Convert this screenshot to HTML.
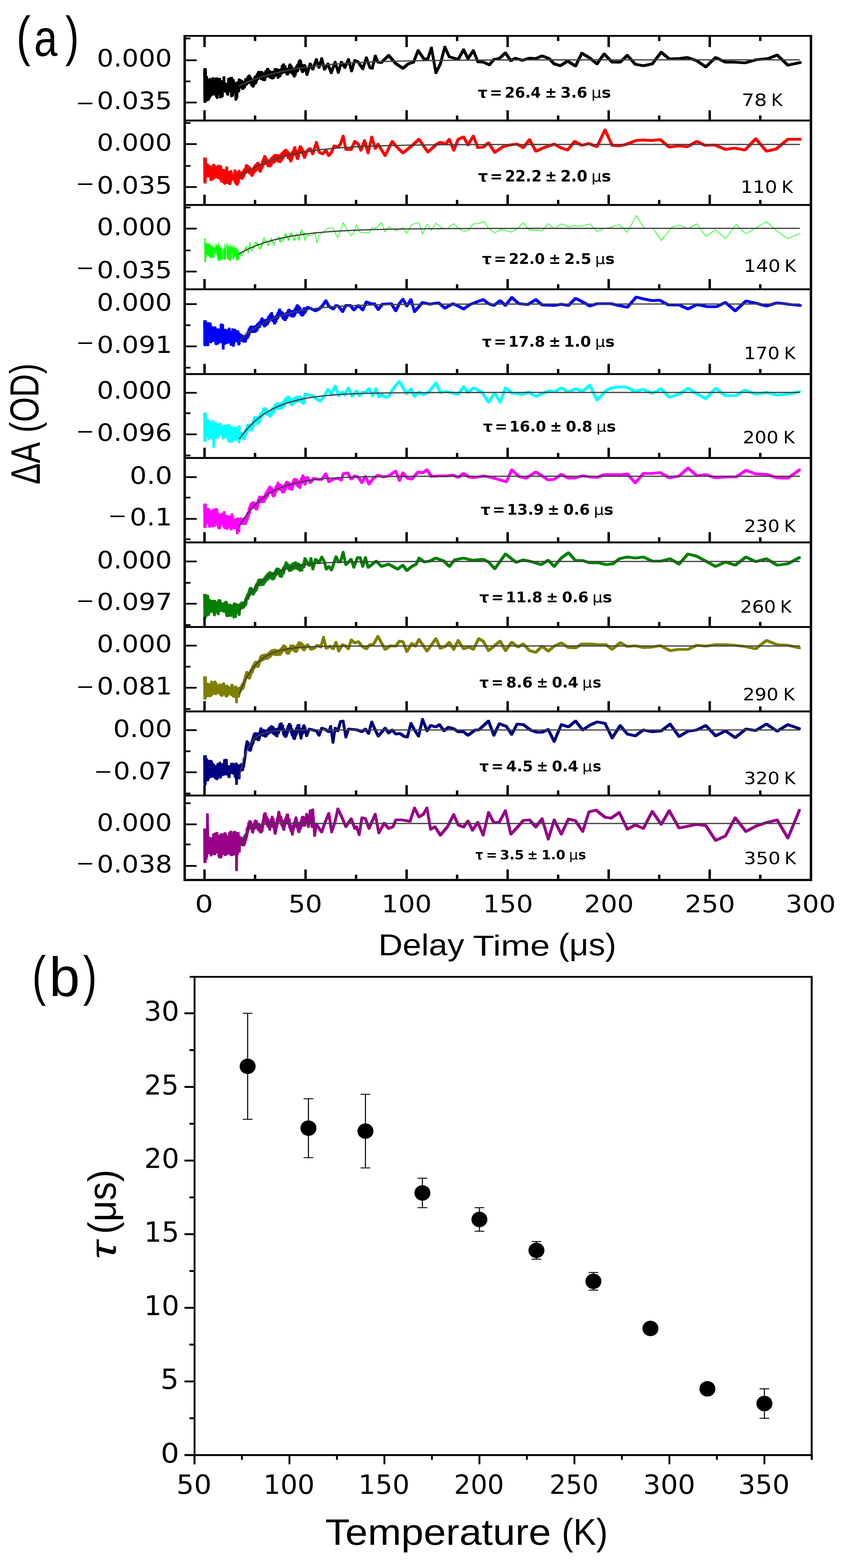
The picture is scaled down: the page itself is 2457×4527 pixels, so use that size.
<!DOCTYPE html><html><head><meta charset="utf-8"><style>html,body{margin:0;padding:0;background:#fff}svg{display:block}</style></head><body>
<svg xmlns="http://www.w3.org/2000/svg" width="2457" height="4527" viewBox="0 0 2457 4527">
<rect width="2457" height="4527" fill="#fff"/>
<g fill="none" stroke="#000000" stroke-width="4.2" stroke-linejoin="round" stroke-linecap="round"><polyline id="tr0" transform="translate(-1.7,-1.7)" points="590.5,200.3 591.2,293.2 591.9,200.4 592.6,293.3 593.3,200.6 594.0,286.0 594.7,278.8 595.4,231.9 596.1,231.8 596.8,223.0 597.5,283.8 598.2,231.9 598.9,288.7 599.6,232.8 600.3,286.0 601.0,234.1 601.7,233.8 602.4,285.7 603.1,232.2 603.8,279.4 604.5,273.3 605.2,280.5 605.9,228.9 606.6,274.2 607.3,234.1 608.0,276.1 608.7,273.4 609.4,232.5 610.1,267.3 610.8,236.2 611.5,272.5 612.2,231.0 612.9,269.1 613.6,269.2 614.3,227.6 615.0,226.5 615.7,267.1 616.4,235.8 617.1,272.3 617.8,234.1 618.5,233.5 619.2,261.2 619.9,264.1 620.6,232.9 621.3,261.2 622.0,230.0 622.7,261.9 623.4,227.1 624.1,276.5 624.8,276.6 625.5,227.1 626.2,280.3 626.9,281.8 627.6,233.8 628.3,271.2 629.0,234.1 629.7,231.5 630.4,233.5 631.1,233.3 631.8,265.4 632.5,228.2 633.2,268.6 633.9,228.6 634.6,263.5 635.3,232.2 636.0,280.4 636.7,237.8 637.4,237.8 638.1,234.9 638.8,274.1 639.5,236.1 640.2,273.3 640.9,240.8 641.6,278.1 642.3,273.6 643.0,241.9 643.7,259.3 644.4,242.5 645.1,259.1 645.8,259.1 646.5,223.8 647.2,257.2 647.9,243.4 648.6,258.9 649.3,242.6 650.0,244.5 650.7,263.9 651.4,242.3 652.1,261.0 652.8,245.9 653.5,261.1 654.2,245.0 654.9,262.2 655.6,243.5 656.3,270.2 657.0,246.0 657.7,272.7 658.4,260.9 659.1,259.5 659.8,228.9 660.5,232.6 661.2,260.0 661.9,260.5 662.6,262.8 663.3,228.1 664.0,261.3 664.7,226.2 665.4,262.5 666.1,261.7 666.8,238.0 667.5,238.6 668.2,277.2 668.9,225.2 669.6,227.8 670.3,272.9 671.0,233.4 671.7,274.9 672.4,231.2 673.1,265.8 673.8,232.4 674.5,263.0 675.2,265.6 675.9,263.1 676.6,239.0 677.3,243.9 678.0,263.8 678.7,243.6 679.4,248.3 680.1,245.3 680.8,287.3 681.5,245.6 682.2,283.9 682.9,246.5 683.6,279.0 684.3,278.6 685.0,240.5 685.7,262.7 686.4,237.5 687.1,264.2 687.8,239.7 688.5,262.8 689.2,245.2 689.9,262.3 690.6,230.1 691.3,234.0 692.0,245.9 692.7,244.1 693.4,232.3 694.1,248.2 694.8,236.6 695.5,245.9 696.2,235.1 696.9,237.8 697.6,233.8 698.3,253.2 699.0,248.0 699.7,239.1 700.4,236.6 701.1,256.1 701.8,255.2 702.5,240.1 703.2,250.9 703.9,241.0 704.6,250.6 705.3,237.1 706.0,251.6 706.7,247.8 707.4,237.8 708.1,244.8 708.8,230.2 709.5,229.8 710.2,241.1 710.9,229.0 711.6,243.1 712.3,228.5 713.0,240.8 713.7,230.7 714.4,239.5 715.1,236.2 715.8,222.4 716.5,234.4 717.2,224.8 717.9,236.4 718.6,237.0 719.3,220.4 720.0,218.8 720.7,234.1 721.4,225.6 722.1,238.6 722.8,224.2 723.5,239.3 724.2,226.7 724.9,239.4 725.6,228.1 726.3,245.8 727.0,243.2 727.7,233.8 728.4,244.8 729.1,237.6 729.8,238.1 730.5,249.5 731.2,248.3 731.9,244.0 732.6,231.1 733.3,243.8 734.0,230.3 734.7,239.9 735.4,223.9 736.1,239.6 736.8,223.5 737.5,240.5 738.2,220.5 738.9,233.7 739.6,237.2 740.3,222.3 741.0,232.1 741.7,219.6 742.4,227.5 743.1,214.4 743.8,227.9 744.5,226.0 745.2,213.4 745.9,210.1 746.6,208.3 747.3,220.4 748.0,211.8 748.7,208.5 749.4,211.1 750.1,225.3 750.8,210.0 751.5,224.8 752.2,210.9 752.9,208.5 753.6,211.3 754.3,227.7 755.0,209.9 755.7,225.7 756.4,208.9 757.1,222.9 757.8,227.5 758.5,216.0 759.2,229.3 759.9,216.4 760.6,227.4 761.3,224.3 762.0,212.2 762.7,231.0 763.4,217.2 764.1,229.0 764.8,229.6 765.5,213.0 766.2,222.7 766.9,207.6 767.6,206.2 768.3,211.0 769.0,220.2 769.7,219.2 770.4,205.9 771.1,219.2 771.8,199.9 772.5,215.6 773.2,199.7 773.9,218.7 774.6,203.7 775.3,213.8 776.0,203.5 776.7,217.9 777.4,208.8 778.1,221.4 778.8,209.8 779.5,222.2 780.2,207.5 780.9,210.8 781.6,224.3 782.3,210.0 783.0,219.1 783.7,212.2 784.4,222.9 785.1,208.1 785.8,225.8 786.5,209.2 787.2,223.5 787.9,225.4 788.6,208.7 789.3,208.4 790.0,223.6 790.7,208.2 791.4,218.0 792.1,206.8 792.8,219.5 793.5,204.0 794.2,199.7 794.9,213.9 795.6,201.3 796.3,213.6 797.0,214.6 797.7,199.8 798.4,216.8 799.1,203.2 799.8,215.5 800.5,202.3 801.2,216.4 801.9,208.1 802.6,223.9 803.3,210.5 804.0,221.1 804.7,219.1 805.4,219.5 806.1,219.6 806.8,202.6 807.5,218.6 808.2,202.9 808.9,219.0 809.6,202.0 810.3,211.5 811.0,203.0 811.7,208.6 812.4,210.4 813.1,199.7 813.8,211.5 814.5,191.5 815.2,207.2 815.9,192.1 816.6,208.1 817.3,189.4 818.0,199.2 818.7,186.6 819.4,202.9 820.1,191.6 820.8,205.0 821.5,191.5 822.2,207.4 822.9,206.3 823.6,192.8 824.3,209.0 825.0,200.8 825.7,208.8 826.4,200.7 827.1,200.1 827.8,204.8 828.5,213.6 829.2,204.5 829.9,214.6 830.6,204.0 831.3,210.8 832.0,211.2 832.7,199.5 833.4,208.5 834.1,198.5 834.8,204.9 835.5,190.3 836.2,208.1 836.9,187.3 837.6,186.8 838.3,190.2 839.0,203.2 839.7,194.1 840.4,207.9 841.2,192.1 841.9,209.9 842.6,196.1 843.3,211.3 844.0,197.8 844.7,211.9 845.4,199.8 846.1,212.5 846.8,200.6 847.5,216.0 848.2,201.6 848.9,205.0 849.6,220.1 850.3,203.4 851.0,215.3 851.7,201.8 852.4,216.3 853.1,197.0 853.8,210.0 854.5,209.1 855.2,206.0 855.9,197.9 856.6,191.5 857.3,191.7 858.0,202.3 858.7,188.9 859.4,204.4 860.1,187.5 860.8,198.8 861.5,196.5 862.2,185.1 862.9,179.9 863.6,190.1 864.3,177.6 865.0,193.8 865.7,174.8 866.4,188.7 867.1,189.0 867.8,177.1 868.5,180.5 869.2,185.3 869.9,200.1 870.6,188.0 871.3,189.7 872.0,204.7 872.7,191.4 873.4,207.4 874.1,202.3 874.8,190.5 875.5,204.6 876.2,193.2 876.9,200.7 877.6,191.5 878.3,188.4 879.0,199.0 879.7,200.9 880.0,189.7 886.2,215.4 895.5,184.5 903.2,200.0 913.5,171.7 921.2,194.8 928.9,169.1 936.7,200.0 947.0,184.5 956.2,210.3 967.6,179.4 976.8,209.3 985.6,179.4 995.9,194.8 1006.2,171.7 1014.9,205.1 1024.2,174.2 1034.5,179.4 1047.4,199.0 1057.7,166.5 1068.0,194.8 1074.7,197.4 1083.4,161.4 1091.2,179.4 1101.5,180.4 1122.1,159.8 1142.7,183.5 1163.3,197.4 1178.7,184.5 1194.2,179.4 1207.0,145.9 1225.1,171.7 1235.4,169.1 1245.7,138.2 1258.5,210.3 1271.4,184.5 1284.3,135.6 1297.2,163.9 1322.9,171.7 1338.4,143.3 1351.2,169.1 1366.7,145.9 1379.6,178.4 1395.0,179.4 1413.0,187.1 1425.9,171.7 1441.4,169.1 1459.4,152.6 1474.8,175.3 1487.7,168.1 1508.3,174.2 1528.9,168.1 1547.0,169.1 1565.0,161.4 1585.6,169.1 1600.0,184.5 1618.0,189.7 1638.6,176.3 1661.8,190.7 1679.8,153.6 1703.0,167.5 1723.6,184.5 1744.2,155.7 1767.4,179.4 1790.6,179.4 1811.2,159.8 1834.3,185.6 1857.5,189.7 1883.3,184.5 1909.0,150.6 1932.2,170.1 1960.5,169.1 1983.7,166.0 2012.0,175.3 2037.8,193.3 2066.1,166.0 2094.4,179.4 2120.2,179.4 2151.1,181.5 2182.0,172.7 2218.0,169.1 2243.8,158.8 2274.7,188.2 2310.7,180.4"/><use href="#tr0" x="3.4" y="0"/><use href="#tr0" x="0" y="3.4"/><use href="#tr0" x="3.4" y="3.4"/></g>
<polyline points="690.3,247.80 693.2,246.39 696.1,245.01 699.0,243.65 701.9,242.32 704.9,241.01 707.8,239.73 710.7,238.48 713.6,237.24 716.5,236.03 719.4,234.84 722.4,233.68 725.3,232.53 728.2,231.41 731.1,230.31 734.0,229.23 736.9,228.17 739.9,227.13 742.8,226.11 745.7,225.10 748.6,224.12 751.5,223.16 754.4,222.21 757.4,221.28 760.3,220.37 763.2,219.47 766.1,218.60 769.0,217.74 772.0,216.89 774.9,216.06 777.8,215.25 780.7,214.45 783.6,213.67 786.5,212.90 789.5,212.14 792.4,211.40 795.3,210.68 798.2,209.97 801.1,209.27 804.0,208.58 807.0,207.91 809.9,207.25 812.8,206.60 815.7,205.96 818.6,205.34 821.5,204.73 824.5,204.13 827.4,203.54 830.3,202.96 833.2,202.39 836.1,201.83 839.0,201.29 842.0,200.75 844.9,200.22 847.8,199.71 850.7,199.20 853.6,198.70 856.6,198.22 859.5,197.74 862.4,197.27 865.3,196.81 868.2,196.35 871.1,195.91 874.1,195.47 877.0,195.05 879.9,194.63 882.8,194.22 885.7,193.81 888.6,193.42 891.6,193.03 894.5,192.65 897.4,192.27 900.3,191.91 903.2,191.54 906.1,191.19 909.1,190.84 912.0,190.50 914.9,190.17 917.8,189.84 920.7,189.52 923.6,189.21 926.6,188.90 929.5,188.59 932.4,188.29 935.3,188.00 938.2,187.71 941.2,187.43 944.1,187.16 947.0,186.88 949.9,186.62 952.8,186.36 955.7,186.10 958.7,185.85 961.6,185.60 964.5,185.36 967.4,185.12 970.3,184.89 973.2,184.66 976.2,184.44 979.1,184.22 982.0,184.00 984.9,183.79 987.8,183.58 990.7,183.38 993.7,183.18 996.6,182.98 999.5,182.79 1002.4,182.60 1005.3,182.41 1008.3,182.23 1011.2,182.05 1014.1,181.88 1017.0,181.70 1019.9,181.53 1022.8,181.37 1025.8,181.21 1028.7,181.05 1031.6,180.89 1034.5,180.74 1037.4,180.59 1040.3,180.44 1043.3,180.29 1046.2,180.15 1049.1,180.01 1052.0,179.87 1054.9,179.74 1057.8,179.61 1081.2,178.64 1104.5,177.80 1127.9,177.08 1151.2,176.47 1174.5,175.94 1197.9,175.48 1221.2,175.09 1244.5,174.76 1267.9,174.47 1291.2,174.22 1314.6,174.00 1337.9,173.82 1361.2,173.66 1384.6,173.53 1407.9,173.41 1431.3,173.31 1454.6,173.23 1477.9,173.15 1501.3,173.09 1524.6,173.03 1547.9,172.99 1571.3,172.95 1594.6,172.91 1618.0,172.88 1641.3,172.86 1664.6,172.83 1688.0,172.82 1711.3,172.80 1734.6,172.79 1758.0,172.77 1781.3,172.76 1804.7,172.75 1828.0,172.75 1851.3,172.74 1874.7,172.73 1898.0,172.73 1921.3,172.73 1944.7,172.72 1968.0,172.72 1991.4,172.72 2014.7,172.71 2038.0,172.71 2061.4,172.71 2084.7,172.71 2108.1,172.71 2131.4,172.71 2154.7,172.71 2178.1,172.70 2201.4,172.70 2224.7,172.70 2248.1,172.70 2271.4,172.70 2294.8,172.70 2309.3,172.70" fill="none" stroke="#404040" stroke-width="3.6"/>
<g fill="none" stroke="#ff0000" stroke-width="4.2" stroke-linejoin="round" stroke-linecap="round"><polyline id="tr1" transform="translate(-1.7,-1.7)" points="590.5,458.2 591.2,526.0 591.9,458.5 592.6,526.3 593.3,458.8 594.0,510.4 594.7,479.1 595.4,505.0 596.1,478.5 596.8,508.3 597.5,507.0 598.2,475.3 598.9,478.9 599.6,479.3 600.3,508.1 601.0,508.9 601.7,482.4 602.4,478.8 603.1,508.0 603.8,508.0 604.5,485.2 605.2,506.8 605.9,482.4 606.6,508.9 607.3,487.4 608.0,485.8 608.7,519.1 609.4,481.7 610.1,482.6 610.8,513.7 611.5,483.0 612.2,514.9 612.9,516.8 613.6,490.3 614.3,514.3 615.0,489.2 615.7,514.5 616.4,476.5 617.1,513.9 617.8,512.0 618.5,478.9 619.2,478.8 619.9,509.0 620.6,483.2 621.3,511.2 622.0,509.5 622.7,491.3 623.4,506.8 624.1,492.4 624.8,492.9 625.5,508.6 626.2,492.9 626.9,509.8 627.6,482.2 628.3,508.8 629.0,487.4 629.7,513.1 630.4,479.6 631.1,513.1 631.8,479.3 632.5,512.2 633.2,486.6 633.9,510.4 634.6,512.8 635.3,516.2 636.0,482.7 636.7,516.8 637.4,480.7 638.1,513.4 638.8,489.6 639.5,523.5 640.2,519.8 640.9,492.9 641.6,520.9 642.3,494.5 643.0,491.9 643.7,522.5 644.4,494.1 645.1,491.8 645.8,525.5 646.5,525.5 647.2,497.7 647.9,528.1 648.6,497.9 649.3,529.8 650.0,515.5 650.7,495.8 651.4,515.4 652.1,497.3 652.8,515.8 653.5,489.2 654.2,515.4 654.9,483.9 655.6,515.2 656.3,496.0 657.0,527.4 657.7,524.1 658.4,499.2 659.1,526.6 659.8,497.1 660.5,524.0 661.2,497.3 661.9,498.3 662.6,530.2 663.3,524.9 664.0,504.1 664.7,530.3 665.4,503.8 666.1,522.5 666.8,494.8 667.5,499.8 668.2,514.1 668.9,500.8 669.6,516.7 670.3,515.7 671.0,507.0 671.7,518.1 672.4,508.2 673.1,507.7 673.8,517.1 674.5,507.0 675.2,516.8 675.9,507.2 676.6,518.8 677.3,517.9 678.0,492.9 678.7,525.3 679.4,494.3 680.1,506.9 680.8,529.1 681.5,505.2 682.2,529.7 682.9,498.4 683.6,530.3 684.3,498.7 685.0,532.8 685.7,501.2 686.4,501.9 687.1,527.4 687.8,501.7 688.5,523.6 689.2,504.9 689.9,506.4 690.6,493.8 691.3,509.1 692.0,509.0 692.7,499.7 693.4,513.7 694.1,514.1 694.8,499.4 695.5,512.3 696.2,503.4 696.9,499.9 697.6,512.9 698.3,504.2 699.0,513.4 699.7,515.3 700.4,501.1 701.1,511.1 701.8,495.7 702.5,499.2 703.2,505.8 703.9,508.0 704.6,504.0 705.3,489.9 706.0,502.9 706.7,490.8 707.4,497.6 708.1,495.7 708.8,498.8 709.5,495.4 710.2,479.5 710.9,481.2 711.6,491.5 712.3,477.5 713.0,493.0 713.7,484.6 714.4,492.1 715.1,480.6 715.8,494.5 716.5,486.4 717.2,494.9 717.9,483.3 718.6,498.6 719.3,485.9 720.0,495.3 720.7,484.3 721.4,490.1 722.1,490.1 722.8,497.8 723.5,499.3 724.2,501.8 724.9,493.7 725.6,491.7 726.3,505.0 727.0,490.5 727.7,506.9 728.4,490.6 729.1,504.1 729.8,492.5 730.5,492.3 731.2,501.5 731.9,489.7 732.6,487.3 733.3,483.5 734.0,497.0 734.7,495.8 735.4,483.0 736.1,491.7 736.8,478.6 737.5,489.0 738.2,492.2 738.9,476.7 739.6,491.6 740.3,476.3 741.0,488.1 741.7,474.0 742.4,482.5 743.1,482.2 743.8,471.9 744.5,481.3 745.2,470.5 745.9,482.8 746.6,475.3 747.3,484.7 748.0,479.6 748.7,490.8 749.4,476.0 750.1,491.9 750.8,483.5 751.5,494.8 752.2,494.3 752.9,492.1 753.6,478.0 754.3,477.4 755.0,485.1 755.7,475.7 756.4,484.7 757.1,471.0 757.8,466.5 758.5,479.3 759.2,468.6 759.9,465.5 760.6,459.4 761.3,473.9 762.0,469.0 762.7,457.3 763.4,467.5 764.1,451.2 764.8,466.0 765.5,465.0 766.2,453.2 766.9,457.6 767.6,472.0 768.3,471.3 769.0,468.4 769.7,461.8 770.4,460.7 771.1,473.2 771.8,461.5 772.5,474.1 773.2,463.8 773.9,479.2 774.6,465.2 775.3,478.3 776.0,465.7 776.7,477.7 777.4,466.7 778.1,478.4 778.8,465.5 779.5,479.8 780.2,466.1 780.9,476.1 781.6,460.4 782.3,464.4 783.0,475.4 783.7,472.3 784.4,457.1 785.1,468.9 785.8,456.9 786.5,460.0 787.2,467.5 787.9,453.9 788.6,458.0 789.3,465.3 790.0,452.4 790.7,468.7 791.4,468.1 792.1,449.7 792.8,466.4 793.5,451.6 794.2,452.0 794.9,448.0 795.6,462.8 796.3,458.7 797.0,448.9 797.7,462.3 798.4,451.3 799.1,463.0 799.8,453.6 800.5,460.2 801.2,449.1 801.9,460.3 802.6,448.9 803.3,465.8 804.0,451.8 804.7,465.1 805.4,449.5 806.1,466.1 806.8,454.1 807.5,463.3 808.2,451.9 808.9,467.3 809.6,463.6 810.3,461.4 811.0,452.5 811.7,462.6 812.4,446.2 813.1,460.9 813.8,460.2 814.5,443.4 815.2,442.6 815.9,442.4 816.6,455.6 817.3,442.3 818.0,454.1 818.7,439.4 819.4,438.3 820.1,448.2 820.8,447.4 821.5,437.0 822.2,443.4 822.9,435.2 823.6,444.1 824.3,445.3 825.0,433.3 825.7,445.2 826.4,437.6 827.1,435.1 827.8,449.4 828.5,446.3 829.2,440.5 829.9,448.8 830.6,439.1 831.3,443.1 832.0,456.0 832.7,445.2 833.4,455.0 834.1,441.6 834.8,457.0 835.5,444.5 836.2,449.4 836.9,457.9 837.6,445.6 838.3,462.7 839.0,447.2 839.7,465.1 840.4,452.4 841.2,451.1 841.9,460.9 842.6,444.2 843.3,456.1 844.0,439.7 844.7,451.2 845.4,450.8 846.1,438.7 846.8,446.0 847.5,436.8 848.2,432.5 848.9,440.1 849.6,427.5 850.3,435.9 851.0,436.5 851.7,426.0 852.4,442.1 853.1,434.9 853.8,444.5 854.5,435.6 855.2,448.9 855.9,449.9 856.6,439.5 857.3,456.6 858.0,456.9 858.7,451.2 859.4,458.1 860.1,444.9 860.8,455.0 861.5,439.4 862.2,451.0 862.9,437.8 863.6,432.9 864.3,438.8 865.0,427.0 865.7,426.8 866.4,431.9 867.1,423.1 867.8,435.6 868.5,438.3 869.2,435.3 869.9,426.7 870.6,440.1 871.3,429.7 872.0,441.0 872.7,431.4 873.4,441.9 874.1,436.9 874.8,445.1 875.5,437.3 876.2,448.5 876.9,437.5 877.6,450.0 878.3,441.3 879.0,455.1 879.7,444.6 880.0,452.0 887.7,434.0 895.5,428.8 903.2,444.3 913.5,410.8 921.2,439.1 931.5,444.3 940.8,434.0 949.5,449.4 957.3,439.1 965.0,421.1 975.3,424.7 983.0,416.0 990.7,392.8 998.5,431.4 1013.9,431.4 1024.2,408.2 1034.5,416.0 1042.2,434.0 1052.5,405.7 1062.8,441.7 1073.1,395.4 1083.4,428.8 1091.2,416.0 1111.8,449.4 1132.4,408.2 1142.7,421.1 1163.3,441.7 1189.0,421.1 1209.6,402.1 1235.4,439.1 1261.1,416.0 1271.4,410.8 1286.9,416.0 1297.2,402.1 1310.0,434.0 1322.9,402.1 1338.4,395.4 1351.2,418.5 1366.7,392.8 1379.6,426.3 1395.0,424.7 1410.5,412.4 1428.5,440.2 1451.7,423.7 1472.3,418.5 1492.9,416.0 1510.9,426.3 1528.9,403.1 1547.0,436.6 1570.1,426.3 1600.0,416.0 1618.0,426.3 1638.6,433.0 1659.2,408.2 1679.8,419.6 1700.4,414.4 1723.6,423.7 1746.8,374.8 1767.4,419.6 1788.0,421.1 1806.0,417.5 1836.9,405.7 1857.5,404.1 1880.7,405.7 1906.4,403.1 1932.2,424.7 1960.5,421.1 1983.7,423.7 2012.0,408.2 2035.2,419.6 2063.5,418.5 2094.4,431.4 2120.2,427.8 2151.1,433.0 2182.0,400.5 2212.9,436.6 2241.2,429.9 2274.7,402.1 2310.7,402.1"/><use href="#tr1" x="3.4" y="0"/><use href="#tr1" x="0" y="3.4"/><use href="#tr1" x="3.4" y="3.4"/></g>
<polyline points="689.7,511.00 692.6,508.91 695.5,506.86 698.4,504.86 701.4,502.90 704.3,500.99 707.2,499.12 710.1,497.29 713.0,495.50 715.9,493.75 718.9,492.04 721.8,490.37 724.7,488.74 727.6,487.14 730.5,485.58 733.4,484.05 736.4,482.56 739.3,481.10 742.2,479.67 745.1,478.27 748.0,476.91 750.9,475.58 753.9,474.27 756.8,473.00 759.7,471.75 762.6,470.53 765.5,469.34 768.5,468.17 771.4,467.03 774.3,465.92 777.2,464.83 780.1,463.76 783.0,462.72 786.0,461.70 788.9,460.71 791.8,459.73 794.7,458.78 797.6,457.85 800.5,456.94 803.5,456.05 806.4,455.18 809.3,454.33 812.2,453.50 815.1,452.69 818.0,451.89 821.0,451.12 823.9,450.36 826.8,449.61 829.7,448.89 832.6,448.18 835.5,447.48 838.5,446.80 841.4,446.14 844.3,445.49 847.2,444.86 850.1,444.24 853.1,443.63 856.0,443.04 858.9,442.46 861.8,441.89 864.7,441.34 867.6,440.79 870.6,440.26 873.5,439.75 876.4,439.24 879.3,438.74 882.2,438.26 885.1,437.79 888.1,437.32 891.0,436.87 893.9,436.43 896.8,436.00 899.7,435.57 902.6,435.16 905.6,434.75 908.5,434.36 911.4,433.97 914.3,433.59 917.2,433.22 920.1,432.86 923.1,432.51 926.0,432.16 928.9,431.83 931.8,431.50 934.7,431.17 937.7,430.86 940.6,430.55 943.5,430.25 946.4,429.95 949.3,429.66 952.2,429.38 955.2,429.11 958.1,428.84 961.0,428.57 963.9,428.32 966.8,428.06 969.7,427.82 972.7,427.58 975.6,427.34 978.5,427.11 981.4,426.89 984.3,426.67 987.2,426.45 990.2,426.24 993.1,426.03 996.0,425.83 998.9,425.64 1001.8,425.44 1004.7,425.26 1007.7,425.07 1010.6,424.89 1013.5,424.72 1016.4,424.54 1019.3,424.38 1022.3,424.21 1025.2,424.05 1028.1,423.89 1031.0,423.74 1033.9,423.59 1036.8,423.44 1039.8,423.30 1042.7,423.16 1045.6,423.02 1048.5,422.89 1051.4,422.76 1054.3,422.63 1057.3,422.50 1080.6,421.60 1103.9,420.84 1127.3,420.21 1150.6,419.68 1174.0,419.24 1197.3,418.87 1220.6,418.56 1244.0,418.30 1267.3,418.09 1290.6,417.91 1314.0,417.76 1337.3,417.63 1360.7,417.53 1384.0,417.44 1407.3,417.37 1430.7,417.31 1454.0,417.26 1477.3,417.21 1500.7,417.18 1524.0,417.15 1547.4,417.13 1570.7,417.10 1594.0,417.09 1617.4,417.07 1640.7,417.06 1664.0,417.05 1687.4,417.04 1710.7,417.04 1734.1,417.03 1757.4,417.02 1780.7,417.02 1804.1,417.02 1827.4,417.01 1850.8,417.01 1874.1,417.01 1897.4,417.01 1920.8,417.01 1944.1,417.01 1967.4,417.00 1990.8,417.00 2014.1,417.00 2037.5,417.00 2060.8,417.00 2084.1,417.00 2107.5,417.00 2130.8,417.00 2154.1,417.00 2177.5,417.00 2200.8,417.00 2224.2,417.00 2247.5,417.00 2270.8,417.00 2294.2,417.00 2309.3,417.00" fill="none" stroke="#404040" stroke-width="3.6"/>
<polyline points="590.5,688.5 591.4,756.2 592.3,688.7 593.1,756.4 594.0,751.5 594.9,701.4 595.8,701.5 596.6,743.3 597.5,702.3 598.4,736.4 599.3,706.3 600.1,737.1 601.0,701.4 601.9,739.3 602.8,705.6 603.6,739.3 604.5,703.9 605.4,743.1 606.3,702.4 607.1,745.3 608.0,709.1 608.9,745.0 609.8,708.5 610.6,740.9 611.5,711.6 612.4,712.6 613.3,745.7 614.1,708.4 615.0,742.1 615.9,714.6 616.8,742.4 617.6,716.9 618.5,715.3 619.4,713.3 620.3,744.7 621.1,713.8 622.0,715.7 622.9,733.2 623.8,709.0 624.6,704.2 625.5,736.5 626.4,708.6 627.3,711.1 628.1,747.8 629.0,708.0 629.9,750.5 630.8,699.0 631.6,752.7 632.5,708.8 633.4,754.6 634.3,709.7 635.1,747.5 636.0,716.5 636.9,751.1 637.8,712.9 638.6,751.3 639.5,714.8 640.4,743.7 641.3,715.9 642.1,746.9 643.0,748.2 643.9,749.6 644.8,718.7 645.6,720.7 646.5,748.0 647.4,717.8 648.3,750.6 649.1,704.7 650.0,748.3 650.9,711.6 651.8,746.7 652.6,711.3 653.5,709.3 654.4,708.6 655.3,702.2 656.1,744.7 657.0,748.1 657.9,707.8 658.8,750.1 659.6,709.5 660.5,714.0 661.4,751.9 662.3,748.8 663.1,708.1 664.0,753.4 664.9,748.2 665.8,704.4 666.6,751.3 667.5,712.3 668.4,744.0 669.3,714.1 670.1,710.4 671.0,717.8 671.9,746.9 672.8,715.9 673.6,749.9 674.5,711.5 675.4,741.9 676.3,709.7 677.1,742.0 678.0,741.7 678.9,715.7 679.8,740.1 680.6,715.7 681.5,739.6 682.4,749.8 683.3,715.8 684.1,753.6 685.0,719.8 685.9,747.0 686.8,720.3 687.6,751.7 688.5,723.3 689.4,748.2 690.3,734.9 692.0,728.3 693.8,735.3 695.5,738.3 697.3,729.5 699.0,740.3 700.8,738.0 702.5,734.1 704.3,724.5 706.0,726.2 707.8,714.5 709.5,719.7 711.3,709.8 713.0,722.3 714.8,719.8 716.5,732.2 718.3,713.2 720.0,719.2 721.8,699.1 723.5,715.5 725.3,719.4 727.0,725.0 728.8,722.4 730.5,712.8 732.3,717.1 734.0,714.5 735.8,702.6 737.5,698.9 739.3,703.9 741.0,706.8 742.8,698.8 744.5,709.9 746.3,703.9 748.0,717.5 749.8,718.9 751.5,712.5 753.3,718.9 755.0,706.4 756.8,711.1 758.5,695.5 760.3,698.8 762.0,684.6 763.8,691.0 765.5,699.7 767.3,701.1 769.0,695.5 770.8,695.4 772.5,706.4 774.3,710.2 776.0,701.3 777.8,704.9 779.5,698.2 781.3,698.4 783.0,686.3 784.8,698.4 786.5,692.0 788.3,702.3 790.0,698.7 791.8,708.7 793.5,702.2 795.3,697.5 797.0,692.0 798.8,689.2 800.5,691.4 802.3,689.3 804.0,682.8 805.8,684.5 807.5,697.8 809.3,685.9 811.0,700.0 812.8,699.9 814.5,691.6 816.3,690.0 818.0,695.1 819.8,690.6 821.5,684.9 823.3,673.1 825.0,682.8 826.8,676.2 828.5,686.4 830.3,684.1 832.0,695.9 833.8,687.5 835.5,692.4 837.3,676.5 839.0,678.0 840.8,670.9 842.6,682.7 844.3,676.7 846.1,688.0 847.8,694.0 849.6,687.2 851.3,694.6 853.1,688.2 854.8,674.3 856.6,681.1 858.3,677.3 860.1,690.3 861.8,683.9 863.6,695.2 865.3,681.1 867.1,669.1 868.8,674.4 870.6,661.7 872.3,666.9 874.1,678.7 875.8,681.0 877.6,670.7 879.3,683.1 880.0,694.3 885.2,680.4 903.2,678.9 908.3,670.1 915.0,701.0 921.2,678.9 931.5,671.1 941.8,661.9 949.5,658.3 959.8,656.7 965.0,667.0 975.3,686.6 990.7,642.8 1003.6,666.0 1013.9,680.4 1021.6,671.1 1029.4,649.5 1039.7,671.1 1050.0,672.2 1065.4,672.2 1073.1,658.3 1086.0,658.3 1101.5,642.8 1111.8,670.1 1122.1,654.7 1132.4,660.8 1142.7,666.0 1153.0,661.9 1163.3,657.2 1173.6,673.7 1189.0,648.0 1209.6,642.8 1219.9,676.3 1232.8,646.4 1245.7,665.0 1258.5,644.4 1276.6,658.3 1292.0,659.8 1310.0,645.4 1325.5,660.8 1338.4,667.0 1351.2,666.0 1366.7,646.4 1382.1,645.4 1397.6,639.2 1410.5,658.3 1428.5,672.2 1446.5,662.4 1477.4,670.1 1495.5,658.3 1510.9,642.8 1526.4,663.4 1549.5,665.0 1565.0,667.0 1583.0,645.4 1600.0,660.8 1620.6,646.4 1641.2,654.7 1656.7,651.6 1679.8,653.1 1703.0,646.4 1723.6,668.6 1741.6,660.8 1762.2,656.7 1788.0,648.0 1811.2,671.1 1836.9,622.2 1860.1,658.3 1885.8,659.8 1909.0,694.3 1939.9,655.7 1960.5,649.5 1986.3,660.8 2012.0,646.4 2037.8,682.5 2066.1,663.4 2094.4,689.2 2125.3,648.0 2153.6,675.3 2182.0,658.3 2212.9,640.2 2243.8,667.0 2274.7,689.2 2308.2,673.7" fill="none" stroke="#00ff00" stroke-width="1.8" stroke-linejoin="round" stroke-linecap="round"/>
<polyline points="689.7,733.00 692.6,731.34 695.5,729.72 698.4,728.14 701.4,726.60 704.3,725.08 707.2,723.61 710.1,722.16 713.0,720.75 715.9,719.37 718.9,718.02 721.8,716.70 724.7,715.41 727.6,714.15 730.5,712.91 733.4,711.71 736.4,710.53 739.3,709.38 742.2,708.26 745.1,707.16 748.0,706.08 750.9,705.03 753.9,704.00 756.8,703.00 759.7,702.01 762.6,701.06 765.5,700.12 768.5,699.20 771.4,698.30 774.3,697.43 777.2,696.57 780.1,695.73 783.0,694.91 786.0,694.11 788.9,693.33 791.8,692.57 794.7,691.82 797.6,691.09 800.5,690.37 803.5,689.68 806.4,688.99 809.3,688.33 812.2,687.67 815.1,687.04 818.0,686.41 821.0,685.80 823.9,685.21 826.8,684.63 829.7,684.06 832.6,683.50 835.5,682.96 838.5,682.42 841.4,681.91 844.3,681.40 847.2,680.90 850.1,680.42 853.1,679.94 856.0,679.48 858.9,679.02 861.8,678.58 864.7,678.15 867.6,677.72 870.6,677.31 873.5,676.91 876.4,676.51 879.3,676.12 882.2,675.74 885.1,675.38 888.1,675.01 891.0,674.66 893.9,674.32 896.8,673.98 899.7,673.65 902.6,673.33 905.6,673.01 908.5,672.70 911.4,672.40 914.3,672.11 917.2,671.82 920.1,671.54 923.1,671.26 926.0,670.99 928.9,670.73 931.8,670.47 934.7,670.22 937.7,669.98 940.6,669.74 943.5,669.50 946.4,669.27 949.3,669.05 952.2,668.83 955.2,668.62 958.1,668.41 961.0,668.20 963.9,668.00 966.8,667.81 969.7,667.62 972.7,667.43 975.6,667.25 978.5,667.07 981.4,666.89 984.3,666.72 987.2,666.56 990.2,666.39 993.1,666.23 996.0,666.08 998.9,665.93 1001.8,665.78 1004.7,665.63 1007.7,665.49 1010.6,665.35 1013.5,665.21 1016.4,665.08 1019.3,664.95 1022.3,664.82 1025.2,664.70 1028.1,664.58 1031.0,664.46 1033.9,664.34 1036.8,664.23 1039.8,664.12 1042.7,664.01 1045.6,663.91 1048.5,663.80 1051.4,663.70 1054.3,663.60 1057.3,663.51 1080.6,662.81 1103.9,662.22 1127.3,661.74 1150.6,661.33 1174.0,660.99 1197.3,660.71 1220.6,660.48 1244.0,660.28 1267.3,660.12 1290.6,659.98 1314.0,659.87 1337.3,659.77 1360.7,659.70 1384.0,659.63 1407.3,659.58 1430.7,659.53 1454.0,659.49 1477.3,659.46 1500.7,659.43 1524.0,659.41 1547.4,659.39 1570.7,659.38 1594.0,659.36 1617.4,659.35 1640.7,659.34 1664.0,659.34 1687.4,659.33 1710.7,659.33 1734.1,659.32 1757.4,659.32 1780.7,659.31 1804.1,659.31 1827.4,659.31 1850.8,659.31 1874.1,659.31 1897.4,659.31 1920.8,659.31 1944.1,659.30 1967.4,659.30 1990.8,659.30 2014.1,659.30 2037.5,659.30 2060.8,659.30 2084.1,659.30 2107.5,659.30 2130.8,659.30 2154.1,659.30 2177.5,659.30 2200.8,659.30 2224.2,659.30 2247.5,659.30 2270.8,659.30 2294.2,659.30 2309.3,659.30" fill="none" stroke="#404040" stroke-width="3.6"/>
<g fill="none" stroke="#0000ff" stroke-width="4.2" stroke-linejoin="round" stroke-linecap="round"><polyline id="tr3" transform="translate(-1.7,-1.7)" points="590.5,928.0 591.2,995.7 591.9,928.2 592.6,995.9 593.3,928.4 594.0,980.7 594.7,950.2 595.4,945.2 596.1,987.6 596.8,944.9 597.5,985.8 598.2,950.8 598.9,993.3 599.6,946.3 600.3,996.1 601.0,933.2 601.7,985.6 602.4,939.2 603.1,987.3 603.8,941.4 604.5,940.3 605.2,982.3 605.9,943.3 606.6,977.9 607.3,934.9 608.0,987.5 608.7,984.2 609.4,944.2 610.1,978.5 610.8,980.0 611.5,949.1 612.2,977.2 612.9,945.5 613.6,951.6 614.3,984.1 615.0,974.8 615.7,952.8 616.4,977.5 617.1,950.6 617.8,953.1 618.5,975.2 619.2,978.1 619.9,976.6 620.6,945.7 621.3,977.3 622.0,948.7 622.7,991.4 623.4,991.3 624.1,958.2 624.8,993.0 625.5,955.6 626.2,987.6 626.9,957.4 627.6,987.3 628.3,954.1 629.0,990.9 629.7,951.5 630.4,984.6 631.1,954.2 631.8,987.9 632.5,959.3 633.2,985.5 633.9,960.1 634.6,985.7 635.3,959.4 636.0,981.5 636.7,987.0 637.4,986.6 638.1,938.3 638.8,980.8 639.5,937.3 640.2,980.8 640.9,977.2 641.6,982.3 642.3,979.8 643.0,939.6 643.7,978.0 644.4,1005.8 645.1,954.2 645.8,984.2 646.5,954.0 647.2,979.4 647.9,953.3 648.6,992.1 649.3,991.7 650.0,952.7 650.7,987.5 651.4,957.0 652.1,989.4 652.8,986.3 653.5,954.6 654.2,989.8 654.9,956.0 655.6,983.7 656.3,958.8 657.0,983.7 657.7,959.1 658.4,983.4 659.1,987.9 659.8,954.0 660.5,982.8 661.2,949.6 661.9,980.6 662.6,951.8 663.3,983.8 664.0,963.8 664.7,982.3 665.4,962.1 666.1,986.8 666.8,994.8 667.5,986.7 668.2,961.6 668.9,987.5 669.6,964.7 670.3,990.5 671.0,989.3 671.7,951.6 672.4,992.8 673.1,958.3 673.8,997.8 674.5,956.5 675.2,992.0 675.9,982.8 676.6,955.8 677.3,984.0 678.0,952.9 678.7,980.3 679.4,982.6 680.1,983.0 680.8,956.8 681.5,982.5 682.2,960.2 682.9,983.0 683.6,959.3 684.3,984.1 685.0,985.1 685.7,958.0 686.4,957.0 687.1,984.4 687.8,960.2 688.5,987.3 689.2,993.6 689.9,967.3 690.6,991.9 691.3,964.8 692.0,981.3 692.7,976.7 693.4,968.7 694.1,979.5 694.8,969.4 695.5,981.7 696.2,967.6 696.9,983.0 697.6,982.9 698.3,982.7 699.0,971.8 699.7,979.3 700.4,974.1 701.1,984.8 701.8,980.2 702.5,973.4 703.2,984.2 703.9,970.7 704.6,984.8 705.3,975.8 706.0,986.0 706.7,975.9 707.4,983.6 708.1,972.7 708.8,985.6 709.5,980.6 710.2,969.1 710.9,970.6 711.6,976.5 712.3,965.5 713.0,974.3 713.7,966.8 714.4,974.9 715.1,972.3 715.8,959.7 716.5,967.3 717.2,970.3 717.9,964.3 718.6,952.3 719.3,965.3 720.0,951.0 720.7,949.7 721.4,958.1 722.1,945.9 722.8,956.8 723.5,954.8 724.2,944.8 724.9,956.5 725.6,943.2 726.3,957.6 727.0,945.8 727.7,955.0 728.4,945.3 729.1,955.0 729.8,953.9 730.5,944.2 731.2,957.8 731.9,945.0 732.6,954.4 733.3,945.1 734.0,956.7 734.7,946.1 735.4,957.8 736.1,955.2 736.8,942.2 737.5,952.6 738.2,946.2 738.9,955.5 739.6,944.0 740.3,954.1 741.0,944.1 741.7,951.3 742.4,938.3 743.1,950.5 743.8,938.2 744.5,935.5 745.2,945.0 745.9,935.4 746.6,942.9 747.3,935.5 748.0,941.4 748.7,932.4 749.4,943.2 750.1,931.4 750.8,938.2 751.5,930.0 752.2,934.9 752.9,928.7 753.6,935.0 754.3,923.9 755.0,922.8 755.7,932.7 756.4,921.5 757.1,920.0 757.8,931.8 758.5,924.1 759.2,933.0 759.9,927.3 760.6,937.5 761.3,927.0 762.0,925.0 762.7,930.3 763.4,938.7 764.1,941.6 764.8,931.4 765.5,939.3 766.2,927.3 766.9,925.7 767.6,937.9 768.3,928.9 769.0,925.1 769.7,933.0 770.4,923.2 771.1,935.6 771.8,935.3 772.5,923.7 773.2,929.9 773.9,931.0 774.6,917.5 775.3,915.9 776.0,924.8 776.7,915.6 777.4,926.4 778.1,914.3 778.8,923.2 779.5,910.7 780.2,921.0 780.9,918.9 781.6,908.2 782.3,919.7 783.0,910.7 783.7,917.7 784.4,904.4 785.1,921.5 785.8,912.2 786.5,911.9 787.2,925.9 787.9,916.0 788.6,926.2 789.3,920.9 790.0,917.2 790.7,923.1 791.4,922.2 792.1,933.3 792.8,920.2 793.5,933.3 794.2,928.5 794.9,919.1 795.6,925.2 796.3,914.3 797.0,927.2 797.7,915.0 798.4,914.1 799.1,920.8 799.8,912.0 800.5,918.0 801.2,907.0 801.9,918.0 802.6,903.3 803.3,914.8 804.0,904.2 804.7,903.0 805.4,911.1 806.1,896.4 806.8,908.9 807.5,894.4 808.2,904.6 808.9,908.1 809.6,911.4 810.3,900.0 811.0,909.0 811.7,901.8 812.4,909.5 813.1,903.7 813.8,910.9 814.5,902.6 815.2,903.2 815.9,917.0 816.6,915.9 817.3,905.5 818.0,919.5 818.7,919.1 819.4,910.8 820.1,921.4 820.8,912.5 821.5,921.7 822.2,909.4 822.9,910.6 823.6,923.4 824.3,918.5 825.0,907.8 825.7,916.2 826.4,907.6 827.1,904.9 827.8,917.3 828.5,912.6 829.2,904.2 829.9,912.9 830.6,901.6 831.3,909.5 832.0,897.4 832.7,899.5 833.4,896.1 834.1,905.8 834.8,895.0 835.5,906.5 836.2,897.9 836.9,907.3 837.6,898.0 838.3,908.0 839.0,900.6 839.7,911.0 840.4,899.7 841.2,912.5 841.9,899.1 842.6,908.7 843.3,902.1 844.0,911.3 844.7,902.4 845.4,913.3 846.1,912.7 846.8,900.7 847.5,912.5 848.2,910.5 848.9,898.9 849.6,910.0 850.3,897.4 851.0,908.8 851.7,893.0 852.4,905.1 853.1,894.4 853.8,902.0 854.5,890.8 855.2,897.9 855.9,886.7 856.6,898.0 857.3,883.6 858.0,895.0 858.7,882.1 859.4,893.8 860.1,884.3 860.8,899.4 861.5,898.1 862.2,885.7 862.9,900.8 863.6,891.1 864.3,902.4 865.0,889.2 865.7,901.9 866.4,889.4 867.1,901.5 867.8,896.1 868.5,895.5 869.2,907.6 869.9,907.3 870.6,909.0 871.3,897.8 872.0,906.0 872.7,910.2 873.4,899.1 874.1,908.3 874.8,909.3 875.5,898.4 876.2,906.6 876.9,891.7 877.6,903.2 878.3,890.3 879.0,901.2 879.7,890.9 880.0,902.5 887.7,887.1 900.6,892.2 910.9,897.4 921.2,892.2 931.5,881.9 940.8,868.0 949.5,884.5 962.4,892.2 970.1,881.9 977.9,884.5 989.2,899.9 998.5,881.9 1011.3,881.9 1021.6,894.8 1034.5,881.9 1047.4,894.8 1057.7,871.6 1070.6,876.8 1080.9,876.8 1092.2,893.8 1104.0,878.3 1129.8,876.8 1142.7,897.4 1153.0,876.8 1163.3,863.9 1174.6,883.5 1186.4,864.9 1196.7,899.9 1219.9,873.2 1240.5,878.3 1266.3,874.2 1284.3,889.6 1307.5,876.8 1322.9,883.5 1338.4,892.2 1356.4,879.3 1395.0,864.9 1410.5,876.8 1425.9,881.9 1443.9,868.0 1459.4,881.9 1477.4,858.7 1498.0,876.8 1523.8,879.3 1547.0,864.9 1565.0,880.4 1600.0,881.9 1620.6,878.3 1641.2,881.9 1661.8,861.3 1682.4,871.6 1703.0,883.5 1723.6,876.8 1764.8,876.8 1785.4,881.9 1811.2,887.1 1836.9,857.7 1857.5,862.9 1883.3,868.0 1903.9,866.5 1929.6,880.4 1960.5,880.4 1986.3,892.2 2012.0,879.3 2042.9,885.5 2068.7,885.5 2094.4,873.2 2122.7,897.4 2153.6,869.0 2182.0,875.2 2212.9,883.5 2243.8,874.2 2274.7,878.3 2310.7,881.9"/><use href="#tr3" x="3.4" y="0"/><use href="#tr3" x="0" y="3.4"/><use href="#tr3" x="3.4" y="3.4"/></g>
<polyline points="691.4,984.00 694.4,981.06 697.3,978.20 700.2,975.42 703.1,972.71 706.0,970.08 708.9,967.53 711.9,965.04 714.8,962.63 717.7,960.28 720.6,957.99 723.5,955.77 726.4,953.61 729.4,951.51 732.3,949.47 735.2,947.48 738.1,945.55 741.0,943.68 743.9,941.85 746.9,940.08 749.8,938.35 752.7,936.68 755.6,935.05 758.5,933.46 761.5,931.92 764.4,930.42 767.3,928.96 770.2,927.54 773.1,926.17 776.0,924.83 779.0,923.52 781.9,922.26 784.8,921.03 787.7,919.83 790.6,918.66 793.5,917.53 796.5,916.43 799.4,915.36 802.3,914.32 805.2,913.31 808.1,912.33 811.0,911.37 814.0,910.44 816.9,909.54 819.8,908.66 822.7,907.80 825.6,906.97 828.5,906.16 831.5,905.38 834.4,904.61 837.3,903.87 840.2,903.15 843.1,902.45 846.1,901.76 849.0,901.10 851.9,900.45 854.8,899.83 857.7,899.22 860.6,898.62 863.6,898.05 866.5,897.49 869.4,896.94 872.3,896.41 875.2,895.90 878.1,895.39 881.1,894.91 884.0,894.43 886.9,893.97 889.8,893.52 892.7,893.09 895.6,892.67 898.6,892.25 901.5,891.85 904.4,891.46 907.3,891.09 910.2,890.72 913.1,890.36 916.1,890.01 919.0,889.67 921.9,889.34 924.8,889.02 927.7,888.71 930.7,888.41 933.6,888.12 936.5,887.83 939.4,887.55 942.3,887.28 945.2,887.02 948.2,886.77 951.1,886.52 954.0,886.28 956.9,886.04 959.8,885.81 962.7,885.59 965.7,885.38 968.6,885.17 971.5,884.96 974.4,884.76 977.3,884.57 980.2,884.38 983.2,884.20 986.1,884.02 989.0,883.85 991.9,883.68 994.8,883.52 997.7,883.36 1000.7,883.21 1003.6,883.06 1006.5,882.91 1009.4,882.77 1012.3,882.63 1015.3,882.50 1018.2,882.37 1021.1,882.24 1024.0,882.12 1026.9,882.00 1029.8,881.88 1032.8,881.77 1035.7,881.66 1038.6,881.55 1041.5,881.45 1044.4,881.35 1047.3,881.25 1050.3,881.15 1053.2,881.06 1056.1,880.97 1059.0,880.88 1082.3,880.26 1105.7,879.77 1129.0,879.37 1152.4,879.05 1175.7,878.80 1199.0,878.60 1222.4,878.44 1245.7,878.31 1269.1,878.21 1292.4,878.13 1315.7,878.06 1339.1,878.01 1362.4,877.97 1385.7,877.93 1409.1,877.91 1432.4,877.88 1455.8,877.87 1479.1,877.85 1502.4,877.84 1525.8,877.83 1549.1,877.83 1572.4,877.82 1595.8,877.82 1619.1,877.81 1642.5,877.81 1665.8,877.81 1689.1,877.81 1712.5,877.81 1735.8,877.80 1759.2,877.80 1782.5,877.80 1805.8,877.80 1829.2,877.80 1852.5,877.80 1875.8,877.80 1899.2,877.80 1922.5,877.80 1945.9,877.80 1969.2,877.80 1992.5,877.80 2015.9,877.80 2039.2,877.80 2062.5,877.80 2085.9,877.80 2109.2,877.80 2132.6,877.80 2155.9,877.80 2179.2,877.80 2202.6,877.80 2225.9,877.80 2249.2,877.80 2272.6,877.80 2295.9,877.80 2309.3,877.80" fill="none" stroke="#404040" stroke-width="3.6"/>
<g fill="none" stroke="#00ffff" stroke-width="4.2" stroke-linejoin="round" stroke-linecap="round"><polyline id="tr4" transform="translate(-1.7,-1.7)" points="590.5,1194.4 591.2,1271.8 591.9,1194.7 592.6,1272.1 593.3,1195.0 594.0,1250.9 594.7,1255.9 595.4,1219.0 596.1,1223.9 596.8,1248.2 597.5,1252.3 598.2,1212.6 598.9,1249.3 599.6,1215.2 600.3,1258.5 601.0,1216.8 601.7,1260.7 602.4,1217.7 603.1,1220.8 603.8,1266.6 604.5,1217.0 605.2,1262.4 605.9,1225.2 606.6,1260.4 607.3,1227.1 608.0,1253.1 608.7,1226.1 609.4,1250.7 610.1,1230.6 610.8,1255.5 611.5,1229.6 612.2,1261.5 612.9,1266.4 613.6,1216.4 614.3,1259.4 615.0,1217.0 615.7,1264.4 616.4,1221.3 617.1,1289.0 617.8,1256.5 618.5,1220.8 619.2,1255.2 619.9,1226.2 620.6,1250.7 621.3,1222.2 622.0,1228.0 622.7,1263.3 623.4,1224.4 624.1,1263.1 624.8,1226.5 625.5,1261.0 626.2,1227.7 626.9,1228.2 627.6,1253.9 628.3,1226.5 629.0,1229.7 629.7,1263.0 630.4,1236.6 631.1,1250.7 631.8,1236.2 632.5,1253.7 633.2,1235.6 633.9,1253.0 634.6,1252.5 635.3,1225.8 636.0,1253.5 636.7,1224.2 637.4,1236.3 638.1,1238.0 638.8,1252.5 639.5,1236.8 640.2,1238.4 640.9,1252.3 641.6,1238.4 642.3,1253.6 643.0,1239.0 643.7,1265.0 644.4,1239.8 645.1,1259.0 645.8,1230.4 646.5,1235.4 647.2,1258.6 647.9,1232.8 648.6,1262.4 649.3,1230.0 650.0,1262.8 650.7,1229.7 651.4,1249.9 652.1,1229.5 652.8,1235.1 653.5,1234.1 654.2,1251.2 654.9,1250.8 655.6,1234.7 656.3,1251.7 657.0,1234.5 657.7,1235.1 658.4,1268.1 659.1,1228.4 659.8,1272.3 660.5,1228.0 661.2,1266.3 661.9,1229.6 662.6,1268.1 663.3,1274.0 664.0,1236.8 664.7,1274.7 665.4,1236.0 666.1,1270.5 666.8,1237.6 667.5,1267.4 668.2,1235.3 668.9,1274.3 669.6,1233.7 670.3,1271.8 671.0,1240.7 671.7,1259.5 672.4,1237.9 673.1,1259.0 673.8,1259.9 674.5,1239.5 675.2,1237.3 675.9,1260.7 676.6,1263.3 677.3,1238.2 678.0,1270.0 678.7,1235.9 679.4,1266.9 680.1,1256.5 680.8,1257.6 681.5,1235.7 682.2,1237.4 682.9,1257.2 683.6,1239.9 684.3,1240.3 685.0,1258.0 685.7,1238.2 686.4,1259.2 687.1,1271.3 687.8,1241.3 688.5,1240.8 689.2,1240.4 689.9,1276.6 690.6,1231.5 691.3,1265.0 692.0,1252.3 692.7,1261.6 693.4,1254.1 694.1,1265.3 694.8,1255.2 695.5,1251.6 696.2,1262.2 696.9,1250.3 697.6,1263.7 698.3,1254.3 699.0,1255.6 699.7,1253.6 700.4,1265.1 701.1,1264.5 701.8,1253.1 702.5,1255.5 703.2,1267.5 703.9,1267.7 704.6,1253.6 705.3,1264.9 706.0,1255.3 706.7,1263.6 707.4,1249.7 708.1,1245.7 708.8,1258.2 709.5,1241.6 710.2,1243.3 710.9,1249.4 711.6,1248.1 712.3,1236.5 713.0,1244.5 713.7,1229.2 714.4,1231.0 715.1,1241.9 715.8,1239.3 716.5,1238.4 717.2,1227.0 717.9,1242.2 718.6,1227.0 719.3,1239.2 720.0,1228.2 720.7,1237.1 721.4,1231.6 722.1,1238.3 722.8,1230.1 723.5,1238.2 724.2,1238.9 724.9,1231.0 725.6,1238.0 726.3,1226.7 727.0,1242.2 727.7,1228.9 728.4,1239.4 729.1,1227.4 729.8,1233.0 730.5,1221.1 731.2,1231.3 731.9,1214.5 732.6,1226.3 733.3,1213.3 734.0,1220.3 734.7,1207.2 735.4,1217.5 736.1,1205.1 736.8,1216.4 737.5,1208.1 738.2,1216.3 738.9,1207.8 739.6,1218.8 740.3,1205.7 741.0,1217.4 741.7,1210.4 742.4,1222.3 743.1,1209.9 743.8,1223.3 744.5,1209.1 745.2,1222.7 745.9,1208.2 746.6,1216.2 747.3,1204.1 748.0,1218.5 748.7,1203.1 749.4,1203.1 750.1,1214.4 750.8,1212.5 751.5,1196.8 752.2,1206.1 752.9,1207.3 753.6,1193.9 754.3,1204.4 755.0,1201.9 755.7,1194.5 756.4,1198.8 757.1,1199.2 757.8,1189.4 758.5,1188.7 759.2,1194.5 759.9,1182.1 760.6,1183.7 761.3,1192.8 762.0,1193.3 762.7,1187.7 763.4,1179.1 764.1,1191.8 764.8,1183.1 765.5,1190.7 766.2,1194.1 766.9,1180.3 767.6,1193.3 768.3,1181.0 769.0,1195.5 769.7,1183.9 770.4,1194.5 771.1,1195.0 771.8,1197.1 772.5,1187.5 773.2,1195.5 773.9,1188.6 774.6,1195.8 775.3,1197.3 776.0,1188.4 776.7,1198.2 777.4,1190.4 778.1,1197.6 778.8,1192.1 779.5,1202.5 780.2,1191.7 780.9,1197.5 781.6,1186.7 782.3,1198.7 783.0,1193.6 783.7,1184.0 784.4,1192.8 785.1,1195.9 785.8,1181.8 786.5,1180.8 787.2,1191.0 787.9,1177.7 788.6,1191.0 789.3,1179.8 790.0,1189.1 790.7,1177.5 791.4,1176.0 792.1,1184.5 792.8,1181.1 793.5,1169.8 794.2,1180.5 794.9,1171.5 795.6,1180.9 796.3,1170.5 797.0,1178.5 797.7,1166.5 798.4,1171.7 799.1,1166.2 799.8,1168.7 800.5,1179.6 801.2,1168.8 801.9,1177.8 802.6,1165.6 803.3,1169.9 804.0,1176.3 804.7,1165.6 805.4,1175.9 806.1,1177.8 806.8,1166.3 807.5,1180.3 808.2,1164.7 808.9,1169.4 809.6,1167.5 810.3,1176.5 811.0,1165.4 811.7,1167.9 812.4,1174.8 813.1,1165.1 813.8,1178.0 814.5,1167.3 815.2,1173.0 815.9,1165.1 816.6,1171.2 817.3,1161.5 818.0,1170.4 818.7,1161.4 819.4,1172.5 820.1,1159.8 820.8,1169.9 821.5,1154.7 822.2,1166.1 822.9,1153.5 823.6,1162.7 824.3,1153.7 825.0,1162.4 825.7,1155.0 826.4,1160.5 827.1,1149.9 827.8,1158.7 828.5,1149.8 829.2,1156.9 829.9,1148.3 830.6,1146.3 831.3,1154.8 832.0,1146.9 832.7,1158.3 833.4,1145.3 834.1,1150.5 834.8,1159.1 835.5,1159.3 836.2,1151.1 836.9,1162.4 837.6,1151.9 838.3,1160.8 839.0,1155.8 839.7,1164.3 840.4,1163.3 841.2,1153.2 841.9,1168.7 842.6,1156.7 843.3,1168.3 844.0,1157.9 844.7,1166.5 845.4,1165.8 846.1,1155.3 846.8,1155.3 847.5,1161.9 848.2,1151.1 848.9,1151.6 849.6,1161.2 850.3,1150.1 851.0,1151.3 851.7,1152.7 852.4,1159.8 853.1,1150.5 853.8,1160.4 854.5,1149.7 855.2,1157.8 855.9,1157.3 856.6,1146.4 857.3,1147.1 858.0,1154.3 858.7,1153.9 859.4,1146.0 860.1,1155.7 860.8,1145.6 861.5,1153.0 862.2,1158.1 862.9,1147.3 863.6,1155.8 864.3,1148.9 865.0,1155.6 865.7,1145.3 866.4,1156.8 867.1,1150.5 867.8,1157.8 868.5,1148.2 869.2,1157.7 869.9,1150.7 870.6,1159.0 871.3,1160.1 872.0,1150.1 872.7,1153.8 873.4,1162.2 874.1,1160.7 874.8,1152.3 875.5,1152.6 876.2,1165.3 876.9,1151.8 877.6,1152.0 878.3,1159.5 879.0,1162.5 879.7,1147.9 880.0,1137.1 890.3,1140.7 903.2,1142.3 910.9,1150.0 923.8,1157.7 936.7,1143.8 947.0,1124.2 957.3,1137.1 967.6,1115.0 977.9,1142.3 988.2,1132.0 995.9,1139.7 1006.2,1120.1 1016.5,1143.8 1029.4,1128.4 1037.1,1142.3 1047.4,1132.0 1055.1,1134.5 1065.4,1121.7 1075.7,1142.3 1086.0,1121.7 1093.7,1145.9 1101.5,1139.7 1114.3,1147.4 1124.6,1142.3 1132.4,1125.3 1153.0,1101.1 1173.6,1137.1 1186.4,1123.2 1196.7,1144.8 1209.6,1132.0 1222.5,1139.7 1237.9,1132.0 1258.5,1106.2 1271.4,1133.5 1286.9,1130.4 1307.5,1134.5 1322.9,1138.7 1338.4,1116.5 1351.2,1133.5 1366.7,1120.1 1389.9,1130.4 1410.5,1161.3 1428.5,1134.5 1443.9,1161.3 1459.4,1120.1 1477.4,1134.5 1508.3,1138.7 1526.4,1132.0 1547.0,1144.8 1570.1,1134.5 1585.6,1128.4 1600.0,1131.5 1620.6,1120.1 1641.2,1131.5 1661.8,1122.7 1682.4,1129.4 1703.0,1112.4 1723.6,1155.1 1749.4,1127.8 1764.8,1120.1 1785.4,1117.5 1808.6,1117.5 1831.8,1129.4 1857.5,1124.2 1883.3,1135.6 1909.0,1122.7 1932.2,1146.9 1960.5,1138.2 1986.3,1121.2 2012.0,1136.6 2037.8,1151.0 2066.1,1121.2 2094.4,1141.8 2125.3,1141.8 2151.1,1126.3 2182.0,1138.2 2212.9,1133.0 2243.8,1140.7 2274.7,1138.2 2308.2,1130.4"/><use href="#tr4" x="3.4" y="0"/><use href="#tr4" x="0" y="3.4"/><use href="#tr4" x="3.4" y="3.4"/></g>
<polyline points="690.9,1267.50 693.8,1263.36 696.7,1259.35 699.6,1255.46 702.5,1251.70 705.4,1248.04 708.4,1244.50 711.3,1241.07 714.2,1237.75 717.1,1234.53 720.0,1231.40 722.9,1228.37 725.9,1225.44 728.8,1222.60 731.7,1219.84 734.6,1217.17 737.5,1214.58 740.4,1212.07 743.4,1209.64 746.3,1207.28 749.2,1204.99 752.1,1202.78 755.0,1200.63 758.0,1198.55 760.9,1196.53 763.8,1194.58 766.7,1192.68 769.6,1190.85 772.5,1189.07 775.5,1187.34 778.4,1185.67 781.3,1184.05 784.2,1182.48 787.1,1180.96 790.0,1179.48 793.0,1178.05 795.9,1176.67 798.8,1175.32 801.7,1174.02 804.6,1172.76 807.5,1171.53 810.5,1170.35 813.4,1169.20 816.3,1168.09 819.2,1167.01 822.1,1165.96 825.0,1164.95 828.0,1163.96 830.9,1163.01 833.8,1162.09 836.7,1161.19 839.6,1160.33 842.6,1159.48 845.5,1158.67 848.4,1157.88 851.3,1157.11 854.2,1156.37 857.1,1155.65 860.1,1154.96 863.0,1154.28 865.9,1153.63 868.8,1152.99 871.7,1152.38 874.6,1151.78 877.6,1151.20 880.5,1150.64 883.4,1150.10 886.3,1149.57 889.2,1149.06 892.1,1148.57 895.1,1148.09 898.0,1147.63 900.9,1147.18 903.8,1146.74 906.7,1146.32 909.6,1145.91 912.6,1145.51 915.5,1145.13 918.4,1144.75 921.3,1144.39 924.2,1144.04 927.2,1143.70 930.1,1143.37 933.0,1143.05 935.9,1142.74 938.8,1142.44 941.7,1142.15 944.7,1141.87 947.6,1141.60 950.5,1141.33 953.4,1141.08 956.3,1140.83 959.2,1140.59 962.2,1140.35 965.1,1140.13 968.0,1139.91 970.9,1139.70 973.8,1139.49 976.7,1139.29 979.7,1139.10 982.6,1138.91 985.5,1138.73 988.4,1138.55 991.3,1138.38 994.2,1138.22 997.2,1138.05 1000.1,1137.90 1003.0,1137.75 1005.9,1137.60 1008.8,1137.46 1011.8,1137.32 1014.7,1137.19 1017.6,1137.06 1020.5,1136.94 1023.4,1136.82 1026.3,1136.70 1029.3,1136.58 1032.2,1136.47 1035.1,1136.37 1038.0,1136.26 1040.9,1136.16 1043.8,1136.07 1046.8,1135.97 1049.7,1135.88 1052.6,1135.79 1055.5,1135.71 1058.4,1135.62 1081.8,1135.04 1105.1,1134.59 1128.4,1134.24 1151.8,1133.96 1175.1,1133.75 1198.5,1133.59 1221.8,1133.46 1245.1,1133.35 1268.5,1133.28 1291.8,1133.22 1315.1,1133.17 1338.5,1133.13 1361.8,1133.10 1385.2,1133.08 1408.5,1133.06 1431.8,1133.05 1455.2,1133.04 1478.5,1133.03 1501.8,1133.02 1525.2,1133.02 1548.5,1133.01 1571.9,1133.01 1595.2,1133.01 1618.5,1133.01 1641.9,1133.01 1665.2,1133.00 1688.6,1133.00 1711.9,1133.00 1735.2,1133.00 1758.6,1133.00 1781.9,1133.00 1805.2,1133.00 1828.6,1133.00 1851.9,1133.00 1875.3,1133.00 1898.6,1133.00 1921.9,1133.00 1945.3,1133.00 1968.6,1133.00 1991.9,1133.00 2015.3,1133.00 2038.6,1133.00 2062.0,1133.00 2085.3,1133.00 2108.6,1133.00 2132.0,1133.00 2155.3,1133.00 2178.7,1133.00 2202.0,1133.00 2225.3,1133.00 2248.7,1133.00 2272.0,1133.00 2295.3,1133.00 2309.3,1133.00" fill="none" stroke="#404040" stroke-width="3.6"/>
<g fill="none" stroke="#ff00ff" stroke-width="4.2" stroke-linejoin="round" stroke-linecap="round"><polyline id="tr5" transform="translate(-1.7,-1.7)" points="590.5,1457.2 591.2,1521.0 591.9,1457.6 592.6,1521.3 593.3,1457.9 594.0,1507.4 594.7,1470.3 595.4,1508.5 596.1,1473.5 596.8,1502.8 597.5,1474.0 598.2,1507.1 598.9,1469.9 599.6,1475.1 600.3,1506.7 601.0,1476.4 601.7,1506.8 602.4,1476.7 603.1,1515.4 603.8,1471.4 604.5,1517.7 605.2,1520.0 605.9,1478.5 606.6,1514.7 607.3,1512.5 608.0,1480.1 608.7,1514.9 609.4,1480.8 610.1,1509.4 610.8,1481.6 611.5,1515.1 612.2,1475.7 612.9,1480.3 613.6,1480.7 614.3,1519.3 615.0,1483.5 615.7,1478.0 616.4,1512.5 617.1,1471.8 617.8,1478.8 618.5,1513.3 619.2,1474.3 619.9,1517.1 620.6,1477.4 621.3,1505.5 622.0,1477.3 622.7,1503.3 623.4,1473.9 624.1,1505.6 624.8,1470.3 625.5,1505.7 626.2,1472.0 626.9,1505.3 627.6,1481.8 628.3,1515.6 629.0,1491.3 629.7,1515.0 630.4,1493.3 631.1,1523.2 631.8,1490.8 632.5,1491.1 633.2,1524.8 633.9,1487.5 634.6,1524.0 635.3,1486.4 636.0,1508.3 636.7,1489.1 637.4,1510.7 638.1,1488.3 638.8,1507.7 639.5,1490.0 640.2,1490.6 640.9,1510.3 641.6,1484.8 642.3,1508.3 643.0,1486.1 643.7,1511.4 644.4,1511.1 645.1,1484.5 645.8,1519.6 646.5,1482.3 647.2,1479.1 647.9,1519.9 648.6,1486.9 649.3,1524.5 650.0,1490.1 650.7,1520.2 651.4,1519.4 652.1,1522.0 652.8,1490.9 653.5,1524.1 654.2,1490.7 654.9,1524.8 655.6,1524.9 656.3,1525.9 657.0,1498.3 657.7,1520.6 658.4,1500.2 659.1,1518.0 659.8,1496.5 660.5,1496.9 661.2,1491.4 661.9,1517.6 662.6,1495.1 663.3,1518.2 664.0,1500.2 664.7,1518.9 665.4,1498.4 666.1,1525.3 666.8,1499.4 667.5,1528.0 668.2,1492.8 668.9,1524.0 669.6,1485.9 670.3,1523.3 671.0,1492.5 671.7,1521.8 672.4,1499.2 673.1,1520.5 673.8,1501.4 674.5,1523.1 675.2,1501.2 675.9,1521.4 676.6,1501.8 677.3,1523.9 678.0,1500.8 678.7,1500.8 679.4,1521.5 680.1,1521.0 680.8,1500.7 681.5,1501.5 682.2,1502.0 682.9,1526.2 683.6,1501.4 684.3,1498.9 685.0,1539.0 685.7,1501.7 686.4,1523.9 687.1,1497.7 687.8,1522.9 688.5,1501.8 689.2,1523.7 689.9,1532.8 690.6,1502.9 691.3,1512.0 692.0,1500.5 692.7,1510.5 693.4,1509.8 694.1,1501.9 694.8,1510.9 695.5,1497.6 696.2,1510.2 696.9,1499.1 697.6,1512.2 698.3,1501.6 699.0,1509.6 699.7,1511.2 700.4,1499.5 701.1,1498.7 701.8,1511.4 702.5,1500.1 703.2,1507.9 703.9,1501.6 704.6,1499.2 705.3,1509.5 706.0,1497.2 706.7,1496.9 707.4,1509.7 708.1,1512.4 708.8,1501.5 709.5,1509.2 710.2,1493.2 710.9,1505.7 711.6,1493.9 712.3,1502.9 713.0,1487.8 713.7,1497.4 714.4,1496.9 715.1,1481.7 715.8,1493.7 716.5,1481.5 717.2,1485.1 717.9,1488.0 718.6,1474.7 719.3,1469.6 720.0,1480.9 720.7,1466.9 721.4,1478.7 722.1,1462.1 722.8,1470.4 723.5,1459.0 724.2,1468.7 724.9,1454.9 725.6,1468.5 726.3,1464.0 727.0,1460.9 727.7,1462.3 728.4,1451.8 729.1,1461.3 729.8,1454.3 730.5,1464.8 731.2,1462.3 731.9,1454.5 732.6,1451.1 733.3,1461.8 734.0,1453.2 734.7,1464.3 735.4,1453.3 736.1,1465.3 736.8,1457.7 737.5,1466.0 738.2,1454.3 738.9,1469.2 739.6,1465.4 740.3,1455.9 741.0,1470.1 741.7,1457.1 742.4,1467.7 743.1,1464.0 743.8,1450.9 744.5,1460.6 745.2,1445.6 745.9,1454.0 746.6,1442.4 747.3,1450.3 748.0,1439.8 748.7,1448.2 749.4,1434.6 750.1,1435.5 750.8,1444.8 751.5,1438.5 752.2,1445.7 752.9,1438.7 753.6,1436.4 754.3,1449.3 755.0,1434.8 755.7,1446.9 756.4,1437.4 757.1,1446.6 757.8,1437.5 758.5,1448.0 759.2,1437.1 759.9,1435.6 760.6,1448.3 761.3,1439.9 762.0,1438.7 762.7,1447.2 763.4,1444.9 764.1,1435.0 764.8,1433.9 765.5,1430.9 766.2,1439.8 766.9,1429.8 767.6,1424.4 768.3,1437.9 769.0,1423.3 769.7,1436.3 770.4,1432.8 771.1,1419.3 771.8,1430.2 772.5,1417.5 773.2,1430.0 773.9,1424.3 774.6,1414.6 775.3,1422.8 776.0,1412.2 776.7,1420.5 777.4,1408.1 778.1,1420.9 778.8,1421.5 779.5,1405.7 780.2,1408.4 780.9,1420.2 781.6,1420.5 782.3,1409.0 783.0,1418.7 783.7,1423.0 784.4,1410.5 785.1,1422.0 785.8,1422.9 786.5,1414.4 787.2,1428.8 787.9,1418.9 788.6,1431.1 789.3,1432.1 790.0,1423.4 790.7,1431.4 791.4,1422.6 792.1,1429.1 792.8,1419.7 793.5,1427.8 794.2,1414.5 794.9,1422.0 795.6,1410.7 796.3,1409.0 797.0,1417.3 797.7,1404.6 798.4,1417.8 799.1,1405.3 799.8,1410.7 800.5,1400.9 801.2,1412.0 801.9,1407.6 802.6,1394.0 803.3,1403.9 804.0,1408.3 804.7,1399.0 805.4,1409.6 806.1,1406.7 806.8,1407.0 807.5,1400.1 808.2,1412.6 808.9,1400.4 809.6,1413.4 810.3,1412.3 811.0,1412.7 811.7,1403.3 812.4,1403.5 813.1,1415.8 813.8,1409.3 814.5,1416.8 815.2,1420.2 815.9,1420.8 816.6,1413.7 817.3,1421.1 818.0,1409.5 818.7,1410.9 819.4,1419.7 820.1,1408.4 820.8,1415.6 821.5,1401.4 822.2,1414.8 822.9,1403.3 823.6,1411.6 824.3,1397.9 825.0,1408.6 825.7,1397.8 826.4,1403.5 827.1,1391.9 827.8,1404.8 828.5,1392.1 829.2,1404.7 829.9,1401.2 830.6,1395.8 831.3,1402.2 832.0,1394.0 832.7,1404.0 833.4,1394.3 834.1,1396.0 834.8,1397.0 835.5,1410.8 836.2,1410.5 836.9,1410.4 837.6,1398.0 838.3,1411.7 839.0,1403.0 839.7,1403.8 840.4,1410.1 841.2,1404.3 841.9,1411.0 842.6,1405.0 843.3,1413.2 844.0,1399.2 844.7,1405.8 845.4,1393.7 846.1,1402.7 846.8,1390.1 847.5,1398.6 848.2,1386.8 848.9,1386.0 849.6,1384.1 850.3,1391.6 851.0,1393.2 851.7,1395.2 852.4,1393.1 853.1,1383.6 853.8,1395.1 854.5,1385.6 855.2,1388.4 855.9,1385.1 856.6,1387.9 857.3,1400.1 858.0,1389.8 858.7,1397.6 859.4,1401.5 860.1,1389.6 860.8,1404.3 861.5,1392.5 862.2,1394.1 862.9,1401.5 863.6,1403.0 864.3,1393.5 865.0,1406.4 865.7,1407.9 866.4,1392.5 867.1,1402.1 867.8,1391.0 868.5,1395.7 869.2,1385.5 869.9,1395.4 870.6,1382.5 871.3,1392.4 872.0,1379.5 872.7,1387.3 873.4,1382.4 874.1,1373.3 874.8,1387.6 875.5,1376.6 876.2,1390.0 876.9,1378.3 877.6,1387.9 878.3,1378.9 879.0,1395.1 879.7,1381.7 880.0,1398.7 887.7,1378.1 895.5,1393.5 905.8,1380.7 918.6,1384.3 928.9,1384.3 940.8,1367.8 949.5,1391.0 962.4,1383.2 975.3,1380.7 985.6,1385.8 990.7,1367.8 1003.6,1365.2 1013.9,1383.2 1024.2,1374.0 1034.5,1378.1 1044.8,1393.5 1055.1,1375.5 1065.4,1397.7 1078.3,1380.7 1091.2,1371.9 1106.6,1377.1 1122.1,1374.0 1142.7,1360.1 1153.0,1387.4 1163.3,1365.2 1176.1,1380.7 1189.0,1383.2 1207.0,1362.6 1219.9,1365.2 1232.8,1356.5 1245.7,1375.5 1271.4,1374.0 1292.0,1374.0 1307.5,1371.9 1322.9,1378.1 1338.4,1366.8 1353.8,1377.1 1369.3,1379.1 1397.6,1374.0 1415.6,1378.1 1436.2,1383.2 1462.0,1391.0 1477.4,1356.5 1498.0,1375.5 1518.6,1380.7 1547.0,1362.6 1565.0,1374.0 1583.0,1385.8 1600.0,1383.8 1620.6,1369.3 1641.2,1380.7 1661.8,1379.6 1682.4,1373.5 1703.0,1377.1 1723.6,1378.6 1744.2,1370.4 1770.0,1370.4 1790.6,1370.4 1811.2,1368.3 1834.3,1394.1 1857.5,1366.8 1883.3,1366.8 1906.4,1364.2 1932.2,1379.6 1960.5,1374.5 1986.3,1351.3 2012.0,1373.5 2037.8,1370.4 2066.1,1379.6 2094.4,1377.1 2125.3,1377.1 2153.6,1358.0 2182.0,1368.3 2212.9,1369.3 2243.8,1379.6 2274.7,1380.7 2308.2,1356.5"/><use href="#tr5" x="3.4" y="0"/><use href="#tr5" x="0" y="3.4"/><use href="#tr5" x="3.4" y="3.4"/></g>
<polyline points="690.9,1519.60 693.8,1514.49 696.7,1509.56 699.6,1504.81 702.5,1500.22 705.4,1495.80 708.4,1491.53 711.3,1487.41 714.2,1483.44 717.1,1479.61 720.0,1475.91 722.9,1472.35 725.9,1468.91 728.8,1465.59 731.7,1462.39 734.6,1459.30 737.5,1456.32 740.4,1453.45 743.4,1450.68 746.3,1448.00 749.2,1445.42 752.1,1442.94 755.0,1440.54 758.0,1438.22 760.9,1435.99 763.8,1433.83 766.7,1431.75 769.6,1429.75 772.5,1427.81 775.5,1425.95 778.4,1424.15 781.3,1422.41 784.2,1420.74 787.1,1419.12 790.0,1417.56 793.0,1416.06 795.9,1414.61 798.8,1413.21 801.7,1411.86 804.6,1410.56 807.5,1409.30 810.5,1408.09 813.4,1406.92 816.3,1405.79 819.2,1404.70 822.1,1403.65 825.0,1402.64 828.0,1401.66 830.9,1400.72 833.8,1399.81 836.7,1398.94 839.6,1398.09 842.6,1397.28 845.5,1396.49 848.4,1395.73 851.3,1395.00 854.2,1394.29 857.1,1393.61 860.1,1392.95 863.0,1392.32 865.9,1391.70 868.8,1391.11 871.7,1390.55 874.6,1390.00 877.6,1389.47 880.5,1388.96 883.4,1388.46 886.3,1387.99 889.2,1387.53 892.1,1387.08 895.1,1386.66 898.0,1386.25 900.9,1385.85 903.8,1385.47 906.7,1385.10 909.6,1384.74 912.6,1384.39 915.5,1384.06 918.4,1383.74 921.3,1383.43 924.2,1383.14 927.2,1382.85 930.1,1382.57 933.0,1382.30 935.9,1382.05 938.8,1381.80 941.7,1381.56 944.7,1381.32 947.6,1381.10 950.5,1380.89 953.4,1380.68 956.3,1380.48 959.2,1380.28 962.2,1380.10 965.1,1379.92 968.0,1379.74 970.9,1379.58 973.8,1379.41 976.7,1379.26 979.7,1379.11 982.6,1378.96 985.5,1378.82 988.4,1378.69 991.3,1378.56 994.2,1378.43 997.2,1378.31 1000.1,1378.19 1003.0,1378.08 1005.9,1377.97 1008.8,1377.87 1011.8,1377.77 1014.7,1377.67 1017.6,1377.57 1020.5,1377.48 1023.4,1377.39 1026.3,1377.31 1029.3,1377.23 1032.2,1377.15 1035.1,1377.07 1038.0,1377.00 1040.9,1376.93 1043.8,1376.86 1046.8,1376.80 1049.7,1376.73 1052.6,1376.67 1055.5,1376.61 1058.4,1376.56 1081.8,1376.17 1105.1,1375.87 1128.4,1375.66 1151.8,1375.49 1175.1,1375.37 1198.5,1375.28 1221.8,1375.21 1245.1,1375.16 1268.5,1375.12 1291.8,1375.09 1315.1,1375.07 1338.5,1375.05 1361.8,1375.04 1385.2,1375.03 1408.5,1375.02 1431.8,1375.02 1455.2,1375.01 1478.5,1375.01 1501.8,1375.01 1525.2,1375.00 1548.5,1375.00 1571.9,1375.00 1595.2,1375.00 1618.5,1375.00 1641.9,1375.00 1665.2,1375.00 1688.6,1375.00 1711.9,1375.00 1735.2,1375.00 1758.6,1375.00 1781.9,1375.00 1805.2,1375.00 1828.6,1375.00 1851.9,1375.00 1875.3,1375.00 1898.6,1375.00 1921.9,1375.00 1945.3,1375.00 1968.6,1375.00 1991.9,1375.00 2015.3,1375.00 2038.6,1375.00 2062.0,1375.00 2085.3,1375.00 2108.6,1375.00 2132.0,1375.00 2155.3,1375.00 2178.7,1375.00 2202.0,1375.00 2225.3,1375.00 2248.7,1375.00 2272.0,1375.00 2295.3,1375.00 2309.3,1375.00" fill="none" stroke="#404040" stroke-width="3.6"/>
<g fill="none" stroke="#008000" stroke-width="4.2" stroke-linejoin="round" stroke-linecap="round"><polyline id="tr6" transform="translate(-1.7,-1.7)" points="590.5,1718.2 591.2,1781.9 591.9,1718.4 592.6,1782.0 593.3,1718.5 594.0,1777.8 594.7,1722.4 595.4,1724.8 596.1,1766.4 596.8,1727.3 597.5,1776.3 598.2,1724.9 598.9,1773.9 599.6,1774.7 600.3,1721.0 601.0,1773.4 601.7,1732.4 602.4,1774.0 603.1,1731.8 603.8,1768.6 604.5,1735.1 605.2,1765.0 605.9,1761.4 606.6,1734.8 607.3,1765.5 608.0,1738.0 608.7,1761.9 609.4,1735.2 610.1,1765.2 610.8,1763.1 611.5,1760.6 612.2,1735.9 612.9,1761.2 613.6,1737.9 614.3,1762.2 615.0,1740.9 615.7,1742.6 616.4,1759.6 617.1,1741.2 617.8,1770.5 618.5,1737.2 619.2,1775.4 619.9,1735.3 620.6,1738.5 621.3,1768.4 622.0,1737.9 622.7,1762.6 623.4,1759.5 624.1,1744.8 624.8,1764.1 625.5,1743.9 626.2,1764.9 626.9,1742.3 627.6,1762.3 628.3,1741.1 629.0,1765.9 629.7,1771.9 630.4,1772.2 631.1,1735.5 631.8,1733.5 632.5,1760.1 633.2,1734.3 633.9,1761.3 634.6,1739.7 635.3,1734.5 636.0,1763.1 636.7,1762.2 637.4,1748.1 638.1,1749.5 638.8,1763.0 639.5,1761.9 640.2,1742.8 640.9,1761.9 641.6,1743.2 642.3,1761.3 643.0,1746.1 643.7,1761.3 644.4,1746.7 645.1,1763.2 645.8,1744.4 646.5,1765.3 647.2,1742.8 647.9,1763.6 648.6,1741.7 649.3,1764.7 650.0,1764.1 650.7,1740.0 651.4,1765.6 652.1,1743.4 652.8,1738.3 653.5,1773.3 654.2,1741.5 654.9,1776.9 655.6,1752.8 656.3,1778.2 657.0,1753.0 657.7,1768.0 658.4,1754.0 659.1,1770.8 659.8,1749.8 660.5,1771.0 661.2,1746.8 661.9,1747.7 662.6,1776.7 663.3,1748.0 664.0,1771.3 664.7,1749.0 665.4,1747.4 666.1,1770.8 666.8,1777.4 667.5,1750.0 668.2,1750.8 668.9,1772.3 669.6,1748.8 670.3,1773.8 671.0,1750.9 671.7,1771.0 672.4,1752.2 673.1,1753.6 673.8,1771.8 674.5,1753.7 675.2,1781.7 675.9,1743.0 676.6,1777.0 677.3,1745.7 678.0,1743.8 678.7,1779.7 679.4,1746.9 680.1,1780.6 680.8,1745.3 681.5,1745.0 682.2,1769.2 682.9,1748.8 683.6,1767.5 684.3,1748.3 685.0,1766.2 685.7,1749.4 686.4,1767.3 687.1,1746.6 687.8,1750.2 688.5,1766.6 689.2,1751.3 689.9,1774.6 690.6,1751.6 691.3,1773.1 692.0,1747.7 692.7,1758.3 693.4,1747.9 694.1,1745.2 694.8,1756.9 695.5,1746.8 696.2,1752.5 696.9,1742.8 697.6,1751.3 698.3,1740.2 699.0,1754.6 699.7,1742.1 700.4,1754.6 701.1,1742.9 701.8,1750.3 702.5,1740.1 703.2,1743.6 703.9,1752.9 704.6,1741.3 705.3,1748.2 706.0,1740.8 706.7,1739.9 707.4,1746.5 708.1,1735.1 708.8,1746.4 709.5,1729.8 710.2,1742.9 710.9,1738.3 711.6,1725.5 712.3,1725.1 713.0,1723.3 713.7,1720.8 714.4,1728.8 715.1,1716.4 715.8,1728.3 716.5,1715.8 717.2,1724.9 717.9,1719.8 718.6,1709.1 719.3,1715.8 720.0,1719.1 720.7,1702.1 721.4,1713.4 722.1,1703.9 722.8,1698.3 723.5,1709.7 724.2,1702.6 724.9,1713.3 725.6,1699.0 726.3,1711.2 727.0,1702.7 727.7,1713.8 728.4,1707.1 729.1,1713.8 729.8,1706.7 730.5,1715.6 731.2,1706.2 731.9,1715.0 732.6,1704.1 733.3,1710.5 734.0,1702.9 734.7,1709.7 735.4,1700.9 736.1,1706.3 736.8,1697.9 737.5,1695.0 738.2,1693.9 738.9,1704.4 739.6,1689.3 740.3,1701.9 741.0,1687.3 741.7,1698.8 742.4,1686.9 743.1,1684.3 743.8,1690.7 744.5,1689.6 745.2,1678.7 745.9,1688.8 746.6,1674.8 747.3,1689.2 748.0,1674.1 748.7,1678.1 749.4,1688.0 750.1,1674.7 750.8,1687.3 751.5,1674.7 752.2,1686.7 752.9,1676.0 753.6,1688.6 754.3,1673.9 755.0,1686.6 755.7,1675.7 756.4,1686.1 757.1,1685.3 757.8,1673.9 758.5,1684.3 759.2,1688.0 759.9,1675.4 760.6,1687.2 761.3,1677.0 762.0,1682.0 762.7,1671.1 763.4,1680.8 764.1,1672.2 764.8,1672.5 765.5,1680.7 766.2,1677.4 766.9,1665.3 767.6,1675.6 768.3,1674.3 769.0,1673.6 769.7,1662.6 770.4,1664.1 771.1,1673.8 771.8,1660.2 772.5,1672.8 773.2,1657.9 773.9,1668.0 774.6,1667.8 775.3,1656.9 776.0,1668.3 776.7,1656.0 777.4,1668.7 778.1,1667.6 778.8,1652.8 779.5,1663.3 780.2,1666.8 780.9,1655.7 781.6,1665.1 782.3,1658.8 783.0,1668.3 783.7,1654.7 784.4,1656.2 785.1,1670.0 785.8,1657.9 786.5,1671.5 787.2,1668.6 787.9,1662.6 788.6,1672.0 789.3,1668.0 790.0,1661.7 790.7,1666.3 791.4,1669.1 792.1,1655.6 792.8,1656.3 793.5,1664.6 794.2,1650.7 794.9,1660.1 795.6,1650.4 796.3,1658.6 797.0,1645.9 797.7,1658.6 798.4,1645.6 799.1,1655.6 799.8,1642.1 800.5,1651.0 801.2,1646.1 801.9,1646.4 802.6,1655.0 803.3,1642.8 804.0,1656.4 804.7,1648.3 805.4,1655.0 806.1,1648.0 806.8,1645.6 807.5,1661.3 808.2,1652.2 808.9,1663.1 809.6,1652.3 810.3,1652.2 811.0,1660.9 811.7,1650.9 812.4,1664.7 813.1,1654.7 813.8,1662.3 814.5,1648.9 815.2,1657.0 815.9,1645.4 816.6,1654.9 817.3,1642.3 818.0,1655.2 818.7,1653.0 819.4,1638.3 820.1,1649.6 820.8,1644.1 821.5,1637.3 822.2,1642.8 822.9,1632.7 823.6,1640.0 824.3,1629.7 825.0,1639.2 825.7,1627.4 826.4,1624.0 827.1,1639.2 827.8,1629.4 828.5,1639.9 829.2,1630.3 829.9,1629.5 830.6,1638.3 831.3,1632.4 832.0,1641.5 832.7,1642.1 833.4,1632.0 834.1,1644.7 834.8,1637.1 835.5,1647.6 836.2,1644.2 836.9,1643.6 837.6,1633.1 838.3,1646.8 839.0,1634.4 839.7,1646.7 840.4,1634.7 841.2,1645.0 841.9,1643.5 842.6,1630.1 843.3,1643.7 844.0,1632.0 844.7,1639.9 845.4,1633.0 846.1,1640.3 846.8,1627.6 847.5,1639.8 848.2,1626.9 848.9,1641.3 849.6,1626.4 850.3,1639.7 851.0,1627.5 851.7,1627.5 852.4,1634.2 853.1,1624.2 853.8,1625.7 854.5,1640.4 855.2,1635.8 855.9,1638.0 856.6,1637.6 857.3,1629.6 858.0,1638.5 858.7,1627.2 859.4,1638.5 860.1,1628.4 860.8,1642.9 861.5,1632.0 862.2,1639.2 862.9,1629.3 863.6,1632.0 864.3,1634.4 865.0,1641.1 865.7,1646.5 866.4,1645.2 867.1,1632.1 867.8,1646.7 868.5,1643.1 869.2,1635.6 869.9,1643.3 870.6,1632.7 871.3,1633.4 872.0,1646.0 872.7,1632.8 873.4,1631.3 874.1,1638.0 874.8,1630.5 875.5,1637.9 876.2,1628.9 876.9,1633.9 877.6,1636.4 878.3,1620.6 879.0,1622.8 879.7,1630.8 880.0,1612.2 887.7,1625.1 892.9,1632.8 898.0,1612.2 903.2,1643.1 910.9,1614.8 921.2,1625.1 928.9,1608.1 936.7,1622.5 941.8,1643.1 949.5,1635.4 957.3,1645.7 965.0,1622.5 970.1,1607.1 977.9,1622.5 983.0,1622.5 990.7,1594.2 998.5,1630.3 1006.2,1622.5 1013.9,1614.8 1021.6,1638.0 1031.9,1609.7 1039.7,1609.7 1047.4,1635.4 1055.1,1609.7 1062.8,1638.0 1073.1,1630.3 1086.0,1620.0 1101.5,1635.4 1122.1,1628.7 1147.8,1643.1 1163.3,1631.8 1174.6,1647.3 1189.0,1635.4 1201.9,1628.7 1209.6,1611.2 1225.1,1622.5 1240.5,1620.0 1258.5,1611.2 1281.7,1620.0 1297.2,1635.4 1312.6,1616.4 1338.4,1611.2 1364.1,1617.4 1395.0,1614.8 1410.5,1622.5 1428.5,1642.1 1459.4,1599.4 1490.3,1623.6 1510.9,1616.4 1534.1,1621.5 1562.4,1630.3 1583.0,1617.4 1600.0,1635.4 1620.6,1611.2 1641.2,1595.8 1661.8,1618.4 1682.4,1618.4 1703.0,1625.1 1728.8,1625.1 1749.4,1630.3 1770.0,1627.7 1788.0,1613.3 1811.2,1608.1 1834.3,1611.2 1857.5,1608.1 1883.3,1620.0 1909.0,1620.0 1934.8,1613.3 1960.5,1628.7 1986.3,1599.4 2012.0,1606.1 2037.8,1620.0 2066.1,1635.4 2094.4,1622.5 2122.7,1631.8 2153.6,1608.1 2182.0,1621.5 2212.9,1613.3 2243.8,1631.8 2274.7,1627.7 2308.2,1609.7"/><use href="#tr6" x="3.4" y="0"/><use href="#tr6" x="0" y="3.4"/><use href="#tr6" x="3.4" y="3.4"/></g>
<polyline points="691.4,1766.00 694.4,1759.98 697.3,1754.22 700.2,1748.69 703.1,1743.39 706.0,1738.32 708.9,1733.45 711.9,1728.78 714.8,1724.31 717.7,1720.03 720.6,1715.92 723.5,1711.98 726.4,1708.20 729.4,1704.59 732.3,1701.12 735.2,1697.80 738.1,1694.61 741.0,1691.56 743.9,1688.63 746.9,1685.82 749.8,1683.13 752.7,1680.56 755.6,1678.08 758.5,1675.72 761.5,1673.45 764.4,1671.27 767.3,1669.18 770.2,1667.19 773.1,1665.27 776.0,1663.43 779.0,1661.67 781.9,1659.98 784.8,1658.37 787.7,1656.82 790.6,1655.33 793.5,1653.91 796.5,1652.54 799.4,1651.23 802.3,1649.98 805.2,1648.78 808.1,1647.62 811.0,1646.52 814.0,1645.46 816.9,1644.45 819.8,1643.47 822.7,1642.54 825.6,1641.65 828.5,1640.79 831.5,1639.97 834.4,1639.18 837.3,1638.43 840.2,1637.71 843.1,1637.01 846.1,1636.35 849.0,1635.71 851.9,1635.10 854.8,1634.52 857.7,1633.95 860.6,1633.42 863.6,1632.90 866.5,1632.41 869.4,1631.94 872.3,1631.48 875.2,1631.05 878.1,1630.63 881.1,1630.23 884.0,1629.85 886.9,1629.48 889.8,1629.13 892.7,1628.79 895.6,1628.47 898.6,1628.16 901.5,1627.86 904.4,1627.58 907.3,1627.30 910.2,1627.04 913.1,1626.79 916.1,1626.55 919.0,1626.32 921.9,1626.10 924.8,1625.89 927.7,1625.69 930.7,1625.49 933.6,1625.31 936.5,1625.13 939.4,1624.96 942.3,1624.79 945.2,1624.63 948.2,1624.48 951.1,1624.34 954.0,1624.20 956.9,1624.07 959.8,1623.94 962.7,1623.82 965.7,1623.70 968.6,1623.59 971.5,1623.48 974.4,1623.38 977.3,1623.28 980.2,1623.19 983.2,1623.09 986.1,1623.01 989.0,1622.92 991.9,1622.84 994.8,1622.77 997.7,1622.69 1000.7,1622.62 1003.6,1622.56 1006.5,1622.49 1009.4,1622.43 1012.3,1622.37 1015.3,1622.31 1018.2,1622.26 1021.1,1622.21 1024.0,1622.16 1026.9,1622.11 1029.8,1622.06 1032.8,1622.02 1035.7,1621.98 1038.6,1621.94 1041.5,1621.90 1044.4,1621.86 1047.3,1621.82 1050.3,1621.79 1053.2,1621.76 1056.1,1621.73 1059.0,1621.70 1082.3,1621.50 1105.7,1621.35 1129.0,1621.25 1152.4,1621.18 1175.7,1621.13 1199.0,1621.09 1222.4,1621.06 1245.7,1621.05 1269.1,1621.03 1292.4,1621.02 1315.7,1621.02 1339.1,1621.01 1362.4,1621.01 1385.7,1621.01 1409.1,1621.00 1432.4,1621.00 1455.8,1621.00 1479.1,1621.00 1502.4,1621.00 1525.8,1621.00 1549.1,1621.00 1572.4,1621.00 1595.8,1621.00 1619.1,1621.00 1642.5,1621.00 1665.8,1621.00 1689.1,1621.00 1712.5,1621.00 1735.8,1621.00 1759.2,1621.00 1782.5,1621.00 1805.8,1621.00 1829.2,1621.00 1852.5,1621.00 1875.8,1621.00 1899.2,1621.00 1922.5,1621.00 1945.9,1621.00 1969.2,1621.00 1992.5,1621.00 2015.9,1621.00 2039.2,1621.00 2062.5,1621.00 2085.9,1621.00 2109.2,1621.00 2132.6,1621.00 2155.9,1621.00 2179.2,1621.00 2202.6,1621.00 2225.9,1621.00 2249.2,1621.00 2272.6,1621.00 2295.9,1621.00 2309.3,1621.00" fill="none" stroke="#404040" stroke-width="3.6"/>
<g fill="none" stroke="#808000" stroke-width="4.2" stroke-linejoin="round" stroke-linecap="round"><polyline id="tr7" transform="translate(-1.7,-1.7)" points="590.5,1956.0 591.2,2016.1 591.9,1956.2 592.6,2016.3 593.3,1956.3 594.0,2001.3 594.7,1976.3 595.4,2004.2 596.1,1977.3 596.8,2002.5 597.5,2005.2 598.2,1977.9 598.9,2009.4 599.6,1974.0 600.3,2003.2 601.0,1979.0 601.7,2005.2 602.4,1977.8 603.1,1978.9 603.8,2003.5 604.5,2005.7 605.2,1979.6 605.9,1976.5 606.6,2009.4 607.3,2005.0 608.0,1978.9 608.7,2000.5 609.4,1978.5 610.1,2001.7 610.8,1968.8 611.5,2006.5 612.2,1970.6 612.9,1998.9 613.6,1974.6 614.3,1998.7 615.0,1980.8 615.7,1981.4 616.4,1999.8 617.1,1980.6 617.8,2000.3 618.5,1971.8 619.2,2001.6 619.9,1999.8 620.6,1968.5 621.3,2001.2 622.0,1975.3 622.7,2001.3 623.4,2003.6 624.1,1973.3 624.8,1996.4 625.5,1995.4 626.2,1982.8 626.9,1996.0 627.6,1984.2 628.3,1998.3 629.0,1998.8 629.7,1980.9 630.4,1998.2 631.1,1980.9 631.8,2000.0 632.5,1980.4 633.2,1978.7 633.9,1997.9 634.6,1979.4 635.3,1976.9 636.0,2002.9 636.7,1980.6 637.4,2005.4 638.1,1979.9 638.8,2005.9 639.5,1981.8 640.2,2008.2 640.9,2006.8 641.6,1980.5 642.3,1978.6 643.0,1980.0 643.7,2003.1 644.4,1977.0 645.1,2004.5 645.8,1973.8 646.5,1978.7 647.2,1998.8 647.9,1988.2 648.6,1987.1 649.3,2000.6 650.0,1985.0 650.7,2000.7 651.4,1984.0 652.1,2008.8 652.8,1980.9 653.5,2009.9 654.2,2008.3 654.9,1980.4 655.6,2004.5 656.3,2004.5 657.0,2007.3 657.7,1982.5 658.4,2000.3 659.1,1987.1 659.8,1999.4 660.5,1985.9 661.2,2002.0 661.9,1986.4 662.6,2000.4 663.3,2002.0 664.0,1985.5 664.7,2002.8 665.4,2000.4 666.1,1986.1 666.8,2002.7 667.5,1987.1 668.2,2006.0 668.9,1978.6 669.6,2005.8 670.3,1978.2 671.0,1978.9 671.7,2006.5 672.4,1990.1 673.1,2008.7 673.8,1990.6 674.5,2010.4 675.2,1991.0 675.9,1991.4 676.6,1992.4 677.3,2009.7 678.0,2010.5 678.7,1985.1 679.4,2009.8 680.1,1983.6 680.8,1982.9 681.5,1991.1 682.2,2011.8 682.9,2027.0 683.6,1990.7 684.3,1991.3 685.0,2008.7 685.7,2006.5 686.4,1989.0 687.1,2006.9 687.8,1987.8 688.5,2010.5 689.2,1987.5 689.9,2008.3 690.6,1990.9 691.3,1991.5 692.0,1999.3 692.7,1987.6 693.4,1994.6 694.1,1985.3 694.8,1994.4 695.5,1986.3 696.2,1992.4 696.9,1983.1 697.6,1987.8 698.3,1979.0 699.0,1978.3 699.7,1988.5 700.4,1974.4 701.1,1974.7 701.8,1986.2 702.5,1975.3 703.2,1983.3 703.9,1968.9 704.6,1979.2 705.3,1963.3 706.0,1971.8 706.7,1961.9 707.4,1967.5 708.1,1953.6 708.8,1952.7 709.5,1960.1 710.2,1947.9 710.9,1955.8 711.6,1942.1 712.3,1952.7 713.0,1941.0 713.7,1950.5 714.4,1942.5 715.1,1952.8 715.8,1943.0 716.5,1952.0 717.2,1945.3 717.9,1956.7 718.6,1956.3 719.3,1946.8 720.0,1958.3 720.7,1945.3 721.4,1955.6 722.1,1951.9 722.8,1940.6 723.5,1948.4 724.2,1935.9 724.9,1944.4 725.6,1934.5 726.3,1936.1 727.0,1941.1 727.7,1940.7 728.4,1927.5 729.1,1938.8 729.8,1924.7 730.5,1935.2 731.2,1922.5 731.9,1930.7 732.6,1919.9 733.3,1920.1 734.0,1919.9 734.7,1926.4 735.4,1915.2 736.1,1926.4 736.8,1913.5 737.5,1912.2 738.2,1921.7 738.9,1912.8 739.6,1914.4 740.3,1921.1 741.0,1911.3 741.7,1921.7 742.4,1913.0 743.1,1923.0 743.8,1924.0 744.5,1914.9 745.2,1924.5 745.9,1912.5 746.6,1921.8 747.3,1917.0 748.0,1910.2 748.7,1915.5 749.4,1907.1 750.1,1909.9 750.8,1902.8 751.5,1909.0 752.2,1897.4 752.9,1897.9 753.6,1906.3 754.3,1895.3 755.0,1897.0 755.7,1903.2 756.4,1892.6 757.1,1905.7 757.8,1901.3 758.5,1892.2 759.2,1904.0 759.9,1895.4 760.6,1902.2 761.3,1894.4 762.0,1901.3 762.7,1902.1 763.4,1890.7 764.1,1902.2 764.8,1892.1 765.5,1900.3 766.2,1893.9 766.9,1899.5 767.6,1892.5 768.3,1898.9 769.0,1890.7 769.7,1898.3 770.4,1899.3 771.1,1891.5 771.8,1901.3 772.5,1892.4 773.2,1889.3 773.9,1896.0 774.6,1899.1 775.3,1887.2 776.0,1889.7 776.7,1896.4 777.4,1893.5 778.1,1885.3 778.8,1887.0 779.5,1896.2 780.2,1882.2 780.9,1891.9 781.6,1882.5 782.3,1892.4 783.0,1881.4 783.7,1889.8 784.4,1883.2 785.1,1878.6 785.8,1888.3 786.5,1880.8 787.2,1887.3 787.9,1886.3 788.6,1877.6 789.3,1887.6 790.0,1888.1 790.7,1878.2 791.4,1889.0 792.1,1889.2 792.8,1877.0 793.5,1876.7 794.2,1879.3 794.9,1881.6 795.6,1886.1 796.3,1879.3 797.0,1890.3 797.7,1889.6 798.4,1890.8 799.1,1887.6 799.8,1878.5 800.5,1888.7 801.2,1887.2 801.9,1880.9 802.6,1880.1 803.3,1889.8 804.0,1878.3 804.7,1887.2 805.4,1882.9 806.1,1879.7 806.8,1889.3 807.5,1879.2 808.2,1889.9 808.9,1878.4 809.6,1888.2 810.3,1875.1 811.0,1884.1 811.7,1884.2 812.4,1873.0 813.1,1883.8 813.8,1872.6 814.5,1881.4 815.2,1880.0 815.9,1870.1 816.6,1869.5 817.3,1875.2 818.0,1864.9 818.7,1875.4 819.4,1864.3 820.1,1873.2 820.8,1877.0 821.5,1865.6 822.2,1876.2 822.9,1874.9 823.6,1870.0 824.3,1878.1 825.0,1868.5 825.7,1878.8 826.4,1872.9 827.1,1882.6 827.8,1884.3 828.5,1873.8 829.2,1883.1 829.9,1886.0 830.6,1875.5 831.3,1886.3 832.0,1877.6 832.7,1886.4 833.4,1886.6 834.1,1873.3 834.8,1881.6 835.5,1881.6 836.2,1872.2 836.9,1878.8 837.6,1870.6 838.3,1875.5 839.0,1864.6 839.7,1873.2 840.4,1866.8 841.2,1866.1 841.9,1866.5 842.6,1875.2 843.3,1867.1 844.0,1873.9 844.7,1874.7 845.4,1864.2 846.1,1876.8 846.8,1865.0 847.5,1876.5 848.2,1867.5 848.9,1877.0 849.6,1869.6 850.3,1877.3 851.0,1867.1 851.7,1866.9 852.4,1880.3 853.1,1868.7 853.8,1880.9 854.5,1880.9 855.2,1878.5 855.9,1880.7 856.6,1872.3 857.3,1879.0 858.0,1864.6 858.7,1873.2 859.4,1863.3 860.1,1870.2 860.8,1859.7 861.5,1866.3 862.2,1857.1 862.9,1864.2 863.6,1855.2 864.3,1864.6 865.0,1857.1 865.7,1858.7 866.4,1866.7 867.1,1856.9 867.8,1869.4 868.5,1858.6 869.2,1868.3 869.9,1858.2 870.6,1869.0 871.3,1859.8 872.0,1869.5 872.7,1860.7 873.4,1870.6 874.1,1865.8 874.8,1873.9 875.5,1863.6 876.2,1874.7 876.9,1866.8 877.6,1876.8 878.3,1866.8 879.0,1865.6 879.7,1872.9 880.0,1873.2 887.7,1861.4 898.0,1874.8 908.3,1870.7 916.1,1862.9 926.4,1868.1 934.1,1839.8 941.8,1871.7 952.1,1865.5 962.4,1873.2 970.1,1854.2 977.9,1879.9 988.2,1861.4 998.5,1865.5 1006.2,1873.2 1013.9,1847.5 1024.2,1856.2 1034.5,1852.6 1044.8,1865.5 1057.7,1873.2 1068.0,1861.4 1078.3,1860.4 1091.2,1837.2 1111.8,1874.8 1127.2,1864.5 1142.7,1865.5 1153.0,1851.1 1163.3,1852.6 1174.6,1881.0 1189.0,1857.8 1199.3,1865.5 1209.6,1845.9 1232.8,1879.9 1258.5,1843.9 1271.4,1871.7 1286.9,1865.5 1297.2,1854.2 1310.0,1874.8 1322.9,1849.0 1338.4,1873.2 1353.8,1868.1 1366.7,1874.8 1382.1,1843.9 1395.0,1851.1 1410.5,1878.4 1443.9,1851.1 1459.4,1878.4 1477.4,1854.2 1495.5,1868.1 1510.9,1859.3 1528.9,1878.4 1547.0,1883.5 1565.0,1865.5 1583.0,1879.9 1600.0,1865.5 1620.6,1856.2 1641.2,1869.6 1661.8,1870.7 1679.8,1859.3 1708.2,1859.3 1728.8,1861.4 1749.4,1861.4 1767.4,1874.8 1790.6,1855.2 1811.2,1866.5 1834.3,1864.5 1857.5,1869.6 1883.3,1868.1 1906.4,1864.0 1934.8,1878.4 1960.5,1874.8 1986.3,1874.8 2012.0,1862.9 2037.8,1865.5 2063.5,1861.4 2094.4,1861.4 2120.2,1862.9 2151.1,1866.5 2182.0,1873.2 2212.9,1849.0 2243.8,1861.4 2274.7,1862.9 2308.2,1870.7"/><use href="#tr7" x="3.4" y="0"/><use href="#tr7" x="0" y="3.4"/><use href="#tr7" x="3.4" y="3.4"/></g>
<polyline points="690.9,2003.40 693.8,1995.58 696.7,1988.21 699.6,1981.25 702.5,1974.68 705.4,1968.49 708.4,1962.64 711.3,1957.13 714.2,1951.92 717.1,1947.01 720.0,1942.38 722.9,1938.01 725.9,1933.89 728.8,1930.00 731.7,1926.33 734.6,1922.86 737.5,1919.59 740.4,1916.51 743.4,1913.60 746.3,1910.86 749.2,1908.27 752.1,1905.82 755.0,1903.52 758.0,1901.34 760.9,1899.29 763.8,1897.35 766.7,1895.52 769.6,1893.80 772.5,1892.17 775.5,1890.64 778.4,1889.19 781.3,1887.82 784.2,1886.54 787.1,1885.32 790.0,1884.17 793.0,1883.09 795.9,1882.07 798.8,1881.10 801.7,1880.19 804.6,1879.34 807.5,1878.53 810.5,1877.76 813.4,1877.04 816.3,1876.36 819.2,1875.72 822.1,1875.11 825.0,1874.54 828.0,1874.00 830.9,1873.49 833.8,1873.01 836.7,1872.56 839.6,1872.14 842.6,1871.73 845.5,1871.35 848.4,1870.99 851.3,1870.65 854.2,1870.34 857.1,1870.03 860.1,1869.75 863.0,1869.48 865.9,1869.23 868.8,1868.99 871.7,1868.76 874.6,1868.55 877.6,1868.35 880.5,1868.16 883.4,1867.98 886.3,1867.81 889.2,1867.66 892.1,1867.51 895.1,1867.36 898.0,1867.23 900.9,1867.10 903.8,1866.99 906.7,1866.87 909.6,1866.77 912.6,1866.67 915.5,1866.57 918.4,1866.48 921.3,1866.40 924.2,1866.32 927.2,1866.25 930.1,1866.18 933.0,1866.11 935.9,1866.05 938.8,1865.99 941.7,1865.93 944.7,1865.88 947.6,1865.83 950.5,1865.78 953.4,1865.74 956.3,1865.70 959.2,1865.66 962.2,1865.62 965.1,1865.59 968.0,1865.55 970.9,1865.52 973.8,1865.49 976.7,1865.46 979.7,1865.44 982.6,1865.41 985.5,1865.39 988.4,1865.37 991.3,1865.35 994.2,1865.33 997.2,1865.31 1000.1,1865.29 1003.0,1865.28 1005.9,1865.26 1008.8,1865.24 1011.8,1865.23 1014.7,1865.22 1017.6,1865.21 1020.5,1865.19 1023.4,1865.18 1026.3,1865.17 1029.3,1865.16 1032.2,1865.15 1035.1,1865.15 1038.0,1865.14 1040.9,1865.13 1043.8,1865.12 1046.8,1865.11 1049.7,1865.11 1052.6,1865.10 1055.5,1865.10 1058.4,1865.09 1081.8,1865.06 1105.1,1865.04 1128.4,1865.02 1151.8,1865.01 1175.1,1865.01 1198.5,1865.01 1221.8,1865.00 1245.1,1865.00 1268.5,1865.00 1291.8,1865.00 1315.1,1865.00 1338.5,1865.00 1361.8,1865.00 1385.2,1865.00 1408.5,1865.00 1431.8,1865.00 1455.2,1865.00 1478.5,1865.00 1501.8,1865.00 1525.2,1865.00 1548.5,1865.00 1571.9,1865.00 1595.2,1865.00 1618.5,1865.00 1641.9,1865.00 1665.2,1865.00 1688.6,1865.00 1711.9,1865.00 1735.2,1865.00 1758.6,1865.00 1781.9,1865.00 1805.2,1865.00 1828.6,1865.00 1851.9,1865.00 1875.3,1865.00 1898.6,1865.00 1921.9,1865.00 1945.3,1865.00 1968.6,1865.00 1991.9,1865.00 2015.3,1865.00 2038.6,1865.00 2062.0,1865.00 2085.3,1865.00 2108.6,1865.00 2132.0,1865.00 2155.3,1865.00 2178.7,1865.00 2202.0,1865.00 2225.3,1865.00 2248.7,1865.00 2272.0,1865.00 2295.3,1865.00 2309.3,1865.00" fill="none" stroke="#404040" stroke-width="3.6"/>
<g fill="none" stroke="#000080" stroke-width="4.2" stroke-linejoin="round" stroke-linecap="round"><polyline id="tr8" transform="translate(-1.7,-1.7)" points="590.5,2183.9 591.2,2263.1 591.9,2264.5 592.6,2263.1 593.3,2183.9 594.0,2195.7 594.7,2240.2 595.4,2195.4 596.1,2236.9 596.8,2193.0 597.5,2246.8 598.2,2250.9 598.9,2199.8 599.6,2252.3 600.3,2200.7 601.0,2204.5 601.7,2248.3 602.4,2204.8 603.1,2234.9 603.8,2236.7 604.5,2197.3 605.2,2236.5 605.9,2205.6 606.6,2205.8 607.3,2205.7 608.0,2242.7 608.7,2197.6 609.4,2240.7 610.1,2207.1 610.8,2239.6 611.5,2200.4 612.2,2235.9 612.9,2206.2 613.6,2237.3 614.3,2211.5 615.0,2236.1 615.7,2207.5 616.4,2242.1 617.1,2209.7 617.8,2241.0 618.5,2213.2 619.2,2237.4 619.9,2214.1 620.6,2235.8 621.3,2215.2 622.0,2246.3 622.7,2212.1 623.4,2246.1 624.1,2247.2 624.8,2216.0 625.5,2247.5 626.2,2216.4 626.9,2248.8 627.6,2214.6 628.3,2238.0 629.0,2206.4 629.7,2235.9 630.4,2209.9 631.1,2236.7 631.8,2207.9 632.5,2243.1 633.2,2236.7 633.9,2208.7 634.6,2238.3 635.3,2202.9 636.0,2244.2 636.7,2208.1 637.4,2242.0 638.1,2207.7 638.8,2238.0 639.5,2207.7 640.2,2234.9 640.9,2208.5 641.6,2236.8 642.3,2208.1 643.0,2234.4 643.7,2236.0 644.4,2234.4 645.1,2206.6 645.8,2206.4 646.5,2235.4 647.2,2235.4 647.9,2198.2 648.6,2194.9 649.3,2233.1 650.0,2197.3 650.7,2233.1 651.4,2197.9 652.1,2235.1 652.8,2234.4 653.5,2194.4 654.2,2215.0 654.9,2234.5 655.6,2213.2 656.3,2231.3 657.0,2215.1 657.7,2235.3 658.4,2213.1 659.1,2234.7 659.8,2213.9 660.5,2241.9 661.2,2213.9 661.9,2242.8 662.6,2213.0 663.3,2214.1 664.0,2230.3 664.7,2232.3 665.4,2216.0 666.1,2228.9 666.8,2212.6 667.5,2229.8 668.2,2206.1 668.9,2228.5 669.6,2207.5 670.3,2229.8 671.0,2207.1 671.7,2230.1 672.4,2205.7 673.1,2231.4 673.8,2211.4 674.5,2233.3 675.2,2211.2 675.9,2233.2 676.6,2213.0 677.3,2230.8 678.0,2211.5 678.7,2241.2 679.4,2239.2 680.1,2210.6 680.8,2205.8 681.5,2246.2 682.2,2205.3 682.9,2262.5 683.6,2211.3 684.3,2232.0 685.0,2208.8 685.7,2230.9 686.4,2214.4 687.1,2211.7 687.8,2241.9 688.5,2213.7 689.2,2246.2 689.9,2243.5 690.6,2246.3 691.3,2212.0 692.0,2227.4 692.7,2224.6 693.4,2210.4 694.1,2224.5 694.8,2213.3 695.5,2208.1 696.2,2209.5 696.9,2223.9 697.6,2207.0 698.3,2220.4 699.0,2208.3 699.7,2208.3 700.4,2220.5 701.1,2222.2 701.8,2207.7 702.5,2210.1 703.2,2212.3 703.9,2209.4 704.6,2190.9 705.3,2202.2 706.0,2193.2 706.7,2192.3 707.4,2185.0 708.1,2180.9 708.8,2162.9 709.5,2173.7 710.2,2154.8 710.9,2161.3 711.6,2146.5 712.3,2155.0 713.0,2141.1 713.7,2154.7 714.4,2155.2 715.1,2159.3 715.8,2146.5 716.5,2144.3 717.2,2159.6 717.9,2157.8 718.6,2152.8 719.3,2164.2 720.0,2153.8 720.7,2152.8 721.4,2166.8 722.1,2153.7 722.8,2163.0 723.5,2165.3 724.2,2149.8 724.9,2161.1 725.6,2145.4 726.3,2154.6 727.0,2142.0 727.7,2140.9 728.4,2149.3 729.1,2135.7 729.8,2146.3 730.5,2130.7 731.2,2144.2 731.9,2126.3 732.6,2137.3 733.3,2122.3 734.0,2124.5 734.7,2119.2 735.4,2134.1 736.1,2119.1 736.8,2118.8 737.5,2125.9 738.2,2117.5 738.9,2132.5 739.6,2127.6 740.3,2118.0 741.0,2122.5 741.7,2131.5 742.4,2130.2 743.1,2124.4 743.8,2133.5 744.5,2124.7 745.2,2135.9 745.9,2123.9 746.6,2123.2 747.3,2135.8 748.0,2118.3 748.7,2127.9 749.4,2130.0 750.1,2117.0 750.8,2113.2 751.5,2122.1 752.2,2106.7 752.9,2121.1 753.6,2103.5 754.3,2121.5 755.0,2109.7 755.7,2109.9 756.4,2116.3 757.1,2109.1 757.8,2119.5 758.5,2122.7 759.2,2107.7 759.9,2121.8 760.6,2109.5 761.3,2123.6 762.0,2112.0 762.7,2120.9 763.4,2109.4 764.1,2111.3 764.8,2123.9 765.5,2122.7 766.2,2126.1 766.9,2111.4 767.6,2122.7 768.3,2114.0 769.0,2123.8 769.7,2113.7 770.4,2120.1 771.1,2110.3 771.8,2110.8 772.5,2118.5 773.2,2107.6 773.9,2109.4 774.6,2117.7 775.3,2108.3 776.0,2115.3 776.7,2103.6 777.4,2104.8 778.1,2102.4 778.8,2113.7 779.5,2105.9 780.2,2112.4 780.9,2101.3 781.6,2101.2 782.3,2114.1 783.0,2100.0 783.7,2097.0 784.4,2110.8 785.1,2099.6 785.8,2108.5 786.5,2100.2 787.2,2111.6 787.9,2112.2 788.6,2100.4 789.3,2102.6 790.0,2117.6 790.7,2105.6 791.4,2113.6 792.1,2119.2 792.8,2107.9 793.5,2117.2 794.2,2105.5 794.9,2119.3 795.6,2107.2 796.3,2122.8 797.0,2112.2 797.7,2120.3 798.4,2122.5 799.1,2110.5 799.8,2125.1 800.5,2108.1 801.2,2105.3 801.9,2116.3 802.6,2115.8 803.3,2112.9 804.0,2103.8 804.7,2115.2 805.4,2101.2 806.1,2108.9 806.8,2095.7 807.5,2107.9 808.2,2091.1 808.9,2105.1 809.6,2092.0 810.3,2101.4 811.0,2091.1 811.7,2090.2 812.4,2089.1 813.1,2105.0 813.8,2095.6 814.5,2097.9 815.2,2106.8 815.9,2095.6 816.6,2108.9 817.3,2103.2 818.0,2115.5 818.7,2119.0 819.4,2106.2 820.1,2120.5 820.8,2108.5 821.5,2123.7 822.2,2114.9 822.9,2116.3 823.6,2125.8 824.3,2126.9 825.0,2115.2 825.7,2122.3 826.4,2110.2 827.1,2123.8 827.8,2110.0 828.5,2118.2 829.2,2106.4 829.9,2115.9 830.6,2102.3 831.3,2110.0 832.0,2097.0 832.7,2107.2 833.4,2096.1 834.1,2103.3 834.8,2091.2 835.5,2099.4 836.2,2091.0 836.9,2103.1 837.6,2092.5 838.3,2106.3 839.0,2107.6 839.7,2096.9 840.4,2113.3 841.2,2105.0 841.9,2114.6 842.6,2107.0 843.3,2121.9 844.0,2106.7 844.7,2119.4 845.4,2121.4 846.1,2111.7 846.8,2128.6 847.5,2114.3 848.2,2129.6 848.9,2118.9 849.6,2132.9 850.3,2120.6 851.0,2131.6 851.7,2127.8 852.4,2115.8 853.1,2124.1 853.8,2110.8 854.5,2119.8 855.2,2104.4 855.9,2119.6 856.6,2102.9 857.3,2110.0 858.0,2101.4 858.7,2107.8 859.4,2095.8 860.1,2106.8 860.8,2094.2 861.5,2100.9 862.2,2093.8 862.9,2105.0 863.6,2094.4 864.3,2113.4 865.0,2104.2 865.7,2116.6 866.4,2110.1 867.1,2123.9 867.8,2111.7 868.5,2127.0 869.2,2131.6 869.9,2115.7 870.6,2124.6 871.3,2111.6 872.0,2106.4 872.7,2118.7 873.4,2103.2 874.1,2103.6 874.8,2108.9 875.5,2106.4 876.2,2096.8 876.9,2106.8 877.6,2094.9 878.3,2114.1 879.0,2101.7 879.7,2114.7 880.0,2099.8 885.2,2124.5 892.9,2104.9 903.2,2107.5 913.5,2110.1 921.2,2123.0 928.9,2102.3 939.2,2106.0 949.5,2112.7 954.7,2097.2 961.4,2143.6 967.6,2102.3 975.3,2110.1 983.0,2083.3 990.7,2081.7 998.5,2128.1 1006.2,2104.9 1019.1,2106.0 1031.9,2107.5 1044.8,2112.7 1055.1,2104.9 1064.4,2117.8 1073.1,2084.3 1083.4,2107.5 1092.2,2125.5 1101.5,2114.2 1111.8,2102.3 1122.1,2116.3 1132.4,2107.5 1142.7,2119.3 1155.5,2117.8 1165.8,2125.5 1176.1,2128.1 1186.4,2088.4 1196.7,2107.5 1208.6,2125.5 1219.9,2076.6 1232.8,2110.1 1243.1,2094.6 1258.5,2098.7 1268.8,2092.0 1281.7,2110.1 1294.6,2099.8 1310.0,2103.9 1322.9,2112.7 1338.4,2112.7 1351.2,2123.0 1371.8,2107.5 1382.1,2107.5 1410.5,2081.7 1425.9,2123.0 1441.4,2089.5 1462.0,2097.2 1477.4,2120.4 1492.9,2090.5 1510.9,2092.0 1531.5,2107.5 1549.5,2114.2 1565.0,2114.2 1583.0,2106.0 1600.0,2141.0 1620.6,2092.0 1641.2,2098.7 1661.8,2081.7 1682.4,2107.5 1703.0,2093.6 1723.6,2084.3 1746.8,2088.4 1767.4,2130.7 1790.6,2094.6 1811.2,2119.3 1834.3,2124.5 1857.5,2107.5 1883.3,2112.7 1909.0,2110.1 1934.8,2090.5 1960.5,2126.6 1986.3,2111.1 2012.0,2107.5 2037.8,2094.6 2066.1,2124.5 2094.4,2110.1 2122.7,2129.6 2153.6,2104.9 2182.0,2109.0 2212.9,2090.5 2243.8,2111.1 2274.7,2092.0 2308.2,2103.9"/><use href="#tr8" x="3.4" y="0"/><use href="#tr8" x="0" y="3.4"/><use href="#tr8" x="3.4" y="3.4"/></g>
<polyline points="691.4,2242.00 694.4,2227.86 697.3,2215.20 700.2,2203.87 703.1,2193.74 706.0,2184.67 708.9,2176.55 711.9,2169.29 714.8,2162.79 717.7,2156.98 720.6,2151.78 723.5,2147.12 726.4,2142.95 729.4,2139.23 732.3,2135.89 735.2,2132.90 738.1,2130.23 741.0,2127.84 743.9,2125.70 746.9,2123.79 749.8,2122.08 752.7,2120.54 755.6,2119.17 758.5,2117.94 761.5,2116.85 764.4,2115.86 767.3,2114.98 770.2,2114.20 773.1,2113.49 776.0,2112.86 779.0,2112.30 781.9,2111.79 784.8,2111.34 787.7,2110.94 790.6,2110.58 793.5,2110.25 796.5,2109.96 799.4,2109.70 802.3,2109.47 805.2,2109.27 808.1,2109.08 811.0,2108.91 814.0,2108.76 816.9,2108.63 819.8,2108.51 822.7,2108.41 825.6,2108.31 828.5,2108.23 831.5,2108.15 834.4,2108.08 837.3,2108.02 840.2,2107.97 843.1,2107.92 846.1,2107.87 849.0,2107.83 851.9,2107.80 854.8,2107.77 857.7,2107.74 860.6,2107.71 863.6,2107.69 866.5,2107.67 869.4,2107.65 872.3,2107.64 875.2,2107.62 878.1,2107.61 881.1,2107.60 884.0,2107.59 886.9,2107.58 889.8,2107.57 892.7,2107.56 895.6,2107.56 898.6,2107.55 901.5,2107.55 904.4,2107.54 907.3,2107.54 910.2,2107.53 913.1,2107.53 916.1,2107.53 919.0,2107.52 921.9,2107.52 924.8,2107.52 927.7,2107.52 930.7,2107.51 933.6,2107.51 936.5,2107.51 939.4,2107.51 942.3,2107.51 945.2,2107.51 948.2,2107.51 951.1,2107.51 954.0,2107.51 956.9,2107.51 959.8,2107.50 962.7,2107.50 965.7,2107.50 968.6,2107.50 971.5,2107.50 974.4,2107.50 977.3,2107.50 980.2,2107.50 983.2,2107.50 986.1,2107.50 989.0,2107.50 991.9,2107.50 994.8,2107.50 997.7,2107.50 1000.7,2107.50 1003.6,2107.50 1006.5,2107.50 1009.4,2107.50 1012.3,2107.50 1015.3,2107.50 1018.2,2107.50 1021.1,2107.50 1024.0,2107.50 1026.9,2107.50 1029.8,2107.50 1032.8,2107.50 1035.7,2107.50 1038.6,2107.50 1041.5,2107.50 1044.4,2107.50 1047.3,2107.50 1050.3,2107.50 1053.2,2107.50 1056.1,2107.50 1059.0,2107.50 1082.3,2107.50 1105.7,2107.50 1129.0,2107.50 1152.4,2107.50 1175.7,2107.50 1199.0,2107.50 1222.4,2107.50 1245.7,2107.50 1269.1,2107.50 1292.4,2107.50 1315.7,2107.50 1339.1,2107.50 1362.4,2107.50 1385.7,2107.50 1409.1,2107.50 1432.4,2107.50 1455.8,2107.50 1479.1,2107.50 1502.4,2107.50 1525.8,2107.50 1549.1,2107.50 1572.4,2107.50 1595.8,2107.50 1619.1,2107.50 1642.5,2107.50 1665.8,2107.50 1689.1,2107.50 1712.5,2107.50 1735.8,2107.50 1759.2,2107.50 1782.5,2107.50 1805.8,2107.50 1829.2,2107.50 1852.5,2107.50 1875.8,2107.50 1899.2,2107.50 1922.5,2107.50 1945.9,2107.50 1969.2,2107.50 1992.5,2107.50 2015.9,2107.50 2039.2,2107.50 2062.5,2107.50 2085.9,2107.50 2109.2,2107.50 2132.6,2107.50 2155.9,2107.50 2179.2,2107.50 2202.6,2107.50 2225.9,2107.50 2249.2,2107.50 2272.6,2107.50 2295.9,2107.50 2309.3,2107.50" fill="none" stroke="#404040" stroke-width="3.6"/>
<g fill="none" stroke="#970087" stroke-width="4.2" stroke-linejoin="round" stroke-linecap="round"><polyline id="tr9" transform="translate(-1.7,-1.7)" points="590.5,2395.6 591.2,2488.4 591.9,2395.5 592.6,2488.3 593.3,2395.4 594.0,2419.6 594.7,2466.2 595.4,2478.4 596.1,2411.2 596.8,2473.2 597.5,2411.4 598.2,2465.7 598.9,2351.5 599.6,2404.5 600.3,2462.0 601.0,2418.3 601.7,2462.8 602.4,2418.3 603.1,2457.3 603.8,2421.3 604.5,2461.0 605.2,2420.3 605.9,2425.6 606.6,2461.0 607.3,2421.0 608.0,2458.8 608.7,2420.7 609.4,2469.1 610.1,2426.0 610.8,2466.0 611.5,2421.5 612.2,2462.2 612.9,2422.9 613.6,2462.5 614.3,2420.7 615.0,2464.1 615.7,2460.0 616.4,2409.8 617.1,2465.3 617.8,2458.9 618.5,2465.1 619.2,2419.6 619.9,2409.8 620.6,2465.5 621.3,2407.7 622.0,2456.2 622.7,2459.0 623.4,2414.0 624.1,2411.1 624.8,2460.6 625.5,2405.2 626.2,2454.4 626.9,2406.9 627.6,2456.2 628.3,2454.2 629.0,2417.1 629.7,2413.8 630.4,2452.1 631.1,2416.8 631.8,2471.1 632.5,2465.9 633.2,2415.9 633.9,2474.9 634.6,2413.7 635.3,2468.3 636.0,2416.1 636.7,2469.2 637.4,2411.9 638.1,2474.8 638.8,2409.4 639.5,2469.7 640.2,2452.6 640.9,2410.1 641.6,2449.0 642.3,2416.1 643.0,2453.2 643.7,2418.0 644.4,2456.2 645.1,2420.6 645.8,2413.8 646.5,2463.8 647.2,2414.1 647.9,2456.3 648.6,2406.6 649.3,2467.6 650.0,2406.6 650.7,2467.7 651.4,2413.6 652.1,2409.8 652.8,2423.0 653.5,2463.5 654.2,2425.8 654.9,2465.6 655.6,2422.8 656.3,2461.6 657.0,2426.2 657.7,2427.5 658.4,2463.9 659.1,2415.0 659.8,2455.0 660.5,2461.0 661.2,2460.8 661.9,2462.0 662.6,2406.5 663.3,2451.8 664.0,2414.2 664.7,2455.0 665.4,2403.6 666.1,2401.8 666.8,2468.2 667.5,2463.1 668.2,2414.7 668.9,2456.5 669.6,2413.1 670.3,2467.9 671.0,2416.8 671.7,2461.6 672.4,2418.9 673.1,2418.4 673.8,2460.2 674.5,2403.3 675.2,2465.0 675.9,2457.1 676.6,2403.5 677.3,2466.3 678.0,2402.3 678.7,2460.8 679.4,2405.6 680.1,2448.8 680.8,2410.3 681.5,2448.1 682.2,2406.0 682.9,2511.5 683.6,2454.1 684.3,2405.8 685.0,2455.0 685.7,2465.0 686.4,2411.5 687.1,2448.1 687.8,2405.3 688.5,2449.5 689.2,2418.0 689.9,2449.0 690.6,2415.6 691.3,2457.9 692.0,2424.2 692.7,2432.2 693.4,2424.4 694.1,2437.3 694.8,2418.6 695.5,2434.7 696.2,2425.4 696.9,2438.4 697.6,2420.7 698.3,2433.6 699.0,2423.6 699.7,2435.7 700.4,2420.9 701.1,2440.0 701.8,2426.9 702.5,2428.4 703.2,2424.2 703.9,2439.6 704.6,2427.4 705.3,2437.3 706.0,2421.2 706.7,2434.1 707.4,2430.0 708.1,2416.6 708.8,2413.9 709.5,2424.7 710.2,2423.0 710.9,2413.9 711.6,2414.2 712.3,2415.1 713.0,2393.9 713.7,2407.7 714.4,2393.8 715.1,2390.1 715.8,2400.6 716.5,2386.7 717.2,2391.4 717.9,2377.9 718.6,2387.8 719.3,2377.7 720.0,2385.6 720.7,2371.6 721.4,2384.7 722.1,2373.0 722.8,2375.3 723.5,2384.0 724.2,2373.3 724.9,2390.8 725.6,2381.2 726.3,2391.7 727.0,2380.9 727.7,2398.1 728.4,2383.9 729.1,2397.1 729.8,2402.9 730.5,2392.4 731.2,2397.4 731.9,2388.5 732.6,2381.1 733.3,2380.4 734.0,2379.0 734.7,2391.5 735.4,2374.2 736.1,2390.3 736.8,2369.8 737.5,2386.0 738.2,2372.8 738.9,2388.2 739.6,2388.8 740.3,2387.4 741.0,2372.0 741.7,2389.5 742.4,2379.3 743.1,2388.6 743.8,2390.3 744.5,2381.8 745.2,2395.3 745.9,2379.8 746.6,2395.0 747.3,2392.9 748.0,2379.2 748.7,2396.2 749.4,2384.7 750.1,2400.1 750.8,2385.5 751.5,2397.6 752.2,2385.0 752.9,2402.5 753.6,2391.3 754.3,2391.4 755.0,2400.5 755.7,2391.1 756.4,2396.4 757.1,2398.2 757.8,2378.4 758.5,2388.0 759.2,2372.3 759.9,2380.3 760.6,2367.8 761.3,2374.6 762.0,2358.6 762.7,2353.0 763.4,2366.1 764.1,2349.6 764.8,2361.2 765.5,2348.9 766.2,2369.2 766.9,2352.6 767.6,2369.0 768.3,2367.4 769.0,2362.0 769.7,2377.1 770.4,2360.5 771.1,2380.1 771.8,2364.9 772.5,2377.3 773.2,2384.4 773.9,2366.8 774.6,2382.4 775.3,2374.5 776.0,2387.5 776.7,2377.2 777.4,2388.2 778.1,2377.7 778.8,2394.9 779.5,2381.6 780.2,2377.0 780.9,2388.0 781.6,2373.0 782.3,2382.8 783.0,2366.4 783.7,2379.7 784.4,2365.6 785.1,2371.9 785.8,2358.9 786.5,2371.1 787.2,2375.8 787.9,2377.8 788.6,2364.8 789.3,2386.6 790.0,2370.4 790.7,2389.2 791.4,2377.1 792.1,2393.4 792.8,2388.1 793.5,2404.9 794.2,2389.7 794.9,2406.2 795.6,2387.0 796.3,2398.1 797.0,2395.8 797.7,2378.0 798.4,2388.7 799.1,2383.0 799.8,2366.9 800.5,2379.7 801.2,2363.4 801.9,2373.8 802.6,2357.8 803.3,2362.2 804.0,2346.9 804.7,2361.2 805.4,2344.8 806.1,2364.4 806.8,2351.2 807.5,2366.3 808.2,2366.1 808.9,2359.4 809.6,2370.9 810.3,2361.8 811.0,2359.0 811.7,2362.7 812.4,2365.1 813.1,2381.0 813.8,2380.7 814.5,2373.8 815.2,2384.3 815.9,2370.8 816.6,2385.7 817.3,2375.3 818.0,2393.2 818.7,2384.4 819.4,2382.5 820.1,2394.9 820.8,2376.7 821.5,2377.7 822.2,2383.8 822.9,2368.8 823.6,2372.5 824.3,2377.7 825.0,2363.6 825.7,2373.5 826.4,2360.7 827.1,2371.7 827.8,2356.6 828.5,2352.9 829.2,2354.4 829.9,2363.2 830.6,2352.4 831.3,2358.7 832.0,2372.6 832.7,2362.9 833.4,2378.5 834.1,2379.6 834.8,2365.9 835.5,2368.9 836.2,2388.3 836.9,2377.5 837.6,2389.4 838.3,2381.2 839.0,2393.8 839.7,2388.7 840.4,2399.4 841.2,2390.5 841.9,2394.9 842.6,2393.8 843.3,2397.9 844.0,2409.0 844.7,2406.0 845.4,2398.7 846.1,2385.5 846.8,2396.6 847.5,2384.3 848.2,2390.5 848.9,2376.2 849.6,2385.3 850.3,2375.4 851.0,2381.2 851.7,2372.1 852.4,2381.8 853.1,2366.4 853.8,2375.7 854.5,2360.9 855.2,2375.9 855.9,2365.0 856.6,2385.8 857.3,2382.2 858.0,2378.2 858.7,2389.5 859.4,2376.0 860.1,2393.7 860.8,2383.4 861.5,2398.8 862.2,2389.3 862.9,2399.7 863.6,2401.6 864.3,2387.1 865.0,2394.1 865.7,2382.6 866.4,2392.5 867.1,2375.4 867.8,2390.9 868.5,2374.9 869.2,2374.9 869.9,2386.0 870.6,2368.3 871.3,2381.8 872.0,2360.8 872.7,2376.0 873.4,2371.9 874.1,2360.4 874.8,2358.8 875.5,2372.1 876.2,2361.4 876.9,2377.4 877.6,2364.0 878.3,2383.5 879.0,2372.5 879.7,2382.6 880.0,2381.6 885.2,2350.7 890.3,2386.8 895.5,2340.4 900.6,2386.8 903.2,2337.8 908.3,2412.5 913.5,2379.0 921.2,2391.9 928.9,2402.2 936.7,2379.0 941.8,2366.2 949.5,2348.1 957.3,2402.2 967.6,2371.3 975.3,2335.3 985.6,2355.9 998.5,2386.8 1013.9,2363.6 1024.2,2391.9 1029.4,2386.8 1037.1,2409.9 1044.8,2361.0 1055.1,2363.6 1065.4,2391.9 1083.4,2350.7 1093.7,2404.8 1109.2,2376.5 1122.1,2391.9 1134.9,2386.8 1142.7,2367.2 1160.7,2367.2 1183.9,2371.3 1196.7,2332.7 1209.6,2358.4 1222.5,2350.7 1232.8,2332.7 1243.1,2394.5 1256.0,2386.8 1271.4,2411.5 1292.0,2386.8 1310.0,2351.7 1322.9,2381.6 1338.4,2387.8 1351.2,2370.3 1364.1,2397.1 1379.6,2373.9 1395.0,2411.5 1410.5,2345.6 1425.9,2375.4 1441.4,2373.9 1459.4,2340.4 1474.8,2408.4 1492.9,2389.3 1510.9,2368.7 1528.9,2367.2 1547.0,2387.8 1565.0,2363.6 1583.0,2422.8 1600.0,2367.2 1620.6,2408.4 1641.2,2364.6 1661.8,2369.8 1682.4,2400.7 1700.4,2344.0 1721.0,2338.9 1746.8,2359.5 1764.8,2362.0 1788.0,2345.6 1811.2,2394.0 1834.3,2381.6 1857.5,2391.9 1883.3,2342.5 1909.0,2380.1 1932.2,2340.4 1960.5,2390.4 1986.3,2385.2 2012.0,2380.1 2037.8,2383.7 2066.1,2426.4 2094.4,2413.6 2122.7,2361.0 2153.6,2400.7 2182.0,2385.2 2212.9,2374.9 2243.8,2367.2 2274.7,2419.7 2308.2,2338.9"/><use href="#tr9" x="3.4" y="0"/><use href="#tr9" x="0" y="3.4"/><use href="#tr9" x="3.4" y="3.4"/></g>
<polyline points="691.4,2446.50 694.4,2437.31 697.3,2429.35 700.2,2422.45 703.1,2416.47 706.0,2411.28 708.9,2406.78 711.9,2402.88 714.8,2399.50 717.7,2396.58 720.6,2394.04 723.5,2391.83 726.4,2389.93 729.4,2388.27 732.3,2386.84 735.2,2385.60 738.1,2384.52 741.0,2383.58 743.9,2382.77 746.9,2382.07 749.8,2381.46 752.7,2380.94 755.6,2380.48 758.5,2380.08 761.5,2379.74 764.4,2379.44 767.3,2379.18 770.2,2378.96 773.1,2378.76 776.0,2378.60 779.0,2378.45 781.9,2378.32 784.8,2378.21 787.7,2378.12 790.6,2378.04 793.5,2377.96 796.5,2377.90 799.4,2377.85 802.3,2377.80 805.2,2377.76 808.1,2377.73 811.0,2377.70 814.0,2377.67 816.9,2377.65 819.8,2377.63 822.7,2377.61 825.6,2377.60 828.5,2377.58 831.5,2377.57 834.4,2377.56 837.3,2377.55 840.2,2377.55 843.1,2377.54 846.1,2377.54 849.0,2377.53 851.9,2377.53 854.8,2377.52 857.7,2377.52 860.6,2377.52 863.6,2377.52 866.5,2377.51 869.4,2377.51 872.3,2377.51 875.2,2377.51 878.1,2377.51 881.1,2377.51 884.0,2377.51 886.9,2377.50 889.8,2377.50 892.7,2377.50 895.6,2377.50 898.6,2377.50 901.5,2377.50 904.4,2377.50 907.3,2377.50 910.2,2377.50 913.1,2377.50 916.1,2377.50 919.0,2377.50 921.9,2377.50 924.8,2377.50 927.7,2377.50 930.7,2377.50 933.6,2377.50 936.5,2377.50 939.4,2377.50 942.3,2377.50 945.2,2377.50 948.2,2377.50 951.1,2377.50 954.0,2377.50 956.9,2377.50 959.8,2377.50 962.7,2377.50 965.7,2377.50 968.6,2377.50 971.5,2377.50 974.4,2377.50 977.3,2377.50 980.2,2377.50 983.2,2377.50 986.1,2377.50 989.0,2377.50 991.9,2377.50 994.8,2377.50 997.7,2377.50 1000.7,2377.50 1003.6,2377.50 1006.5,2377.50 1009.4,2377.50 1012.3,2377.50 1015.3,2377.50 1018.2,2377.50 1021.1,2377.50 1024.0,2377.50 1026.9,2377.50 1029.8,2377.50 1032.8,2377.50 1035.7,2377.50 1038.6,2377.50 1041.5,2377.50 1044.4,2377.50 1047.3,2377.50 1050.3,2377.50 1053.2,2377.50 1056.1,2377.50 1059.0,2377.50 1082.3,2377.50 1105.7,2377.50 1129.0,2377.50 1152.4,2377.50 1175.7,2377.50 1199.0,2377.50 1222.4,2377.50 1245.7,2377.50 1269.1,2377.50 1292.4,2377.50 1315.7,2377.50 1339.1,2377.50 1362.4,2377.50 1385.7,2377.50 1409.1,2377.50 1432.4,2377.50 1455.8,2377.50 1479.1,2377.50 1502.4,2377.50 1525.8,2377.50 1549.1,2377.50 1572.4,2377.50 1595.8,2377.50 1619.1,2377.50 1642.5,2377.50 1665.8,2377.50 1689.1,2377.50 1712.5,2377.50 1735.8,2377.50 1759.2,2377.50 1782.5,2377.50 1805.8,2377.50 1829.2,2377.50 1852.5,2377.50 1875.8,2377.50 1899.2,2377.50 1922.5,2377.50 1945.9,2377.50 1969.2,2377.50 1992.5,2377.50 2015.9,2377.50 2039.2,2377.50 2062.5,2377.50 2085.9,2377.50 2109.2,2377.50 2132.6,2377.50 2155.9,2377.50 2179.2,2377.50 2202.6,2377.50 2225.9,2377.50 2249.2,2377.50 2272.6,2377.50 2295.9,2377.50 2309.3,2377.50" fill="none" stroke="#404040" stroke-width="3.6"/>
<g><line x1="530" y1="103.6" x2="2345" y2="103.6" stroke="#000" stroke-width="5.2"/><line x1="530" y1="2540.7" x2="2345" y2="2540.7" stroke="#000" stroke-width="6.2"/><line x1="533.3" y1="101" x2="533.3" y2="2543.8" stroke="#000" stroke-width="7"/><line x1="2341.4" y1="101" x2="2341.4" y2="2543.8" stroke="#000" stroke-width="7"/><line x1="533" y1="348" x2="2342" y2="348" stroke="#000" stroke-width="5.5"/><line x1="533" y1="591.8" x2="2342" y2="591.8" stroke="#000" stroke-width="5.5"/><line x1="533" y1="835.3" x2="2342" y2="835.3" stroke="#000" stroke-width="5.5"/><line x1="533" y1="1080" x2="2342" y2="1080" stroke="#000" stroke-width="5.5"/><line x1="533" y1="1322.3" x2="2342" y2="1322.3" stroke="#000" stroke-width="5.5"/><line x1="533" y1="1566" x2="2342" y2="1566" stroke="#000" stroke-width="5.5"/><line x1="533" y1="1810.3" x2="2342" y2="1810.3" stroke="#000" stroke-width="5.5"/><line x1="533" y1="2054" x2="2342" y2="2054" stroke="#000" stroke-width="5.5"/><line x1="533" y1="2296.8" x2="2342" y2="2296.8" stroke="#000" stroke-width="5.5"/><line x1="536" y1="174" x2="568" y2="174" stroke="#000" stroke-width="5"/><line x1="536" y1="296" x2="568" y2="296" stroke="#000" stroke-width="5"/><line x1="536" y1="111" x2="550" y2="111" stroke="#000" stroke-width="5"/><line x1="536" y1="235" x2="550" y2="235" stroke="#000" stroke-width="5"/><line x1="536" y1="416" x2="568" y2="416" stroke="#000" stroke-width="5"/><line x1="536" y1="540" x2="568" y2="540" stroke="#000" stroke-width="5"/><line x1="536" y1="355" x2="550" y2="355" stroke="#000" stroke-width="5"/><line x1="536" y1="479" x2="550" y2="479" stroke="#000" stroke-width="5"/><line x1="536" y1="660" x2="568" y2="660" stroke="#000" stroke-width="5"/><line x1="536" y1="784" x2="568" y2="784" stroke="#000" stroke-width="5"/><line x1="536" y1="599" x2="550" y2="599" stroke="#000" stroke-width="5"/><line x1="536" y1="723" x2="550" y2="723" stroke="#000" stroke-width="5"/><line x1="536" y1="878" x2="568" y2="878" stroke="#000" stroke-width="5"/><line x1="536" y1="1000" x2="568" y2="1000" stroke="#000" stroke-width="5"/><line x1="536" y1="939" x2="550" y2="939" stroke="#000" stroke-width="5"/><line x1="536" y1="1061.5" x2="550" y2="1061.5" stroke="#000" stroke-width="5"/><line x1="536" y1="1134" x2="568" y2="1134" stroke="#000" stroke-width="5"/><line x1="536" y1="1254" x2="568" y2="1254" stroke="#000" stroke-width="5"/><line x1="536" y1="1193" x2="550" y2="1193" stroke="#000" stroke-width="5"/><line x1="536" y1="1315" x2="550" y2="1315" stroke="#000" stroke-width="5"/><line x1="536" y1="1377.6" x2="568" y2="1377.6" stroke="#000" stroke-width="5"/><line x1="536" y1="1498" x2="568" y2="1498" stroke="#000" stroke-width="5"/><line x1="536" y1="1436.6" x2="550" y2="1436.6" stroke="#000" stroke-width="5"/><line x1="536" y1="1557" x2="550" y2="1557" stroke="#000" stroke-width="5"/><line x1="536" y1="1621" x2="568" y2="1621" stroke="#000" stroke-width="5"/><line x1="536" y1="1743" x2="568" y2="1743" stroke="#000" stroke-width="5"/><line x1="536" y1="1682.6" x2="550" y2="1682.6" stroke="#000" stroke-width="5"/><line x1="536" y1="1804.6" x2="550" y2="1804.6" stroke="#000" stroke-width="5"/><line x1="536" y1="1864" x2="568" y2="1864" stroke="#000" stroke-width="5"/><line x1="536" y1="1985.6" x2="568" y2="1985.6" stroke="#000" stroke-width="5"/><line x1="536" y1="1924.7" x2="550" y2="1924.7" stroke="#000" stroke-width="5"/><line x1="536" y1="2047" x2="550" y2="2047" stroke="#000" stroke-width="5"/><line x1="536" y1="2108" x2="568" y2="2108" stroke="#000" stroke-width="5"/><line x1="536" y1="2229.7" x2="568" y2="2229.7" stroke="#000" stroke-width="5"/><line x1="536" y1="2169" x2="550" y2="2169" stroke="#000" stroke-width="5"/><line x1="536" y1="2291" x2="550" y2="2291" stroke="#000" stroke-width="5"/><line x1="536" y1="2380" x2="568" y2="2380" stroke="#000" stroke-width="5"/><line x1="536" y1="2500" x2="568" y2="2500" stroke="#000" stroke-width="5"/><line x1="536" y1="2319" x2="550" y2="2319" stroke="#000" stroke-width="5"/><line x1="536" y1="2438" x2="550" y2="2438" stroke="#000" stroke-width="5"/><line x1="590.5" y1="345.3" x2="590.5" y2="318.3" stroke="#000" stroke-width="7"/><line x1="736.4" y1="345.3" x2="736.4" y2="333.3" stroke="#000" stroke-width="7"/><line x1="882.2" y1="345.3" x2="882.2" y2="318.3" stroke="#000" stroke-width="7"/><line x1="1028.1" y1="345.3" x2="1028.1" y2="333.3" stroke="#000" stroke-width="7"/><line x1="1174.0" y1="345.3" x2="1174.0" y2="318.3" stroke="#000" stroke-width="7"/><line x1="1319.8" y1="345.3" x2="1319.8" y2="333.3" stroke="#000" stroke-width="7"/><line x1="1465.7" y1="345.3" x2="1465.7" y2="318.3" stroke="#000" stroke-width="7"/><line x1="1611.5" y1="345.3" x2="1611.5" y2="333.3" stroke="#000" stroke-width="7"/><line x1="1757.4" y1="345.3" x2="1757.4" y2="318.3" stroke="#000" stroke-width="7"/><line x1="1903.3" y1="345.3" x2="1903.3" y2="333.3" stroke="#000" stroke-width="7"/><line x1="2049.1" y1="345.3" x2="2049.1" y2="318.3" stroke="#000" stroke-width="7"/><line x1="2195.0" y1="345.3" x2="2195.0" y2="333.3" stroke="#000" stroke-width="7"/><line x1="590.5" y1="589.0999999999999" x2="590.5" y2="562.0999999999999" stroke="#000" stroke-width="7"/><line x1="736.4" y1="589.0999999999999" x2="736.4" y2="577.0999999999999" stroke="#000" stroke-width="7"/><line x1="882.2" y1="589.0999999999999" x2="882.2" y2="562.0999999999999" stroke="#000" stroke-width="7"/><line x1="1028.1" y1="589.0999999999999" x2="1028.1" y2="577.0999999999999" stroke="#000" stroke-width="7"/><line x1="1174.0" y1="589.0999999999999" x2="1174.0" y2="562.0999999999999" stroke="#000" stroke-width="7"/><line x1="1319.8" y1="589.0999999999999" x2="1319.8" y2="577.0999999999999" stroke="#000" stroke-width="7"/><line x1="1465.7" y1="589.0999999999999" x2="1465.7" y2="562.0999999999999" stroke="#000" stroke-width="7"/><line x1="1611.5" y1="589.0999999999999" x2="1611.5" y2="577.0999999999999" stroke="#000" stroke-width="7"/><line x1="1757.4" y1="589.0999999999999" x2="1757.4" y2="562.0999999999999" stroke="#000" stroke-width="7"/><line x1="1903.3" y1="589.0999999999999" x2="1903.3" y2="577.0999999999999" stroke="#000" stroke-width="7"/><line x1="2049.1" y1="589.0999999999999" x2="2049.1" y2="562.0999999999999" stroke="#000" stroke-width="7"/><line x1="2195.0" y1="589.0999999999999" x2="2195.0" y2="577.0999999999999" stroke="#000" stroke-width="7"/><line x1="590.5" y1="832.5999999999999" x2="590.5" y2="805.5999999999999" stroke="#000" stroke-width="7"/><line x1="736.4" y1="832.5999999999999" x2="736.4" y2="820.5999999999999" stroke="#000" stroke-width="7"/><line x1="882.2" y1="832.5999999999999" x2="882.2" y2="805.5999999999999" stroke="#000" stroke-width="7"/><line x1="1028.1" y1="832.5999999999999" x2="1028.1" y2="820.5999999999999" stroke="#000" stroke-width="7"/><line x1="1174.0" y1="832.5999999999999" x2="1174.0" y2="805.5999999999999" stroke="#000" stroke-width="7"/><line x1="1319.8" y1="832.5999999999999" x2="1319.8" y2="820.5999999999999" stroke="#000" stroke-width="7"/><line x1="1465.7" y1="832.5999999999999" x2="1465.7" y2="805.5999999999999" stroke="#000" stroke-width="7"/><line x1="1611.5" y1="832.5999999999999" x2="1611.5" y2="820.5999999999999" stroke="#000" stroke-width="7"/><line x1="1757.4" y1="832.5999999999999" x2="1757.4" y2="805.5999999999999" stroke="#000" stroke-width="7"/><line x1="1903.3" y1="832.5999999999999" x2="1903.3" y2="820.5999999999999" stroke="#000" stroke-width="7"/><line x1="2049.1" y1="832.5999999999999" x2="2049.1" y2="805.5999999999999" stroke="#000" stroke-width="7"/><line x1="2195.0" y1="832.5999999999999" x2="2195.0" y2="820.5999999999999" stroke="#000" stroke-width="7"/><line x1="590.5" y1="1077.3" x2="590.5" y2="1050.3" stroke="#000" stroke-width="7"/><line x1="736.4" y1="1077.3" x2="736.4" y2="1065.3" stroke="#000" stroke-width="7"/><line x1="882.2" y1="1077.3" x2="882.2" y2="1050.3" stroke="#000" stroke-width="7"/><line x1="1028.1" y1="1077.3" x2="1028.1" y2="1065.3" stroke="#000" stroke-width="7"/><line x1="1174.0" y1="1077.3" x2="1174.0" y2="1050.3" stroke="#000" stroke-width="7"/><line x1="1319.8" y1="1077.3" x2="1319.8" y2="1065.3" stroke="#000" stroke-width="7"/><line x1="1465.7" y1="1077.3" x2="1465.7" y2="1050.3" stroke="#000" stroke-width="7"/><line x1="1611.5" y1="1077.3" x2="1611.5" y2="1065.3" stroke="#000" stroke-width="7"/><line x1="1757.4" y1="1077.3" x2="1757.4" y2="1050.3" stroke="#000" stroke-width="7"/><line x1="1903.3" y1="1077.3" x2="1903.3" y2="1065.3" stroke="#000" stroke-width="7"/><line x1="2049.1" y1="1077.3" x2="2049.1" y2="1050.3" stroke="#000" stroke-width="7"/><line x1="2195.0" y1="1077.3" x2="2195.0" y2="1065.3" stroke="#000" stroke-width="7"/><line x1="590.5" y1="1319.6" x2="590.5" y2="1292.6" stroke="#000" stroke-width="7"/><line x1="736.4" y1="1319.6" x2="736.4" y2="1307.6" stroke="#000" stroke-width="7"/><line x1="882.2" y1="1319.6" x2="882.2" y2="1292.6" stroke="#000" stroke-width="7"/><line x1="1028.1" y1="1319.6" x2="1028.1" y2="1307.6" stroke="#000" stroke-width="7"/><line x1="1174.0" y1="1319.6" x2="1174.0" y2="1292.6" stroke="#000" stroke-width="7"/><line x1="1319.8" y1="1319.6" x2="1319.8" y2="1307.6" stroke="#000" stroke-width="7"/><line x1="1465.7" y1="1319.6" x2="1465.7" y2="1292.6" stroke="#000" stroke-width="7"/><line x1="1611.5" y1="1319.6" x2="1611.5" y2="1307.6" stroke="#000" stroke-width="7"/><line x1="1757.4" y1="1319.6" x2="1757.4" y2="1292.6" stroke="#000" stroke-width="7"/><line x1="1903.3" y1="1319.6" x2="1903.3" y2="1307.6" stroke="#000" stroke-width="7"/><line x1="2049.1" y1="1319.6" x2="2049.1" y2="1292.6" stroke="#000" stroke-width="7"/><line x1="2195.0" y1="1319.6" x2="2195.0" y2="1307.6" stroke="#000" stroke-width="7"/><line x1="590.5" y1="1563.3" x2="590.5" y2="1536.3" stroke="#000" stroke-width="7"/><line x1="736.4" y1="1563.3" x2="736.4" y2="1551.3" stroke="#000" stroke-width="7"/><line x1="882.2" y1="1563.3" x2="882.2" y2="1536.3" stroke="#000" stroke-width="7"/><line x1="1028.1" y1="1563.3" x2="1028.1" y2="1551.3" stroke="#000" stroke-width="7"/><line x1="1174.0" y1="1563.3" x2="1174.0" y2="1536.3" stroke="#000" stroke-width="7"/><line x1="1319.8" y1="1563.3" x2="1319.8" y2="1551.3" stroke="#000" stroke-width="7"/><line x1="1465.7" y1="1563.3" x2="1465.7" y2="1536.3" stroke="#000" stroke-width="7"/><line x1="1611.5" y1="1563.3" x2="1611.5" y2="1551.3" stroke="#000" stroke-width="7"/><line x1="1757.4" y1="1563.3" x2="1757.4" y2="1536.3" stroke="#000" stroke-width="7"/><line x1="1903.3" y1="1563.3" x2="1903.3" y2="1551.3" stroke="#000" stroke-width="7"/><line x1="2049.1" y1="1563.3" x2="2049.1" y2="1536.3" stroke="#000" stroke-width="7"/><line x1="2195.0" y1="1563.3" x2="2195.0" y2="1551.3" stroke="#000" stroke-width="7"/><line x1="590.5" y1="1807.6" x2="590.5" y2="1780.6" stroke="#000" stroke-width="7"/><line x1="736.4" y1="1807.6" x2="736.4" y2="1795.6" stroke="#000" stroke-width="7"/><line x1="882.2" y1="1807.6" x2="882.2" y2="1780.6" stroke="#000" stroke-width="7"/><line x1="1028.1" y1="1807.6" x2="1028.1" y2="1795.6" stroke="#000" stroke-width="7"/><line x1="1174.0" y1="1807.6" x2="1174.0" y2="1780.6" stroke="#000" stroke-width="7"/><line x1="1319.8" y1="1807.6" x2="1319.8" y2="1795.6" stroke="#000" stroke-width="7"/><line x1="1465.7" y1="1807.6" x2="1465.7" y2="1780.6" stroke="#000" stroke-width="7"/><line x1="1611.5" y1="1807.6" x2="1611.5" y2="1795.6" stroke="#000" stroke-width="7"/><line x1="1757.4" y1="1807.6" x2="1757.4" y2="1780.6" stroke="#000" stroke-width="7"/><line x1="1903.3" y1="1807.6" x2="1903.3" y2="1795.6" stroke="#000" stroke-width="7"/><line x1="2049.1" y1="1807.6" x2="2049.1" y2="1780.6" stroke="#000" stroke-width="7"/><line x1="2195.0" y1="1807.6" x2="2195.0" y2="1795.6" stroke="#000" stroke-width="7"/><line x1="590.5" y1="2051.3" x2="590.5" y2="2024.3000000000002" stroke="#000" stroke-width="7"/><line x1="736.4" y1="2051.3" x2="736.4" y2="2039.3000000000002" stroke="#000" stroke-width="7"/><line x1="882.2" y1="2051.3" x2="882.2" y2="2024.3000000000002" stroke="#000" stroke-width="7"/><line x1="1028.1" y1="2051.3" x2="1028.1" y2="2039.3000000000002" stroke="#000" stroke-width="7"/><line x1="1174.0" y1="2051.3" x2="1174.0" y2="2024.3000000000002" stroke="#000" stroke-width="7"/><line x1="1319.8" y1="2051.3" x2="1319.8" y2="2039.3000000000002" stroke="#000" stroke-width="7"/><line x1="1465.7" y1="2051.3" x2="1465.7" y2="2024.3000000000002" stroke="#000" stroke-width="7"/><line x1="1611.5" y1="2051.3" x2="1611.5" y2="2039.3000000000002" stroke="#000" stroke-width="7"/><line x1="1757.4" y1="2051.3" x2="1757.4" y2="2024.3000000000002" stroke="#000" stroke-width="7"/><line x1="1903.3" y1="2051.3" x2="1903.3" y2="2039.3000000000002" stroke="#000" stroke-width="7"/><line x1="2049.1" y1="2051.3" x2="2049.1" y2="2024.3000000000002" stroke="#000" stroke-width="7"/><line x1="2195.0" y1="2051.3" x2="2195.0" y2="2039.3000000000002" stroke="#000" stroke-width="7"/><line x1="590.5" y1="2294.1000000000004" x2="590.5" y2="2267.1000000000004" stroke="#000" stroke-width="7"/><line x1="736.4" y1="2294.1000000000004" x2="736.4" y2="2282.1000000000004" stroke="#000" stroke-width="7"/><line x1="882.2" y1="2294.1000000000004" x2="882.2" y2="2267.1000000000004" stroke="#000" stroke-width="7"/><line x1="1028.1" y1="2294.1000000000004" x2="1028.1" y2="2282.1000000000004" stroke="#000" stroke-width="7"/><line x1="1174.0" y1="2294.1000000000004" x2="1174.0" y2="2267.1000000000004" stroke="#000" stroke-width="7"/><line x1="1319.8" y1="2294.1000000000004" x2="1319.8" y2="2282.1000000000004" stroke="#000" stroke-width="7"/><line x1="1465.7" y1="2294.1000000000004" x2="1465.7" y2="2267.1000000000004" stroke="#000" stroke-width="7"/><line x1="1611.5" y1="2294.1000000000004" x2="1611.5" y2="2282.1000000000004" stroke="#000" stroke-width="7"/><line x1="1757.4" y1="2294.1000000000004" x2="1757.4" y2="2267.1000000000004" stroke="#000" stroke-width="7"/><line x1="1903.3" y1="2294.1000000000004" x2="1903.3" y2="2282.1000000000004" stroke="#000" stroke-width="7"/><line x1="2049.1" y1="2294.1000000000004" x2="2049.1" y2="2267.1000000000004" stroke="#000" stroke-width="7"/><line x1="2195.0" y1="2294.1000000000004" x2="2195.0" y2="2282.1000000000004" stroke="#000" stroke-width="7"/><line x1="590.5" y1="2537.3" x2="590.5" y2="2510.3" stroke="#000" stroke-width="7"/><line x1="736.4" y1="2537.3" x2="736.4" y2="2525.3" stroke="#000" stroke-width="7"/><line x1="882.2" y1="2537.3" x2="882.2" y2="2510.3" stroke="#000" stroke-width="7"/><line x1="1028.1" y1="2537.3" x2="1028.1" y2="2525.3" stroke="#000" stroke-width="7"/><line x1="1174.0" y1="2537.3" x2="1174.0" y2="2510.3" stroke="#000" stroke-width="7"/><line x1="1319.8" y1="2537.3" x2="1319.8" y2="2525.3" stroke="#000" stroke-width="7"/><line x1="1465.7" y1="2537.3" x2="1465.7" y2="2510.3" stroke="#000" stroke-width="7"/><line x1="1611.5" y1="2537.3" x2="1611.5" y2="2525.3" stroke="#000" stroke-width="7"/><line x1="1757.4" y1="2537.3" x2="1757.4" y2="2510.3" stroke="#000" stroke-width="7"/><line x1="1903.3" y1="2537.3" x2="1903.3" y2="2525.3" stroke="#000" stroke-width="7"/><line x1="2049.1" y1="2537.3" x2="2049.1" y2="2510.3" stroke="#000" stroke-width="7"/><line x1="2195.0" y1="2537.3" x2="2195.0" y2="2525.3" stroke="#000" stroke-width="7"/><line x1="590.5" y1="106" x2="590.5" y2="136" stroke="#000" stroke-width="7"/><line x1="736.4" y1="106" x2="736.4" y2="118.5" stroke="#000" stroke-width="7"/><line x1="882.2" y1="106" x2="882.2" y2="136" stroke="#000" stroke-width="7"/><line x1="1028.1" y1="106" x2="1028.1" y2="118.5" stroke="#000" stroke-width="7"/><line x1="1174.0" y1="106" x2="1174.0" y2="136" stroke="#000" stroke-width="7"/><line x1="1319.8" y1="106" x2="1319.8" y2="118.5" stroke="#000" stroke-width="7"/><line x1="1465.7" y1="106" x2="1465.7" y2="136" stroke="#000" stroke-width="7"/><line x1="1611.5" y1="106" x2="1611.5" y2="118.5" stroke="#000" stroke-width="7"/><line x1="1757.4" y1="106" x2="1757.4" y2="136" stroke="#000" stroke-width="7"/><line x1="1903.3" y1="106" x2="1903.3" y2="118.5" stroke="#000" stroke-width="7"/><line x1="2049.1" y1="106" x2="2049.1" y2="136" stroke="#000" stroke-width="7"/><line x1="2195.0" y1="106" x2="2195.0" y2="118.5" stroke="#000" stroke-width="7"/></g>
<g><line x1="547.6" y1="2820.2" x2="2346" y2="2820.2" stroke="#000" stroke-width="5"/><line x1="533" y1="4201" x2="2346" y2="4201" stroke="#000" stroke-width="5.5"/><line x1="561.7" y1="2817.6" x2="561.7" y2="4227.5" stroke="#000" stroke-width="5.4"/><line x1="2343.5" y1="2817.6" x2="2343.5" y2="4214.5" stroke="#000" stroke-width="5.6"/><line x1="532.5" y1="4201.0" x2="562" y2="4201.0" stroke="#000" stroke-width="5.5"/><line x1="532.5" y1="3988.4" x2="562" y2="3988.4" stroke="#000" stroke-width="5.5"/><line x1="532.5" y1="3775.8" x2="562" y2="3775.8" stroke="#000" stroke-width="5.5"/><line x1="532.5" y1="3563.2" x2="562" y2="3563.2" stroke="#000" stroke-width="5.5"/><line x1="532.5" y1="3350.7" x2="562" y2="3350.7" stroke="#000" stroke-width="5.5"/><line x1="532.5" y1="3138.1" x2="562" y2="3138.1" stroke="#000" stroke-width="5.5"/><line x1="532.5" y1="2925.5" x2="562" y2="2925.5" stroke="#000" stroke-width="5.5"/><line x1="547" y1="4094.7" x2="562" y2="4094.7" stroke="#000" stroke-width="5.5"/><line x1="547" y1="3882.1" x2="562" y2="3882.1" stroke="#000" stroke-width="5.5"/><line x1="547" y1="3669.5" x2="562" y2="3669.5" stroke="#000" stroke-width="5.5"/><line x1="547" y1="3457.0" x2="562" y2="3457.0" stroke="#000" stroke-width="5.5"/><line x1="547" y1="3244.4" x2="562" y2="3244.4" stroke="#000" stroke-width="5.5"/><line x1="547" y1="3031.8" x2="562" y2="3031.8" stroke="#000" stroke-width="5.5"/><line x1="561.4" y1="4200" x2="561.4" y2="4227.6" stroke="#000" stroke-width="5.4"/><line x1="698.5" y1="4200" x2="698.5" y2="4214.5" stroke="#000" stroke-width="5.4"/><line x1="835.7" y1="4200" x2="835.7" y2="4227.6" stroke="#000" stroke-width="5.4"/><line x1="972.8" y1="4200" x2="972.8" y2="4214.5" stroke="#000" stroke-width="5.4"/><line x1="1109.9" y1="4200" x2="1109.9" y2="4227.6" stroke="#000" stroke-width="5.4"/><line x1="1247.1" y1="4200" x2="1247.1" y2="4214.5" stroke="#000" stroke-width="5.4"/><line x1="1384.2" y1="4200" x2="1384.2" y2="4227.6" stroke="#000" stroke-width="5.4"/><line x1="1521.3" y1="4200" x2="1521.3" y2="4214.5" stroke="#000" stroke-width="5.4"/><line x1="1658.5" y1="4200" x2="1658.5" y2="4227.6" stroke="#000" stroke-width="5.4"/><line x1="1795.6" y1="4200" x2="1795.6" y2="4214.5" stroke="#000" stroke-width="5.4"/><line x1="1932.7" y1="4200" x2="1932.7" y2="4227.6" stroke="#000" stroke-width="5.4"/><line x1="2069.9" y1="4200" x2="2069.9" y2="4214.5" stroke="#000" stroke-width="5.4"/><line x1="2207.0" y1="4200" x2="2207.0" y2="4227.6" stroke="#000" stroke-width="5.4"/><line x1="2344.1" y1="4200" x2="2344.1" y2="4214.5" stroke="#000" stroke-width="5.4"/><line x1="715.0" y1="2925.5" x2="715.0" y2="3231.6" stroke="#000" stroke-width="3"/><line x1="701.0" y1="2925.5" x2="729.0" y2="2925.5" stroke="#000" stroke-width="2.6"/><line x1="701.0" y1="3231.6" x2="729.0" y2="3231.6" stroke="#000" stroke-width="2.6"/><ellipse cx="715.0" cy="3078.6" rx="23.1" ry="22.4" fill="#000"/><line x1="890.5" y1="3172.1" x2="890.5" y2="3342.2" stroke="#000" stroke-width="3"/><line x1="876.5" y1="3172.1" x2="904.5" y2="3172.1" stroke="#000" stroke-width="2.6"/><line x1="876.5" y1="3342.2" x2="904.5" y2="3342.2" stroke="#000" stroke-width="2.6"/><ellipse cx="890.5" cy="3257.1" rx="23.1" ry="22.4" fill="#000"/><line x1="1055.1" y1="3159.3" x2="1055.1" y2="3371.9" stroke="#000" stroke-width="3"/><line x1="1041.1" y1="3159.3" x2="1069.1" y2="3159.3" stroke="#000" stroke-width="2.6"/><line x1="1041.1" y1="3371.9" x2="1069.1" y2="3371.9" stroke="#000" stroke-width="2.6"/><ellipse cx="1055.1" cy="3265.6" rx="23.1" ry="22.4" fill="#000"/><line x1="1219.6" y1="3401.7" x2="1219.6" y2="3486.7" stroke="#000" stroke-width="3"/><line x1="1205.6" y1="3401.7" x2="1233.6" y2="3401.7" stroke="#000" stroke-width="2.6"/><line x1="1205.6" y1="3486.7" x2="1233.6" y2="3486.7" stroke="#000" stroke-width="2.6"/><ellipse cx="1219.6" cy="3444.2" rx="23.1" ry="22.4" fill="#000"/><line x1="1384.2" y1="3486.7" x2="1384.2" y2="3554.7" stroke="#000" stroke-width="3"/><line x1="1370.2" y1="3486.7" x2="1398.2" y2="3486.7" stroke="#000" stroke-width="2.6"/><line x1="1370.2" y1="3554.7" x2="1398.2" y2="3554.7" stroke="#000" stroke-width="2.6"/><ellipse cx="1384.2" cy="3520.7" rx="23.1" ry="22.4" fill="#000"/><line x1="1548.8" y1="3584.5" x2="1548.8" y2="3635.5" stroke="#000" stroke-width="3"/><line x1="1534.8" y1="3584.5" x2="1562.8" y2="3584.5" stroke="#000" stroke-width="2.6"/><line x1="1534.8" y1="3635.5" x2="1562.8" y2="3635.5" stroke="#000" stroke-width="2.6"/><ellipse cx="1548.8" cy="3610.0" rx="23.1" ry="22.4" fill="#000"/><line x1="1713.3" y1="3673.8" x2="1713.3" y2="3724.8" stroke="#000" stroke-width="3"/><line x1="1699.3" y1="3673.8" x2="1727.3" y2="3673.8" stroke="#000" stroke-width="2.6"/><line x1="1699.3" y1="3724.8" x2="1727.3" y2="3724.8" stroke="#000" stroke-width="2.6"/><ellipse cx="1713.3" cy="3699.3" rx="23.1" ry="22.4" fill="#000"/><line x1="1877.9" y1="3818.3" x2="1877.9" y2="3852.4" stroke="#000" stroke-width="3"/><line x1="1863.9" y1="3818.3" x2="1891.9" y2="3818.3" stroke="#000" stroke-width="2.6"/><line x1="1863.9" y1="3852.4" x2="1891.9" y2="3852.4" stroke="#000" stroke-width="2.6"/><ellipse cx="1877.9" cy="3835.4" rx="23.1" ry="22.4" fill="#000"/><line x1="2042.4" y1="3992.7" x2="2042.4" y2="4026.7" stroke="#000" stroke-width="3"/><line x1="2028.4" y1="3992.7" x2="2056.4" y2="3992.7" stroke="#000" stroke-width="2.6"/><line x1="2028.4" y1="4026.7" x2="2056.4" y2="4026.7" stroke="#000" stroke-width="2.6"/><ellipse cx="2042.4" cy="4009.7" rx="23.1" ry="22.4" fill="#000"/><line x1="2207.0" y1="4009.7" x2="2207.0" y2="4094.7" stroke="#000" stroke-width="3"/><line x1="2193.0" y1="4009.7" x2="2221.0" y2="4009.7" stroke="#000" stroke-width="2.6"/><line x1="2193.0" y1="4094.7" x2="2221.0" y2="4094.7" stroke="#000" stroke-width="2.6"/><ellipse cx="2207.0" cy="4052.2" rx="23.1" ry="22.4" fill="#000"/></g>
<g fill="#000"><text transform="translate(279.70,191.80) scale(0.7575,0.6974)" font-family="'DejaVu Sans', 'Liberation Sans', sans-serif" font-weight="400" font-style="normal" font-size="100">0.000</text><text transform="translate(279.69,314.81) scale(0.7583,0.6868)" font-family="'DejaVu Sans', 'Liberation Sans', sans-serif" font-weight="400" font-style="normal" font-size="100">0.035</text><text transform="translate(1379.52,281.70) scale(0.4407,0.4293)" font-family="'DejaVu Sans', 'Liberation Sans', sans-serif" font-weight="700" font-style="normal" font-size="100">τ</text><text transform="translate(1413.81,281.70) scale(0.4355,0.4293)" font-family="'DejaVu Sans', 'Liberation Sans', sans-serif" font-weight="700" font-style="normal" font-size="100">=</text><text transform="translate(1457.21,281.70) scale(0.4239,0.4293)" font-family="'DejaVu Sans', 'Liberation Sans', sans-serif" font-weight="700" font-style="normal" font-size="100">26.4</text><text transform="translate(1573.28,281.70) scale(0.4113,0.4293)" font-family="'DejaVu Sans', 'Liberation Sans', sans-serif" font-weight="700" font-style="normal" font-size="100">±</text><text transform="translate(1618.34,281.70) scale(0.4370,0.4293)" font-family="'DejaVu Sans', 'Liberation Sans', sans-serif" font-weight="700" font-style="normal" font-size="100">3.6</text><text transform="translate(1707.35,281.70) scale(0.4615,0.4293)" font-family="'DejaVu Sans', 'Liberation Sans', sans-serif" font-weight="400" font-style="normal" font-size="100">μ</text><text transform="translate(1736.70,281.70) scale(0.4600,0.4293)" font-family="'DejaVu Sans', 'Liberation Sans', sans-serif" font-weight="700" font-style="normal" font-size="100">s</text><text transform="translate(2141.21,305.80) scale(0.5741,0.4960)" font-family="'DejaVu Sans', 'Liberation Sans', sans-serif" font-weight="400" font-style="normal" font-size="100">78</text><text transform="translate(2226.58,305.80) scale(0.5018,0.4960)" font-family="'DejaVu Sans', 'Liberation Sans', sans-serif" font-weight="400" font-style="normal" font-size="100">K</text><text transform="translate(279.70,435.32) scale(0.7575,0.6842)" font-family="'DejaVu Sans', 'Liberation Sans', sans-serif" font-weight="400" font-style="normal" font-size="100">0.000</text><text transform="translate(279.69,559.01) scale(0.7583,0.6908)" font-family="'DejaVu Sans', 'Liberation Sans', sans-serif" font-weight="400" font-style="normal" font-size="100">0.035</text><text transform="translate(1380.52,523.60) scale(0.4395,0.4413)" font-family="'DejaVu Sans', 'Liberation Sans', sans-serif" font-weight="700" font-style="normal" font-size="100">τ</text><text transform="translate(1414.72,523.60) scale(0.4343,0.4413)" font-family="'DejaVu Sans', 'Liberation Sans', sans-serif" font-weight="700" font-style="normal" font-size="100">=</text><text transform="translate(1457.95,523.60) scale(0.4302,0.4413)" font-family="'DejaVu Sans', 'Liberation Sans', sans-serif" font-weight="700" font-style="normal" font-size="100">22.2</text><text transform="translate(1573.77,523.60) scale(0.4102,0.4413)" font-family="'DejaVu Sans', 'Liberation Sans', sans-serif" font-weight="700" font-style="normal" font-size="100">±</text><text transform="translate(1618.26,523.60) scale(0.4385,0.4413)" font-family="'DejaVu Sans', 'Liberation Sans', sans-serif" font-weight="700" font-style="normal" font-size="100">2.0</text><text transform="translate(1707.49,523.60) scale(0.4603,0.4413)" font-family="'DejaVu Sans', 'Liberation Sans', sans-serif" font-weight="400" font-style="normal" font-size="100">μ</text><text transform="translate(1736.77,523.60) scale(0.4588,0.4413)" font-family="'DejaVu Sans', 'Liberation Sans', sans-serif" font-weight="700" font-style="normal" font-size="100">s</text><text transform="translate(2138.20,557.20) scale(0.5543,0.5053)" font-family="'DejaVu Sans', 'Liberation Sans', sans-serif" font-weight="400" font-style="normal" font-size="100">110</text><text transform="translate(2256.58,557.20) scale(0.5018,0.5053)" font-family="'DejaVu Sans', 'Liberation Sans', sans-serif" font-weight="400" font-style="normal" font-size="100">K</text><text transform="translate(279.70,679.01) scale(0.7575,0.6882)" font-family="'DejaVu Sans', 'Liberation Sans', sans-serif" font-weight="400" font-style="normal" font-size="100">0.000</text><text transform="translate(279.69,802.62) scale(0.7583,0.6816)" font-family="'DejaVu Sans', 'Liberation Sans', sans-serif" font-weight="400" font-style="normal" font-size="100">0.035</text><text transform="translate(1391.62,762.10) scale(0.4389,0.4213)" font-family="'DejaVu Sans', 'Liberation Sans', sans-serif" font-weight="700" font-style="normal" font-size="100">τ</text><text transform="translate(1425.78,762.10) scale(0.4338,0.4213)" font-family="'DejaVu Sans', 'Liberation Sans', sans-serif" font-weight="700" font-style="normal" font-size="100">=</text><text transform="translate(1469.01,762.10) scale(0.4223,0.4213)" font-family="'DejaVu Sans', 'Liberation Sans', sans-serif" font-weight="700" font-style="normal" font-size="100">22.0</text><text transform="translate(1584.62,762.10) scale(0.4097,0.4213)" font-family="'DejaVu Sans', 'Liberation Sans', sans-serif" font-weight="700" font-style="normal" font-size="100">±</text><text transform="translate(1629.01,762.10) scale(0.4433,0.4213)" font-family="'DejaVu Sans', 'Liberation Sans', sans-serif" font-weight="700" font-style="normal" font-size="100">2.5</text><text transform="translate(1718.16,762.10) scale(0.4597,0.4213)" font-family="'DejaVu Sans', 'Liberation Sans', sans-serif" font-weight="400" font-style="normal" font-size="100">μ</text><text transform="translate(1747.40,762.10) scale(0.4582,0.4213)" font-family="'DejaVu Sans', 'Liberation Sans', sans-serif" font-weight="700" font-style="normal" font-size="100">s</text><text transform="translate(2147.50,784.60) scale(0.5543,0.4987)" font-family="'DejaVu Sans', 'Liberation Sans', sans-serif" font-weight="400" font-style="normal" font-size="100">140</text><text transform="translate(2265.18,784.60) scale(0.5018,0.4987)" font-family="'DejaVu Sans', 'Liberation Sans', sans-serif" font-weight="400" font-style="normal" font-size="100">K</text><text transform="translate(279.70,897.30) scale(0.7575,0.6974)" font-family="'DejaVu Sans', 'Liberation Sans', sans-serif" font-weight="400" font-style="normal" font-size="100">0.000</text><text transform="translate(279.69,1019.02) scale(0.7593,0.6803)" font-family="'DejaVu Sans', 'Liberation Sans', sans-serif" font-weight="400" font-style="normal" font-size="100">0.091</text><text transform="translate(1391.62,1001.20) scale(0.4389,0.4293)" font-family="'DejaVu Sans', 'Liberation Sans', sans-serif" font-weight="700" font-style="normal" font-size="100">τ</text><text transform="translate(1425.78,1001.20) scale(0.4338,0.4293)" font-family="'DejaVu Sans', 'Liberation Sans', sans-serif" font-weight="700" font-style="normal" font-size="100">=</text><text transform="translate(1467.66,1001.20) scale(0.4296,0.4293)" font-family="'DejaVu Sans', 'Liberation Sans', sans-serif" font-weight="700" font-style="normal" font-size="100">17.8</text><text transform="translate(1584.62,1001.20) scale(0.4097,0.4293)" font-family="'DejaVu Sans', 'Liberation Sans', sans-serif" font-weight="700" font-style="normal" font-size="100">±</text><text transform="translate(1627.65,1001.20) scale(0.4461,0.4293)" font-family="'DejaVu Sans', 'Liberation Sans', sans-serif" font-weight="700" font-style="normal" font-size="100">1.0</text><text transform="translate(1718.16,1001.20) scale(0.4597,0.4293)" font-family="'DejaVu Sans', 'Liberation Sans', sans-serif" font-weight="400" font-style="normal" font-size="100">μ</text><text transform="translate(1747.40,1001.20) scale(0.4582,0.4293)" font-family="'DejaVu Sans', 'Liberation Sans', sans-serif" font-weight="700" font-style="normal" font-size="100">s</text><text transform="translate(2147.64,1036.50) scale(0.5416,0.5013)" font-family="'DejaVu Sans', 'Liberation Sans', sans-serif" font-weight="400" font-style="normal" font-size="100">170</text><text transform="translate(2263.78,1036.50) scale(0.5018,0.5013)" font-family="'DejaVu Sans', 'Liberation Sans', sans-serif" font-weight="400" font-style="normal" font-size="100">K</text><text transform="translate(279.70,1151.31) scale(0.7575,0.6882)" font-family="'DejaVu Sans', 'Liberation Sans', sans-serif" font-weight="400" font-style="normal" font-size="100">0.000</text><text transform="translate(279.70,1272.91) scale(0.7575,0.6921)" font-family="'DejaVu Sans', 'Liberation Sans', sans-serif" font-weight="400" font-style="normal" font-size="100">0.096</text><text transform="translate(1394.62,1245.60) scale(0.4396,0.4293)" font-family="'DejaVu Sans', 'Liberation Sans', sans-serif" font-weight="700" font-style="normal" font-size="100">τ</text><text transform="translate(1428.83,1245.60) scale(0.4345,0.4293)" font-family="'DejaVu Sans', 'Liberation Sans', sans-serif" font-weight="700" font-style="normal" font-size="100">=</text><text transform="translate(1470.80,1245.60) scale(0.4284,0.4293)" font-family="'DejaVu Sans', 'Liberation Sans', sans-serif" font-weight="700" font-style="normal" font-size="100">16.0</text><text transform="translate(1587.92,1245.60) scale(0.4103,0.4293)" font-family="'DejaVu Sans', 'Liberation Sans', sans-serif" font-weight="700" font-style="normal" font-size="100">±</text><text transform="translate(1633.77,1245.60) scale(0.4333,0.4293)" font-family="'DejaVu Sans', 'Liberation Sans', sans-serif" font-weight="700" font-style="normal" font-size="100">0.8</text><text transform="translate(1721.68,1245.60) scale(0.4604,0.4293)" font-family="'DejaVu Sans', 'Liberation Sans', sans-serif" font-weight="400" font-style="normal" font-size="100">μ</text><text transform="translate(1750.96,1245.60) scale(0.4589,0.4293)" font-family="'DejaVu Sans', 'Liberation Sans', sans-serif" font-weight="700" font-style="normal" font-size="100">s</text><text transform="translate(2144.84,1280.30) scale(0.5373,0.4987)" font-family="'DejaVu Sans', 'Liberation Sans', sans-serif" font-weight="400" font-style="normal" font-size="100">200</text><text transform="translate(2261.56,1280.30) scale(0.5035,0.4987)" font-family="'DejaVu Sans', 'Liberation Sans', sans-serif" font-weight="400" font-style="normal" font-size="100">K</text><text transform="translate(374.59,1397.01) scale(0.7724,0.6882)" font-family="'DejaVu Sans', 'Liberation Sans', sans-serif" font-weight="400" font-style="normal" font-size="100">0.0</text><text transform="translate(374.62,1517.31) scale(0.7692,0.6868)" font-family="'DejaVu Sans', 'Liberation Sans', sans-serif" font-weight="400" font-style="normal" font-size="100">0.1</text><text transform="translate(1387.72,1485.60) scale(0.4393,0.4293)" font-family="'DejaVu Sans', 'Liberation Sans', sans-serif" font-weight="700" font-style="normal" font-size="100">τ</text><text transform="translate(1421.90,1485.60) scale(0.4341,0.4293)" font-family="'DejaVu Sans', 'Liberation Sans', sans-serif" font-weight="700" font-style="normal" font-size="100">=</text><text transform="translate(1463.80,1485.60) scale(0.4318,0.4293)" font-family="'DejaVu Sans', 'Liberation Sans', sans-serif" font-weight="700" font-style="normal" font-size="100">13.9</text><text transform="translate(1580.87,1485.60) scale(0.4100,0.4293)" font-family="'DejaVu Sans', 'Liberation Sans', sans-serif" font-weight="700" font-style="normal" font-size="100">±</text><text transform="translate(1626.69,1485.60) scale(0.4304,0.4293)" font-family="'DejaVu Sans', 'Liberation Sans', sans-serif" font-weight="700" font-style="normal" font-size="100">0.6</text><text transform="translate(1714.52,1485.60) scale(0.4601,0.4293)" font-family="'DejaVu Sans', 'Liberation Sans', sans-serif" font-weight="400" font-style="normal" font-size="100">μ</text><text transform="translate(1743.78,1485.60) scale(0.4586,0.4293)" font-family="'DejaVu Sans', 'Liberation Sans', sans-serif" font-weight="700" font-style="normal" font-size="100">s</text><text transform="translate(2148.44,1535.50) scale(0.5373,0.5013)" font-family="'DejaVu Sans', 'Liberation Sans', sans-serif" font-weight="400" font-style="normal" font-size="100">230</text><text transform="translate(2263.78,1535.50) scale(0.5018,0.5013)" font-family="'DejaVu Sans', 'Liberation Sans', sans-serif" font-weight="400" font-style="normal" font-size="100">K</text><text transform="translate(279.70,1641.31) scale(0.7575,0.6947)" font-family="'DejaVu Sans', 'Liberation Sans', sans-serif" font-weight="400" font-style="normal" font-size="100">0.000</text><text transform="translate(279.68,1761.32) scale(0.7601,0.6842)" font-family="'DejaVu Sans', 'Liberation Sans', sans-serif" font-weight="400" font-style="normal" font-size="100">0.097</text><text transform="translate(1384.12,1739.00) scale(0.4388,0.4320)" font-family="'DejaVu Sans', 'Liberation Sans', sans-serif" font-weight="700" font-style="normal" font-size="100">τ</text><text transform="translate(1418.27,1739.00) scale(0.4337,0.4320)" font-family="'DejaVu Sans', 'Liberation Sans', sans-serif" font-weight="700" font-style="normal" font-size="100">=</text><text transform="translate(1460.14,1739.00) scale(0.4295,0.4320)" font-family="'DejaVu Sans', 'Liberation Sans', sans-serif" font-weight="700" font-style="normal" font-size="100">11.8</text><text transform="translate(1577.07,1739.00) scale(0.4096,0.4320)" font-family="'DejaVu Sans', 'Liberation Sans', sans-serif" font-weight="700" font-style="normal" font-size="100">±</text><text transform="translate(1622.84,1739.00) scale(0.4299,0.4320)" font-family="'DejaVu Sans', 'Liberation Sans', sans-serif" font-weight="700" font-style="normal" font-size="100">0.6</text><text transform="translate(1710.58,1739.00) scale(0.4596,0.4320)" font-family="'DejaVu Sans', 'Liberation Sans', sans-serif" font-weight="400" font-style="normal" font-size="100">μ</text><text transform="translate(1739.81,1739.00) scale(0.4581,0.4320)" font-family="'DejaVu Sans', 'Liberation Sans', sans-serif" font-weight="700" font-style="normal" font-size="100">s</text><text transform="translate(2136.91,1768.60) scale(0.5418,0.5013)" font-family="'DejaVu Sans', 'Liberation Sans', sans-serif" font-weight="400" font-style="normal" font-size="100">260</text><text transform="translate(2252.26,1768.60) scale(0.5035,0.5013)" font-family="'DejaVu Sans', 'Liberation Sans', sans-serif" font-weight="400" font-style="normal" font-size="100">K</text><text transform="translate(279.70,1883.31) scale(0.7575,0.6882)" font-family="'DejaVu Sans', 'Liberation Sans', sans-serif" font-weight="400" font-style="normal" font-size="100">0.000</text><text transform="translate(279.69,2004.91) scale(0.7593,0.6882)" font-family="'DejaVu Sans', 'Liberation Sans', sans-serif" font-weight="400" font-style="normal" font-size="100">0.081</text><text transform="translate(1384.15,1985.20) scale(0.4237,0.4200)" font-family="'DejaVu Sans', 'Liberation Sans', sans-serif" font-weight="700" font-style="normal" font-size="100">τ</text><text transform="translate(1418.42,1985.20) scale(0.4161,0.4200)" font-family="'DejaVu Sans', 'Liberation Sans', sans-serif" font-weight="700" font-style="normal" font-size="100">=</text><text transform="translate(1461.20,1985.20) scale(0.4337,0.4200)" font-family="'DejaVu Sans', 'Liberation Sans', sans-serif" font-weight="700" font-style="normal" font-size="100">8.6</text><text transform="translate(1549.15,1985.20) scale(0.3952,0.4200)" font-family="'DejaVu Sans', 'Liberation Sans', sans-serif" font-weight="700" font-style="normal" font-size="100">±</text><text transform="translate(1593.44,1985.20) scale(0.4311,0.4200)" font-family="'DejaVu Sans', 'Liberation Sans', sans-serif" font-weight="700" font-style="normal" font-size="100">0.4</text><text transform="translate(1681.30,1985.20) scale(0.4442,0.4200)" font-family="'DejaVu Sans', 'Liberation Sans', sans-serif" font-weight="400" font-style="normal" font-size="100">μ</text><text transform="translate(1710.88,1985.20) scale(0.4240,0.4200)" font-family="'DejaVu Sans', 'Liberation Sans', sans-serif" font-weight="700" font-style="normal" font-size="100">s</text><text transform="translate(2144.84,2021.90) scale(0.5373,0.5013)" font-family="'DejaVu Sans', 'Liberation Sans', sans-serif" font-weight="400" font-style="normal" font-size="100">290</text><text transform="translate(2261.56,2021.90) scale(0.5035,0.5013)" font-family="'DejaVu Sans', 'Liberation Sans', sans-serif" font-weight="400" font-style="normal" font-size="100">K</text><text transform="translate(326.65,2127.91) scale(0.7646,0.6947)" font-family="'DejaVu Sans', 'Liberation Sans', sans-serif" font-weight="400" font-style="normal" font-size="100">0.00</text><text transform="translate(327.15,2249.51) scale(0.7638,0.6868)" font-family="'DejaVu Sans', 'Liberation Sans', sans-serif" font-weight="400" font-style="normal" font-size="100">0.07</text><text transform="translate(1384.15,2227.40) scale(0.4237,0.4240)" font-family="'DejaVu Sans', 'Liberation Sans', sans-serif" font-weight="700" font-style="normal" font-size="100">τ</text><text transform="translate(1418.42,2227.40) scale(0.4161,0.4240)" font-family="'DejaVu Sans', 'Liberation Sans', sans-serif" font-weight="700" font-style="normal" font-size="100">=</text><text transform="translate(1461.62,2227.40) scale(0.4364,0.4240)" font-family="'DejaVu Sans', 'Liberation Sans', sans-serif" font-weight="700" font-style="normal" font-size="100">4.5</text><text transform="translate(1549.15,2227.40) scale(0.3952,0.4240)" font-family="'DejaVu Sans', 'Liberation Sans', sans-serif" font-weight="700" font-style="normal" font-size="100">±</text><text transform="translate(1593.44,2227.40) scale(0.4311,0.4240)" font-family="'DejaVu Sans', 'Liberation Sans', sans-serif" font-weight="700" font-style="normal" font-size="100">0.4</text><text transform="translate(1681.30,2227.40) scale(0.4442,0.4240)" font-family="'DejaVu Sans', 'Liberation Sans', sans-serif" font-weight="400" font-style="normal" font-size="100">μ</text><text transform="translate(1710.88,2227.40) scale(0.4240,0.4240)" font-family="'DejaVu Sans', 'Liberation Sans', sans-serif" font-weight="700" font-style="normal" font-size="100">s</text><text transform="translate(2147.88,2264.30) scale(0.5403,0.5053)" font-family="'DejaVu Sans', 'Liberation Sans', sans-serif" font-weight="400" font-style="normal" font-size="100">320</text><text transform="translate(2263.78,2264.30) scale(0.5018,0.5053)" font-family="'DejaVu Sans', 'Liberation Sans', sans-serif" font-weight="400" font-style="normal" font-size="100">K</text><text transform="translate(279.70,2399.31) scale(0.7575,0.6908)" font-family="'DejaVu Sans', 'Liberation Sans', sans-serif" font-weight="400" font-style="normal" font-size="100">0.000</text><text transform="translate(279.69,2519.00) scale(0.7592,0.6987)" font-family="'DejaVu Sans', 'Liberation Sans', sans-serif" font-weight="400" font-style="normal" font-size="100">0.038</text><text transform="translate(1373.12,2481.30) scale(0.3390,0.3667)" font-family="'DejaVu Sans', 'Liberation Sans', sans-serif" font-weight="700" font-style="normal" font-size="100">τ</text><text transform="translate(1403.38,2481.30) scale(0.3839,0.3667)" font-family="'DejaVu Sans', 'Liberation Sans', sans-serif" font-weight="700" font-style="normal" font-size="100">=</text><text transform="translate(1443.66,2481.30) scale(0.3914,0.3667)" font-family="'DejaVu Sans', 'Liberation Sans', sans-serif" font-weight="700" font-style="normal" font-size="100">3.5</text><text transform="translate(1522.51,2481.30) scale(0.3629,0.3667)" font-family="'DejaVu Sans', 'Liberation Sans', sans-serif" font-weight="700" font-style="normal" font-size="100">±</text><text transform="translate(1563.52,2481.30) scale(0.3888,0.3667)" font-family="'DejaVu Sans', 'Liberation Sans', sans-serif" font-weight="700" font-style="normal" font-size="100">1.0</text><text transform="translate(1643.01,2481.30) scale(0.4096,0.3667)" font-family="'DejaVu Sans', 'Liberation Sans', sans-serif" font-weight="400" font-style="normal" font-size="100">μ</text><text transform="translate(1669.82,2481.30) scale(0.3760,0.3667)" font-family="'DejaVu Sans', 'Liberation Sans', sans-serif" font-weight="700" font-style="normal" font-size="100">s</text><text transform="translate(2147.78,2495.40) scale(0.5528,0.5000)" font-family="'DejaVu Sans', 'Liberation Sans', sans-serif" font-weight="400" font-style="normal" font-size="100">350</text><text transform="translate(2265.18,2495.40) scale(0.5018,0.5000)" font-family="'DejaVu Sans', 'Liberation Sans', sans-serif" font-weight="400" font-style="normal" font-size="100">K</text><text transform="translate(562.80,2634.31) scale(0.8280,0.6934)" font-family="'DejaVu Sans', 'Liberation Sans', sans-serif" font-weight="400" font-style="normal" font-size="100">0</text><text transform="translate(832.87,2634.31) scale(0.7661,0.6934)" font-family="'DejaVu Sans', 'Liberation Sans', sans-serif" font-weight="400" font-style="normal" font-size="100">50</text><text transform="translate(1101.86,2634.31) scale(0.7578,0.6934)" font-family="'DejaVu Sans', 'Liberation Sans', sans-serif" font-weight="400" font-style="normal" font-size="100">100</text><text transform="translate(1394.36,2634.31) scale(0.7578,0.6934)" font-family="'DejaVu Sans', 'Liberation Sans', sans-serif" font-weight="400" font-style="normal" font-size="100">150</text><text transform="translate(1686.65,2634.31) scale(0.7503,0.6934)" font-family="'DejaVu Sans', 'Liberation Sans', sans-serif" font-weight="400" font-style="normal" font-size="100">200</text><text transform="translate(1977.38,2634.31) scale(0.7599,0.6934)" font-family="'DejaVu Sans', 'Liberation Sans', sans-serif" font-weight="400" font-style="normal" font-size="100">250</text><text transform="translate(2268.34,2634.31) scale(0.7574,0.6934)" font-family="'DejaVu Sans', 'Liberation Sans', sans-serif" font-weight="400" font-style="normal" font-size="100">300</text><text transform="translate(47.61,157.98) scale(1.2154,1.5723)" font-family="'Liberation Sans', sans-serif" font-weight="400" font-style="normal" font-size="100">(</text><text transform="translate(98.34,161.99) scale(1.2154,1.5109)" font-family="'Liberation Sans', sans-serif" font-weight="400" font-style="normal" font-size="100">a</text><text transform="translate(188.52,157.98) scale(1.1808,1.5723)" font-family="'Liberation Sans', sans-serif" font-weight="400" font-style="normal" font-size="100">)</text><text transform="translate(92.85,2871.09) scale(1.1923,1.5766)" font-family="'Liberation Sans', sans-serif" font-weight="400" font-style="normal" font-size="100">(</text><text transform="translate(141.95,2875.50) scale(1.5932,1.6041)" font-family="'Liberation Sans', sans-serif" font-weight="400" font-style="normal" font-size="100">b</text><text transform="translate(240.11,2871.09) scale(1.1923,1.5766)" font-family="'Liberation Sans', sans-serif" font-weight="400" font-style="normal" font-size="100">)</text><text transform="translate(1092.54,2758.35) scale(0.9696,0.8691)" font-family="'Liberation Sans', sans-serif" font-weight="400" font-style="normal" font-size="100">Delay</text><text transform="translate(1365.27,2759.47) scale(1.0170,0.8297)" font-family="'Liberation Sans', sans-serif" font-weight="400" font-style="normal" font-size="100">Time</text><text transform="translate(1611.73,2757.50) scale(0.9623,0.8809)" font-family="'Liberation Sans', sans-serif" font-weight="400" font-style="normal" font-size="100">(μs)</text><text transform="translate(938.98,4460.46) scale(1.1614,1.0544)" font-family="'Liberation Sans', sans-serif" font-weight="400" font-style="normal" font-size="100">Temperature</text><text transform="translate(1621.72,4459.60) scale(0.9967,1.0809)" font-family="'Liberation Sans', sans-serif" font-weight="400" font-style="normal" font-size="100">(K)</text><text transform="translate(0,1395.70) rotate(-90) translate(-2.74,115.20) scale(0.9123,1.1855)" font-family="'Liberation Sans', sans-serif" font-weight="400" font-style="normal" font-size="100">ΔA</text><text transform="translate(0,1243.70) rotate(-90) translate(-5.55,111.48) scale(0.9245,1.1723)" font-family="'Liberation Sans', sans-serif" font-weight="400" font-style="normal" font-size="100">(OD)</text><text transform="translate(0,3629.90) rotate(-90) translate(-5.51,333.87) scale(1.3763,1.0315)" font-family="'Liberation Sans', sans-serif" font-weight="400" font-style="italic" font-size="100">τ</text><text transform="translate(0,3556.50) rotate(-90) translate(-6.41,333.64) scale(1.0691,1.1266)" font-family="'Liberation Sans', sans-serif" font-weight="400" font-style="normal" font-size="100">(μs)</text><text transform="translate(509.54,4313.43) scale(0.7955,0.7724)" font-family="'DejaVu Sans', 'Liberation Sans', sans-serif" font-weight="400" font-style="normal" font-size="100">50</text><text transform="translate(760.48,4313.43) scale(0.7746,0.7724)" font-family="'DejaVu Sans', 'Liberation Sans', sans-serif" font-weight="400" font-style="normal" font-size="100">100</text><text transform="translate(1034.69,4313.43) scale(0.7740,0.7724)" font-family="'DejaVu Sans', 'Liberation Sans', sans-serif" font-weight="400" font-style="normal" font-size="100">150</text><text transform="translate(1310.80,4313.43) scale(0.7565,0.7724)" font-family="'DejaVu Sans', 'Liberation Sans', sans-serif" font-weight="400" font-style="normal" font-size="100">200</text><text transform="translate(1586.51,4313.43) scale(0.7418,0.7724)" font-family="'DejaVu Sans', 'Liberation Sans', sans-serif" font-weight="400" font-style="normal" font-size="100">250</text><text transform="translate(1857.10,4313.43) scale(0.7875,0.7724)" font-family="'DejaVu Sans', 'Liberation Sans', sans-serif" font-weight="400" font-style="normal" font-size="100">300</text><text transform="translate(2131.16,4313.43) scale(0.7795,0.7724)" font-family="'DejaVu Sans', 'Liberation Sans', sans-serif" font-weight="400" font-style="normal" font-size="100">350</text><text transform="translate(415.59,2947.11) scale(0.8009,0.7789)" font-family="'DejaVu Sans', 'Liberation Sans', sans-serif" font-weight="400" font-style="normal" font-size="100">30</text><text transform="translate(416.51,3159.69) scale(0.7838,0.7893)" font-family="'DejaVu Sans', 'Liberation Sans', sans-serif" font-weight="400" font-style="normal" font-size="100">25</text><text transform="translate(416.44,3372.28) scale(0.7938,0.7789)" font-family="'DejaVu Sans', 'Liberation Sans', sans-serif" font-weight="400" font-style="normal" font-size="100">20</text><text transform="translate(415.93,3584.84) scale(0.7972,0.8000)" font-family="'DejaVu Sans', 'Liberation Sans', sans-serif" font-weight="400" font-style="normal" font-size="100">15</text><text transform="translate(415.89,3797.45) scale(0.8009,0.7789)" font-family="'DejaVu Sans', 'Liberation Sans', sans-serif" font-weight="400" font-style="normal" font-size="100">10</text><text transform="translate(463.21,4010.01) scale(0.8362,0.8000)" font-family="'DejaVu Sans', 'Liberation Sans', sans-serif" font-weight="400" font-style="normal" font-size="100">5</text><text transform="translate(464.01,4222.62) scale(0.8420,0.7789)" font-family="'DejaVu Sans', 'Liberation Sans', sans-serif" font-weight="400" font-style="normal" font-size="100">0</text><text transform="translate(218.43,316.45) scale(0.6571,0.5500)" font-family="'DejaVu Sans', 'Liberation Sans', sans-serif" font-size="100">−</text><text transform="translate(218.43,548.85) scale(0.6571,0.5500)" font-family="'DejaVu Sans', 'Liberation Sans', sans-serif" font-size="100">−</text><text transform="translate(219.07,792.35) scale(0.6429,0.5500)" font-family="'DejaVu Sans', 'Liberation Sans', sans-serif" font-size="100">−</text><text transform="translate(219.07,1008.05) scale(0.6429,0.5500)" font-family="'DejaVu Sans', 'Liberation Sans', sans-serif" font-size="100">−</text><text transform="translate(219.07,1264.05) scale(0.6429,0.5500)" font-family="'DejaVu Sans', 'Liberation Sans', sans-serif" font-size="100">−</text><text transform="translate(311.44,1508.35) scale(0.6556,0.5500)" font-family="'DejaVu Sans', 'Liberation Sans', sans-serif" font-size="100">−</text><text transform="translate(219.07,1752.65) scale(0.6429,0.5500)" font-family="'DejaVu Sans', 'Liberation Sans', sans-serif" font-size="100">−</text><text transform="translate(219.07,2000.75) scale(0.6429,0.5500)" font-family="'DejaVu Sans', 'Liberation Sans', sans-serif" font-size="100">−</text><text transform="translate(270.78,2246.05) scale(0.6524,0.5500)" font-family="'DejaVu Sans', 'Liberation Sans', sans-serif" font-size="100">−</text><text transform="translate(219.04,2510.65) scale(0.6460,0.5500)" font-family="'DejaVu Sans', 'Liberation Sans', sans-serif" font-size="100">−</text></g>
</svg></body></html>
